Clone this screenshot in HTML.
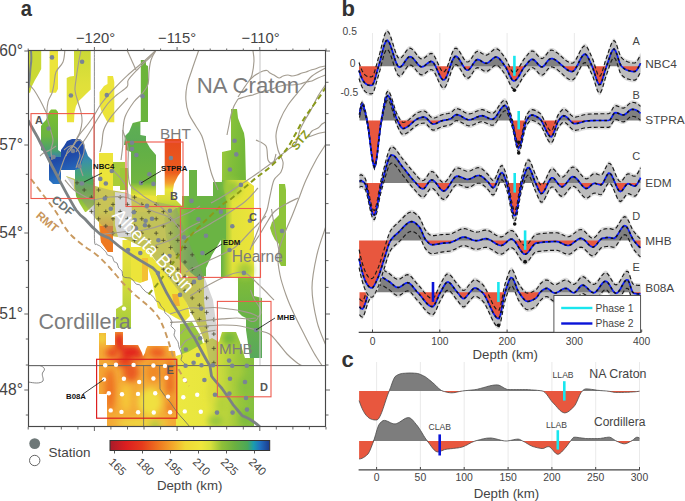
<!DOCTYPE html>
<html><head><meta charset="utf-8"><style>html,body{margin:0;padding:0;background:#fff;}svg{display:block;}text{font-family:"Liberation Sans",sans-serif;}</style></head>
<body><svg width="685" height="501" viewBox="0 0 685 501" font-family="Liberation Sans, sans-serif">
<defs>
<linearGradient id="g3" x1="0" y1="0" x2="0" y2="1"><stop offset="0" stop-color="#cbd936"/><stop offset="0.45" stop-color="#dfe03a"/><stop offset="1" stop-color="#ece43a"/></linearGradient>
<linearGradient id="gst" x1="0" y1="0" x2="0" y2="1"><stop offset="0" stop-color="#e64a1e"/><stop offset="0.5" stop-color="#ec5c1e"/><stop offset="0.66" stop-color="#f4a030"/><stop offset="0.75" stop-color="#ece43a"/><stop offset="0.9" stop-color="#d8dc3a"/><stop offset="1" stop-color="#b8d43a"/></linearGradient>
<linearGradient id="gcol" gradientUnits="userSpaceOnUse" x1="221" y1="0" x2="254" y2="0"><stop offset="0" stop-color="#62b044"/><stop offset="0.18" stop-color="#a4ca3a"/><stop offset="0.35" stop-color="#e2e23a"/><stop offset="1" stop-color="#ece43a"/></linearGradient>
<linearGradient id="gcolt" x1="0" y1="0" x2="1" y2="0.3"><stop offset="0" stop-color="#a4cc3a"/><stop offset="0.5" stop-color="#84c03a"/><stop offset="1" stop-color="#74b838"/></linearGradient>
<linearGradient id="gblue" x1="0" y1="0" x2="0.3" y2="1"><stop offset="0" stop-color="#1e46a4"/><stop offset="0.5" stop-color="#1f4aa8"/><stop offset="1" stop-color="#2a78c4"/></linearGradient>
<linearGradient id="gteal" x1="0" y1="0" x2="0" y2="1"><stop offset="0" stop-color="#2f70b8"/><stop offset="0.2" stop-color="#3a90a8"/><stop offset="0.42" stop-color="#46a47a"/><stop offset="0.65" stop-color="#62b040"/><stop offset="1" stop-color="#b0d03a"/></linearGradient>
<linearGradient id="ggl" x1="0" y1="0" x2="0" y2="1"><stop offset="0" stop-color="#7cc030"/><stop offset="0.55" stop-color="#6ab440"/><stop offset="0.85" stop-color="#48a070"/><stop offset="1" stop-color="#3a80b0"/></linearGradient>
<linearGradient id="gyo" x1="0" y1="0" x2="0" y2="1"><stop offset="0" stop-color="#ece43a"/><stop offset="0.6" stop-color="#ece43a"/><stop offset="0.8" stop-color="#f2a42c"/><stop offset="1" stop-color="#ee7020"/></linearGradient>
<linearGradient id="gbB" x1="0" y1="0" x2="0" y2="1"><stop offset="0" stop-color="#5eae48"/><stop offset="0.7" stop-color="#70b440"/><stop offset="0.85" stop-color="#c8d838"/><stop offset="1" stop-color="#ece43a"/></linearGradient>
<linearGradient id="gmhb" x1="0" y1="0" x2="0" y2="1"><stop offset="0" stop-color="#80bc38"/><stop offset="0.4" stop-color="#6cb444"/><stop offset="1" stop-color="#58a85c"/></linearGradient>
<linearGradient id="gbot" x1="0" y1="0" x2="0" y2="1"><stop offset="0" stop-color="#7cbc3c"/><stop offset="0.35" stop-color="#c4d43a"/><stop offset="1" stop-color="#e6e23c"/></linearGradient>
<radialGradient id="gred" cx="0.5" cy="0.5" r="0.5"><stop offset="0" stop-color="#e0281e"/><stop offset="0.6" stop-color="#e43a1e" stop-opacity="0.8"/><stop offset="1" stop-color="#ea5a20" stop-opacity="0"/></radialGradient>
<radialGradient id="gyel" cx="0.5" cy="0.5" r="0.5"><stop offset="0" stop-color="#f0e040"/><stop offset="0.6" stop-color="#f2d03a" stop-opacity="0.8"/><stop offset="1" stop-color="#f4b030" stop-opacity="0"/></radialGradient>
<linearGradient id="gbar" x1="0" y1="0" x2="1" y2="0">
<stop offset="0" stop-color="#a81c2a"/><stop offset="0.1" stop-color="#dc1e20"/><stop offset="0.2" stop-color="#e63a1c"/><stop offset="0.3" stop-color="#ee7420"/>
<stop offset="0.4" stop-color="#f4ac2c"/><stop offset="0.47" stop-color="#f0d836"/><stop offset="0.57" stop-color="#f0e63c"/><stop offset="0.63" stop-color="#d8e03c"/>
<stop offset="0.7" stop-color="#90c038"/><stop offset="0.78" stop-color="#6cb040"/><stop offset="0.86" stop-color="#4aa858"/><stop offset="0.9" stop-color="#1a9cb0"/>
<stop offset="0.94" stop-color="#2070c0"/><stop offset="1" stop-color="#1c3a8c"/></linearGradient>
<filter id="blur3" x="-50%" y="-50%" width="200%" height="200%"><feGaussianBlur stdDeviation="3"/></filter>
<linearGradient id="ggC" gradientUnits="userSpaceOnUse" x1="163" y1="0" x2="190" y2="0"><stop offset="0" stop-color="#d6dc3c"/><stop offset="0.5" stop-color="#9cc63e"/><stop offset="1" stop-color="#6ab444"/></linearGradient>
<linearGradient id="gstrip" gradientUnits="userSpaceOnUse" x1="0" y1="60" x2="0" y2="145"><stop offset="0" stop-color="#6cb438"/><stop offset="0.7" stop-color="#6ab43c"/><stop offset="0.8" stop-color="#5eae52"/><stop offset="1" stop-color="#5aaa56"/></linearGradient>
<linearGradient id="gbotx" gradientUnits="userSpaceOnUse" x1="176" y1="0" x2="254" y2="0"><stop offset="0" stop-color="#ece840"/><stop offset="0.38" stop-color="#e8e63e"/><stop offset="0.6" stop-color="#c4d83c"/><stop offset="0.82" stop-color="#98c63c"/><stop offset="1" stop-color="#84c040"/></linearGradient>
<linearGradient id="gylg" x1="0" y1="0" x2="0" y2="1"><stop offset="0" stop-color="#ece43a"/><stop offset="0.45" stop-color="#d8dc3a"/><stop offset="1" stop-color="#a4cc3c"/></linearGradient>
<clipPath id="mapclip"><rect x="28.5" y="50.5" width="297" height="376.5"/></clipPath>
</defs>
<rect width="685" height="501" fill="#fff"/>
<g clip-path="url(#mapclip)">
<polygon points="28.6,51 41.2,51 41.2,69 38,75 35,80 32,86 30,92.7 28.6,92.7" fill="#cad935"/>
<polygon points="49.6,51 58,51 58,89 56,92.7 49.6,92.7" fill="#ece43a"/>
<polygon points="74,51 90.7,51 90.7,89.5 86,94 82,98 78.7,101 76,106 74.5,112 74,122.3 67,122.3 66.7,110 66.7,78 70,76.5 74,76" fill="url(#g3)"/>
<polygon points="107.5,76 113,76 114.3,82 114.3,122.3 107.5,122.3 104,116 101,110 99.5,104 99.5,92 104,86 107.5,84" fill="#ece43a"/>
<polygon points="140.8,60 145.8,60 146,65 148,66 148,122 140.4,122 140.4,135 146,136 146,145 124,145 125,136 129,132 132.7,123 140.8,121" fill="url(#gstrip)"/>
<polygon points="66,176 95,186 110,190 125,192.5 140,198 157,202 176,206 184,230 192,250 204,276 213,300 217,330 217,366 210,366 206,345 200,330 192,314 186,302 178,290 164,272 148,250 124,238 112,236 95,218 78,195" fill="#e2e23e"/>
<polygon points="41,126 43,123 46,120 49,112 51,109.5 56,109.5 58,112 58,150 61,152 61,158 49,158 45,152 41,150" fill="url(#ggl)"/>
<polygon points="78,150 85,148 88,156 92,160 92,175 94,180 94,212 85,212 80,204 76,196 75,186 75,170 78,165" fill="url(#gteal)"/>
<polygon points="49,157 61,157 61,150 64,146 67,141 72,139 80,139 84,143 85,152 80,168 75,170 61,170 61,184 53,184 49,180" fill="url(#gblue)"/>
<polygon points="99,153 113,153 113,250 108,252 101,242 99,226" fill="url(#gyo)"/>
<polygon points="113,162 125,162 125,186 113,186" fill="#a8cc3a"/>
<polygon points="126,141 146,141 150,148 156,155 156,200 131,200 131,152 126,150" fill="url(#gbB)"/>
<polygon points="120,168 128,168 128,190 120,190" fill="#9cc83a"/>
<polygon points="128,194 157,196 157,206 182,206 182,212 128,212" fill="#ece43a"/>
<polygon points="164.7,139 181,139 181,172 178,176 176,180 174,184 173,190 173,196 176,200 180,204 182,206 157,206 157,195 164.7,195" fill="url(#gst)"/>
<polygon points="231,109 237,109 238,118 241,126 244,133 245,140 246,182 222,182 222,152 231,150" fill="url(#gcolt)"/>
<polygon points="222,180 246,180 254,186 254,277 221,277 221,200" fill="url(#gcol)"/>
<polygon points="279,184 285,184 286,190 286,266 281,266 279,262 279,244 275,240 272,234 270,228 272,222 276,218 279,215" fill="#8ec43a"/>
<polygon points="189,170 197,170 197,196 213,196 213,182 222,182 226,200 226,240 222,238 218,245 212,255 206,268 206,278 200,280 190,272 178,258 166,238 164,218 176,208 182,206 182,196 189,196" fill="url(#ggC)"/>
<polygon points="115,192 131,194 132,215 131,237 118,237 115,225" fill="#ffffff"/>
<polygon points="204,276 209,277 213,282 217,300 217,344 210,344 206,320 204,300" fill="#ffffff"/>
<polygon points="64,176 74,180 74,189 70,186" fill="#ffffff"/>
<polygon points="86,212 95,204 95,240 90,236" fill="#ffffff"/>
<polygon points="100,226 113,226 113,252 108,252 101,242" fill="#ee7a22"/>
<polygon points="122.5,240 131,240 131,308 131,328 116,328 116,309 122.5,305" fill="url(#gylg)"/>
<polygon points="131,247 148,247 148,280 140,283 131,280" fill="#ece43a"/>
<polygon points="142,258 148,258 148,280 142,282" fill="#f4c034"/>
<polygon points="148,252 160,266 172,280 182,292 188,306 190,316 184,322 176,318 166,312 158,308 155,295 152,280 148,268" fill="#ece43a"/>
<polygon points="172,294 178,294 180,306 174,306" fill="#f2b030"/>
<polygon points="180,324 192,322 200,335 206,352 206,366 184,366 180,345" fill="#9ac83e"/>
<polygon points="238,277 254,277 254,296 262,298 262,358 250,358 246,330 246,318 242,316 238,312" fill="url(#gmhb)"/>
<polygon points="176,356 188,352 200,345 212,338 219,342 222,332 236,332 240,342 245,358 254,358 254,427 176,427" fill="url(#gbotx)"/>
<polygon points="99,333 106,333 106,345 115,345 115,332 123,332 123,345 138,345 140,349 142,353 143,356.5 145,353 146,349 147.5,346 168.6,346 168.6,351 175,351 176,359 176,427 107,427 107,394 99,394" fill="#f4aa36"/>
<ellipse cx="245" cy="270" rx="8" ry="8" fill="#a8cc3a" filter="url(#blur3)"/>
<ellipse cx="232" cy="188" rx="8" ry="8" fill="#9cc83a" filter="url(#blur3)"/>
<clipPath id="b08c"><polygon points="99,333 106,333 106,345 115,345 115,332 123,332 123,345 138,345 140,349 142,353 143,356.5 145,353 146,349 147.5,346 168.6,346 168.6,351 175,351 176,359 176,427 107,427 107,394 99,394"/></clipPath>
<g clip-path="url(#b08c)"><g filter="url(#blur3)">
<ellipse cx="102" cy="338" rx="4" ry="6" fill="#f0e040"/>
<ellipse cx="119" cy="341" rx="5" ry="9" fill="#e0201c"/>
<ellipse cx="131" cy="352" rx="11" ry="7" fill="#e2281e"/>
<ellipse cx="124" cy="362" rx="8" ry="5" fill="#e43a1e"/>
<ellipse cx="112" cy="352" rx="5" ry="5" fill="#f29a30"/>
<ellipse cx="110" cy="390" rx="5" ry="22" fill="#ee7020"/>
<ellipse cx="131" cy="372" rx="8" ry="10" fill="#ea5a20"/>
<ellipse cx="126" cy="398" rx="5" ry="14" fill="#f6c838"/>
<ellipse cx="150" cy="402" rx="12" ry="14" fill="#f0e040"/>
<ellipse cx="154" cy="372" rx="8" ry="10" fill="#f08a28"/>
<ellipse cx="170" cy="385" rx="4" ry="30" fill="#ea6a22"/>
<ellipse cx="170" cy="398" rx="2" ry="6" fill="#f4b030"/>
<ellipse cx="155" cy="352" rx="8" ry="5" fill="#f07a24"/>
<ellipse cx="172" cy="354" rx="4" ry="4" fill="#f2b030"/>
<ellipse cx="112" cy="353" rx="6" ry="5" fill="#e8401e"/>
<ellipse cx="140" cy="357" rx="5" ry="3" fill="#e43a1e"/>
<ellipse cx="158" cy="353" rx="8" ry="5" fill="#ec5a20"/>
<ellipse cx="142" cy="423" rx="26" ry="5" fill="#f0d840"/>
<ellipse cx="155" cy="425" rx="6" ry="4" fill="#a8cc40"/>
<ellipse cx="103" cy="375" rx="3" ry="14" fill="#f4a030"/>
</g></g>
<clipPath id="botc"><polygon points="176,356 188,352 200,345 212,338 219,342 222,332 236,332 240,342 245,358 254,358 254,427 176,427"/></clipPath>
<g clip-path="url(#botc)"><g filter="url(#blur3)">
<ellipse cx="229" cy="338" rx="7" ry="7" fill="#74b83c"/>
<ellipse cx="236" cy="372" rx="6" ry="8" fill="#a8cc3a"/>
<ellipse cx="246" cy="385" rx="6" ry="10" fill="#88c03c"/>
<ellipse cx="222" cy="405" rx="6" ry="10" fill="#b4d23a"/>
<ellipse cx="246" cy="418" rx="6" ry="8" fill="#7cbc3c"/>
<ellipse cx="216" cy="421" rx="8" ry="6" fill="#98c63c"/>
<ellipse cx="212" cy="392" rx="4" ry="12" fill="#dcdc3c"/>
</g></g>
<polygon points="66,176 95,186 110,190 125,192.5 140,198 157,202 176,206 184,230 192,250 204,276 213,300 217,330 217,366 210,366 206,345 200,330 192,314 186,302 178,290 164,272 148,250 124,238 112,236 95,218 78,195" fill="#8a8a8a" fill-opacity="0.36"/>
<path d="M74.9,182.8h4.2M77.0,180.7v4.2M82.1,190.0h4.2M84.2,187.9v4.2M96.5,190.0h4.2M98.6,187.9v4.2M89.3,197.2h4.2M91.4,195.1v4.2M103.7,197.2h4.2M105.8,195.1v4.2M118.1,197.2h4.2M120.2,195.1v4.2M132.5,197.2h4.2M134.6,195.1v4.2M96.5,204.4h4.2M98.6,202.3v4.2M110.9,204.4h4.2M113.0,202.3v4.2M125.3,204.4h4.2M127.4,202.3v4.2M139.7,204.4h4.2M141.8,202.3v4.2M154.1,204.4h4.2M156.2,202.3v4.2M89.3,211.6h4.2M91.4,209.5v4.2M103.7,211.6h4.2M105.8,209.5v4.2M118.1,211.6h4.2M120.2,209.5v4.2M132.5,211.6h4.2M134.6,209.5v4.2M146.9,211.6h4.2M149.0,209.5v4.2M161.3,211.6h4.2M163.4,209.5v4.2M96.5,218.8h4.2M98.6,216.7v4.2M110.9,218.8h4.2M113.0,216.7v4.2M125.3,218.8h4.2M127.4,216.7v4.2M139.7,218.8h4.2M141.8,216.7v4.2M154.1,218.8h4.2M156.2,216.7v4.2M168.5,218.8h4.2M170.6,216.7v4.2M103.7,226.0h4.2M105.8,223.9v4.2M118.1,226.0h4.2M120.2,223.9v4.2M132.5,226.0h4.2M134.6,223.9v4.2M146.9,226.0h4.2M149.0,223.9v4.2M161.3,226.0h4.2M163.4,223.9v4.2M175.7,226.0h4.2M177.8,223.9v4.2M110.9,233.2h4.2M113.0,231.1v4.2M125.3,233.2h4.2M127.4,231.1v4.2M139.7,233.2h4.2M141.8,231.1v4.2M154.1,233.2h4.2M156.2,231.1v4.2M168.5,233.2h4.2M170.6,231.1v4.2M132.5,240.4h4.2M134.6,238.3v4.2M146.9,240.4h4.2M149.0,238.3v4.2M161.3,240.4h4.2M163.4,238.3v4.2M175.7,240.4h4.2M177.8,238.3v4.2M154.1,247.6h4.2M156.2,245.5v4.2M168.5,247.6h4.2M170.6,245.5v4.2M182.9,247.6h4.2M185.0,245.5v4.2M161.3,254.8h4.2M163.4,252.7v4.2M175.7,254.8h4.2M177.8,252.7v4.2M190.1,254.8h4.2M192.2,252.7v4.2M168.5,262.0h4.2M170.6,259.9v4.2M182.9,262.0h4.2M185.0,259.9v4.2M161.3,269.2h4.2M163.4,267.1v4.2M175.7,269.2h4.2M177.8,267.1v4.2M190.1,269.2h4.2M192.2,267.1v4.2M168.5,276.4h4.2M170.6,274.3v4.2M182.9,276.4h4.2M185.0,274.3v4.2M197.3,276.4h4.2M199.4,274.3v4.2M175.7,283.6h4.2M177.8,281.5v4.2M190.1,283.6h4.2M192.2,281.5v4.2M182.9,290.8h4.2M185.0,288.7v4.2M197.3,290.8h4.2M199.4,288.7v4.2M190.1,298.0h4.2M192.2,295.9v4.2M204.5,298.0h4.2M206.6,295.9v4.2M197.3,305.2h4.2M199.4,303.1v4.2M190.1,312.4h4.2M192.2,310.3v4.2M204.5,312.4h4.2M206.6,310.3v4.2M197.3,319.6h4.2M199.4,317.5v4.2M211.7,319.6h4.2M213.8,317.5v4.2M204.5,326.8h4.2M206.6,324.7v4.2M211.7,334.0h4.2M213.8,331.9v4.2M204.5,341.2h4.2M206.6,339.1v4.2M211.7,348.4h4.2M213.8,346.3v4.2M211.7,362.8h4.2M213.8,360.7v4.2" stroke="#46462a" stroke-width="0.85" fill="none" opacity="0.9"/>
<path d="M64.9,50.0 C64.6,52.0 64.5,58.3 63.0,62.0 C61.5,65.7 57.5,68.3 56.0,72.0 C54.5,75.7 54.7,80.5 54.0,84.0 C53.3,87.5 53.0,90.0 52.0,93.0 C51.0,96.0 48.8,98.2 48.0,102.0 C47.2,105.8 46.7,111.7 47.0,116.0 C47.3,120.3 49.0,124.0 50.0,128.0 C51.0,132.0 52.8,136.3 53.0,140.0 C53.2,143.7 51.2,146.7 51.0,150.0 C50.8,153.3 51.8,158.3 52.0,160.0" fill="none" stroke="#a39c90" stroke-width="1.15"/>
<path d="M28.5,84.0 C29.4,85.0 32.1,87.3 34.0,90.0 C35.9,92.7 38.2,96.7 40.0,100.0 C41.8,103.3 43.7,107.3 45.0,110.0 C46.3,112.7 47.5,115.0 48.0,116.0" fill="none" stroke="#a39c90" stroke-width="1.15"/>
<path d="M58.0,178.0 C58.7,175.8 60.7,168.8 62.0,165.0 C63.3,161.2 64.5,157.6 66.0,155.0 C67.5,152.4 69.3,151.8 71.0,149.6 C72.7,147.4 74.5,143.2 76.0,141.6 C77.5,140.0 78.7,139.4 80.0,140.0 C81.3,140.6 83.3,143.0 84.0,145.0 C84.7,147.0 84.3,149.8 84.0,152.0 C83.7,154.2 82.7,156.0 82.0,158.0 C81.3,160.0 80.2,162.0 80.0,164.0 C79.8,166.0 80.5,168.0 81.0,170.0 C81.5,172.0 82.7,175.0 83.0,176.0" fill="none" stroke="#a39c90" stroke-width="1.15"/>
<path d="M64.0,150.0 C65.0,149.3 68.0,146.3 70.0,146.0 C72.0,145.7 74.3,146.5 76.0,148.0 C77.7,149.5 79.7,152.7 80.0,155.0 C80.3,157.3 78.7,159.8 78.0,162.0 C77.3,164.2 76.3,167.0 76.0,168.0" fill="none" stroke="#a39c90" stroke-width="1.15"/>
<path d="M40.0,156.0 C40.7,155.4 42.3,153.7 44.0,152.7 C45.7,151.7 48.0,151.1 50.0,150.0 C52.0,148.9 55.0,146.7 56.0,146.0" fill="none" stroke="#a39c90" stroke-width="1.15"/>
<path d="M81.0,50.0 C80.5,52.7 78.8,61.0 78.0,66.0 C77.2,71.0 76.5,76.0 76.0,80.0 C75.5,84.0 74.7,86.3 75.0,90.0 C75.3,93.7 77.0,98.3 78.0,102.0 C79.0,105.7 80.3,108.7 81.0,112.0 C81.7,115.3 82.2,118.7 82.0,122.0 C81.8,125.3 80.8,129.3 80.0,132.0 C79.2,134.7 78.0,136.0 77.0,138.0 C76.0,140.0 75.5,142.0 74.0,144.0 C72.5,146.0 69.3,148.0 68.0,150.0 C66.7,152.0 66.3,155.0 66.0,156.0" fill="none" stroke="#a39c90" stroke-width="1.15"/>
<path d="M155.7,50.5 C153.5,52.5 147.3,58.3 142.6,62.5 C137.8,66.7 132.3,70.8 127.2,75.6 C122.1,80.3 116.3,86.3 111.9,91.0 C107.5,95.7 103.9,100.0 101.0,104.0 C98.1,108.0 96.6,111.7 94.4,115.0 C92.2,118.3 90.4,120.8 88.0,124.0 C85.6,127.2 82.3,130.7 80.0,134.0 C77.7,137.3 75.7,141.3 74.0,144.0 C72.3,146.7 70.7,149.0 70.0,150.0" fill="none" stroke="#a39c90" stroke-width="1.15"/>
<path d="M155.7,50.5 C155.3,51.0 156.4,50.7 153.5,53.8 C150.6,56.9 142.2,64.6 138.0,69.0 C133.8,73.4 130.1,77.1 128.3,80.0 C126.5,82.9 129.2,84.0 127.2,86.6 C125.2,89.1 119.6,92.4 116.3,95.3 C113.0,98.2 110.4,100.4 107.5,104.0 C104.6,107.6 101.3,113.0 98.8,117.0 C96.2,121.0 94.3,124.5 92.2,128.0 C90.1,131.5 88.0,135.0 86.0,138.0 C84.0,141.0 81.7,143.7 80.0,146.0 C78.3,148.3 76.7,151.0 76.0,152.0" fill="none" stroke="#a39c90" stroke-width="1.15"/>
<path d="M155.7,50.5 C154.9,52.1 152.1,56.5 151.0,60.0 C149.9,63.5 149.5,67.2 149.0,71.3 C148.5,75.4 149.1,80.8 148.0,84.4 C146.9,88.0 145.0,90.1 142.6,93.0 C140.2,95.9 136.7,98.0 133.8,102.0 C130.9,106.0 126.8,111.9 125.0,117.0 C123.2,122.1 123.2,127.9 122.8,132.6 C122.4,137.3 123.1,140.4 122.8,145.0 C122.5,149.6 121.3,157.5 121.0,160.0" fill="none" stroke="#a39c90" stroke-width="1.15"/>
<path d="M127.8,98.0 C125.1,101.0 115.8,110.6 111.8,115.9 C107.8,121.2 105.4,125.2 103.8,129.8 C102.2,134.5 102.5,140.1 101.9,143.8 C101.3,147.5 100.3,150.6 100.0,152.0" fill="none" stroke="#a39c90" stroke-width="1.15"/>
<path d="M127,50 L136,70" fill="none" stroke="#a39c90" stroke-width="1.15"/>
<path d="M198.8,50.0 C197.7,53.3 193.9,64.0 191.9,70.0 C189.9,76.0 187.9,81.0 186.9,86.0 C185.9,91.0 185.6,95.3 185.9,100.0 C186.2,104.7 187.2,109.7 188.9,114.0 C190.6,118.3 193.7,122.3 195.8,126.0 C198.0,129.7 200.1,132.0 201.8,136.0 C203.5,140.0 204.8,146.0 205.8,150.0 C206.8,154.0 207.0,155.8 208.0,160.0 C209.0,164.2 210.3,170.0 212.0,175.0 C213.7,180.0 217.0,187.5 218.0,190.0" fill="none" stroke="#a39c90" stroke-width="1.15"/>
<path d="M253.0,51.0 C253.2,52.7 254.2,57.0 254.0,61.0 C253.8,65.0 252.8,71.7 252.0,75.0 C251.2,78.3 249.5,80.0 249.0,81.0" fill="none" stroke="#a39c90" stroke-width="1.15"/>
<path d="M238.0,97.0 C239.0,95.5 242.2,90.7 244.0,88.0 C245.8,85.3 247.3,83.0 249.0,81.0 C250.7,79.0 252.3,77.3 254.0,76.0 C255.7,74.7 257.5,73.8 259.0,73.0 C260.5,72.2 261.7,71.4 263.0,71.0 C264.3,70.6 265.8,70.2 267.0,70.5 C268.2,70.8 268.8,72.2 270.0,73.0 C271.2,73.8 272.5,74.2 274.0,75.0 C275.5,75.8 277.5,77.8 279.0,78.0 C280.5,78.2 281.5,76.5 283.0,76.0 C284.5,75.5 286.5,75.0 288.0,75.0 C289.5,75.0 290.5,76.0 292.0,76.0 C293.5,76.0 295.3,75.5 297.0,75.0 C298.7,74.5 300.5,73.5 302.0,73.0 C303.5,72.5 304.5,72.5 306.0,72.0 C307.5,71.5 309.5,70.5 311.0,70.0 C312.5,69.5 313.5,69.5 315.0,69.0 C316.5,68.5 318.2,67.5 320.0,67.0 C321.8,66.5 324.6,66.2 325.5,66.0" fill="none" stroke="#a39c90" stroke-width="1.15"/>
<path d="M238.0,99.0 C239.7,98.5 245.5,96.7 248.0,96.0 C250.5,95.3 251.3,95.5 253.0,95.0 C254.7,94.5 256.2,93.5 258.0,93.0 C259.8,92.5 262.0,92.5 264.0,92.0 C266.0,91.5 267.8,90.8 270.0,90.0 C272.2,89.2 274.5,87.8 277.0,87.0 C279.5,86.2 282.5,85.3 285.0,85.0 C287.5,84.7 289.5,85.2 292.0,85.0 C294.5,84.8 297.7,84.5 300.0,84.0 C302.3,83.5 304.0,82.5 306.0,82.0 C308.0,81.5 310.0,81.7 312.0,81.0 C314.0,80.3 315.8,79.0 318.0,78.0 C320.2,77.0 324.2,75.5 325.5,75.0" fill="none" stroke="#a39c90" stroke-width="1.15"/>
<path d="M238.0,99.0 C237.3,100.2 235.2,103.3 234.0,106.0 C232.8,108.7 231.8,111.8 231.0,115.0 C230.2,118.2 229.7,121.7 229.0,125.0 C228.3,128.3 227.3,133.3 227.0,135.0" fill="none" stroke="#a39c90" stroke-width="1.15"/>
<path d="M325.5,68.0 C323.2,69.3 316.2,72.3 312.0,76.0 C307.8,79.7 304.0,85.2 300.0,90.0 C296.0,94.8 291.3,100.0 288.0,105.0 C284.7,110.0 282.0,115.0 280.0,120.0 C278.0,125.0 276.3,130.0 276.0,135.0 C275.7,140.0 276.8,145.5 278.0,150.0 C279.2,154.5 282.5,158.3 283.0,162.0 C283.5,165.7 282.5,169.0 281.0,172.0 C279.5,175.0 275.8,176.0 274.0,180.0 C272.2,184.0 271.2,191.0 270.0,196.0 C268.8,201.0 268.3,206.0 267.0,210.0 C265.7,214.0 263.5,216.7 262.0,220.0 C260.5,223.3 259.3,226.7 258.0,230.0 C256.7,233.3 255.3,236.7 254.0,240.0 C252.7,243.3 250.7,248.3 250.0,250.0" fill="none" stroke="#a39c90" stroke-width="1.15"/>
<path d="M256.0,140.0 C257.7,141.0 264.0,142.7 266.0,146.0 C268.0,149.3 266.8,157.2 268.0,160.0 C269.2,162.8 271.7,164.0 273.0,163.0 C274.3,162.0 275.5,155.5 276.0,154.0" fill="none" stroke="#a39c90" stroke-width="1.15"/>
<path d="M211.0,203.0 C212.5,202.2 217.3,199.5 220.0,198.0 C222.7,196.5 224.7,195.3 227.0,193.8 C229.3,192.3 231.7,190.6 234.0,189.0 C236.3,187.4 238.7,185.9 241.0,184.4 C243.3,182.9 245.7,181.4 248.0,179.8 C250.3,178.2 252.7,176.6 255.0,175.0 C257.3,173.4 259.7,171.7 262.0,170.0 C264.3,168.3 266.8,166.5 268.9,165.0 C271.0,163.5 272.9,162.4 274.5,161.0 C276.1,159.6 277.1,158.2 278.7,156.8 C280.3,155.4 282.3,154.0 284.2,152.6 C286.1,151.2 287.9,149.8 289.8,148.4 C291.7,147.0 294.1,145.8 295.4,144.2 C296.7,142.6 296.7,141.4 297.5,139.0 C298.3,136.6 298.8,133.2 300.0,130.0 C301.2,126.8 303.2,123.3 305.0,120.0 C306.8,116.7 308.8,114.0 311.0,110.0 C313.2,106.0 315.5,100.3 318.0,96.0 C320.5,91.7 324.7,86.0 326.0,84.0" fill="none" stroke="#a39c90" stroke-width="1.15"/>
<path d="M308.0,137.0 C308.7,136.0 310.3,132.5 312.0,131.0 C313.7,129.5 316.3,129.2 318.0,128.0 C319.7,126.8 320.8,125.0 322.0,124.0 C323.2,123.0 324.9,122.3 325.5,122.0" fill="none" stroke="#a39c90" stroke-width="1.15"/>
<path d="M308.0,137.0 C309.0,136.7 312.0,135.7 314.0,135.0 C316.0,134.3 318.1,133.5 320.0,133.0 C321.9,132.5 324.6,132.2 325.5,132.0" fill="none" stroke="#a39c90" stroke-width="1.15"/>
<path d="M326.0,144.0 C324.3,146.7 319.3,154.0 316.0,160.0 C312.7,166.0 308.8,173.7 306.0,180.0 C303.2,186.3 301.3,192.0 299.0,198.0 C296.7,204.0 294.5,209.8 292.0,216.0 C289.5,222.2 286.3,228.5 284.0,235.0 C281.7,241.5 278.7,248.3 278.0,255.0 C277.3,261.7 278.7,268.3 280.0,275.0 C281.3,281.7 283.7,288.5 286.0,295.0 C288.3,301.5 290.8,307.2 294.0,314.0 C297.2,320.8 301.7,329.5 305.0,336.0 C308.3,342.5 311.2,348.1 314.0,353.0 C316.8,357.9 320.7,363.5 322.0,365.6" fill="none" stroke="#a39c90" stroke-width="1.15"/>
<path d="M298.0,198.0 C296.0,199.0 290.0,201.7 286.0,204.0 C282.0,206.3 277.3,208.7 274.0,212.0 C270.7,215.3 268.3,220.3 266.0,224.0 C263.7,227.7 262.3,230.3 260.0,234.0 C257.7,237.7 253.3,244.0 252.0,246.0" fill="none" stroke="#a39c90" stroke-width="1.15"/>
<path d="M271.5,209.0 C272.2,213.4 274.6,227.9 276.0,235.6 C277.4,243.3 279.0,250.6 280.0,255.0 C281.0,259.4 281.7,260.8 282.0,262.0" fill="none" stroke="#a39c90" stroke-width="1.15"/>
<path d="M326.0,226.0 C324.5,230.8 319.3,244.2 317.0,254.5 C314.7,264.8 312.0,276.8 312.0,288.0 C312.0,299.2 314.7,312.0 317.0,321.6 C319.3,331.2 324.5,341.6 326.0,345.6" fill="none" stroke="#a39c90" stroke-width="1.15"/>
<path d="M170.0,314.0 C173.3,313.0 184.8,308.9 190.0,308.0 C195.2,307.1 197.5,308.5 201.5,308.4 C205.5,308.3 208.8,307.4 213.8,307.5 C218.8,307.6 226.1,308.6 231.3,309.3 C236.6,310.0 241.5,311.0 245.3,311.9 C249.1,312.8 251.9,313.6 254.0,314.5 C256.1,315.4 257.8,315.9 258.0,317.0 C258.2,318.1 256.3,320.3 255.0,321.0 C253.7,321.7 251.3,321.4 250.0,321.0 C248.7,320.6 247.5,319.2 247.0,318.9" fill="none" stroke="#a39c90" stroke-width="1.15"/>
<path d="M250.5,290.0 C251.1,291.5 252.5,296.0 254.0,298.8 C255.5,301.6 258.1,304.6 259.3,307.0 C260.5,309.4 261.2,311.3 261.0,313.0 C260.8,314.7 258.5,316.3 258.0,317.0" fill="none" stroke="#a39c90" stroke-width="1.15"/>
<path d="M170.0,322.4 C172.9,322.2 181.7,321.8 187.5,321.5 C193.3,321.2 199.2,321.0 205.0,320.6 C210.8,320.2 217.2,319.3 222.5,318.9 C227.8,318.5 232.4,318.0 236.5,318.0 C240.6,318.0 243.8,318.9 247.0,318.9 C250.2,318.9 254.3,318.1 255.8,318.0" fill="none" stroke="#a39c90" stroke-width="1.15"/>
<path d="M180.5,333.8 C181.7,332.8 183.4,329.0 187.5,327.7 C191.6,326.4 199.2,326.4 205.0,326.0 C210.8,325.6 216.7,325.0 222.5,325.0 C228.3,325.0 234.2,325.1 240.0,326.0 C245.8,326.9 252.7,329.0 257.6,330.3 C262.5,331.6 266.1,331.9 269.5,334.0 C272.9,336.1 275.1,339.7 278.0,343.0 C280.9,346.3 284.0,350.8 287.0,354.0 C290.0,357.2 293.6,360.1 296.0,362.0 C298.4,363.9 300.5,365.0 301.4,365.6" fill="none" stroke="#a39c90" stroke-width="1.15"/>
<path d="M180.5,347.8 C181.4,346.6 183.8,342.6 185.8,340.8 C187.9,339.1 189.6,338.8 192.8,337.3 C196.0,335.8 201.2,333.2 205.0,332.0 C208.8,330.8 213.8,330.6 215.5,330.3" fill="none" stroke="#a39c90" stroke-width="1.15"/>
<path d="M65.0,180.0 C66.5,181.7 70.2,187.0 74.0,190.0 C77.8,193.0 84.7,196.3 88.0,198.0 C91.3,199.7 93.0,199.7 94.0,200.0" fill="none" stroke="#a39c90" stroke-width="1.15"/>
<path d="M94.0,200.0 C96.7,199.5 104.3,197.3 110.0,197.0 C115.7,196.7 121.3,195.8 128.0,198.0 C134.7,200.2 143.0,206.7 150.0,210.0 C157.0,213.3 164.7,214.3 170.0,218.0 C175.3,221.7 180.0,229.7 182.0,232.0" fill="none" stroke="#a39c90" stroke-width="1.15"/>
<path d="M113.0,170.0 C114.5,171.7 119.7,177.0 122.0,180.0 C124.3,183.0 126.0,185.0 127.0,188.0 C128.0,191.0 127.8,196.3 128.0,198.0" fill="none" stroke="#a39c90" stroke-width="1.15"/>
<path d="M182.0,240.0 C186.7,237.3 200.0,230.0 210.0,224.0 C220.0,218.0 234.0,210.0 242.0,204.0 C250.0,198.0 255.3,190.7 258.0,188.0" fill="none" stroke="#a39c90" stroke-width="1.15"/>
<path d="M186.0,272.0 C190.0,270.0 202.0,264.0 210.0,260.0 C218.0,256.0 227.3,252.7 234.0,248.0 C240.7,243.3 244.7,237.3 250.0,232.0 C255.3,226.7 263.3,218.7 266.0,216.0" fill="none" stroke="#a39c90" stroke-width="1.15"/>
<path d="M190.0,296.0 C194.7,293.3 209.3,284.0 218.0,280.0 C226.7,276.0 235.3,271.3 242.0,272.0 C248.7,272.7 252.7,279.3 258.0,284.0 C263.3,288.7 271.3,297.3 274.0,300.0" fill="none" stroke="#a39c90" stroke-width="1.15"/>
<path d="M122.6,130.0 C123.5,133.0 127.1,142.0 128.0,148.0 C128.9,154.0 127.7,160.0 128.0,166.0 C128.3,172.0 128.2,179.8 129.7,184.0 C131.2,188.2 134.3,188.7 137.0,191.0 C139.7,193.3 142.5,195.7 146.0,198.0 C149.5,200.3 154.5,202.6 158.0,205.0 C161.5,207.4 164.2,209.8 167.0,212.6 C169.8,215.4 173.7,220.4 175.0,222.0" fill="none" stroke="#a39c90" stroke-width="1.15"/>
<path d="M100.0,234.6 C103.7,234.2 114.7,232.8 122.0,232.0 C129.3,231.2 136.7,231.4 144.0,230.0 C151.3,228.6 160.2,225.8 166.0,223.6 C171.8,221.4 175.0,218.9 179.0,217.0 C183.0,215.1 186.5,213.8 190.0,212.0 C193.5,210.2 198.3,207.0 200.0,206.0" fill="none" stroke="#a39c90" stroke-width="1.15"/>
<path d="M155.0,245.5 C157.9,244.4 167.0,241.9 172.5,239.0 C178.0,236.1 183.4,230.8 188.0,228.0 C192.6,225.2 198.0,223.0 200.0,222.0" fill="none" stroke="#a39c90" stroke-width="1.15"/>
<line x1="260" y1="51" x2="260" y2="365.6" stroke="#c8c8c8" stroke-width="1.1"/>
<path d="M94.4,50.5 C94.4,62.9 94.3,223.1 94.4,236.0 C94.5,248.9 95.9,243.3 96.3,244.0 C96.7,244.7 99.6,245.7 100.0,246.0 C100.4,246.3 102.3,248.4 102.7,248.8 C103.1,249.2 105.7,251.6 106.0,252.0 C106.3,252.4 107.1,254.7 107.5,255.0 C107.9,255.3 111.9,256.3 112.3,256.7 C112.7,257.1 113.7,261.1 114.0,261.5 C114.3,261.9 116.7,262.6 117.0,263.0 C117.3,263.4 118.4,267.5 118.7,268.0 C119.0,268.5 121.7,270.5 122.0,271.0 C122.3,271.5 122.5,275.6 122.7,276.0 C122.9,276.4 124.5,277.4 125.0,277.5 C125.5,277.6 129.5,277.8 130.0,278.0 C130.5,278.2 132.6,279.6 133.0,280.0 C133.4,280.4 135.5,283.7 136.0,284.0 C136.5,284.3 139.6,284.7 140.0,285.0 C140.4,285.3 141.6,287.5 142.0,288.0 C142.4,288.5 145.5,291.6 146.0,292.0 C146.5,292.4 149.5,293.6 150.0,294.0 C150.5,294.4 153.6,297.0 154.0,297.5 C154.4,298.0 155.7,300.7 156.0,301.0 C156.3,301.3 158.7,301.7 159.0,302.0 C159.3,302.3 160.7,305.5 161.0,306.0 C161.3,306.5 163.7,308.5 164.0,309.0 C164.3,309.5 164.8,312.6 165.0,313.0 C165.2,313.4 167.2,314.7 167.5,315.0 C167.8,315.3 169.7,317.5 170.0,318.0 C170.3,318.5 171.9,321.5 172.0,322.0 C172.1,322.5 170.8,325.5 171.0,326.0 C171.2,326.5 174.8,329.4 175.0,330.0 C175.2,330.6 173.9,334.4 174.0,335.0 C174.1,335.6 175.7,338.5 176.0,339.0 C176.3,339.5 177.8,341.5 178.0,342.0 C178.2,342.5 178.8,346.3 179.0,347.0 C179.2,347.7 180.8,351.4 181.0,352.0 C181.2,352.6 182.0,355.5 182.0,356.0 C182.0,356.5 180.9,359.5 181.0,360.0 C181.1,360.5 183.7,362.6 184.0,363.0 C184.3,363.4 185.9,365.4 186.0,365.6" fill="none" stroke="#707070" stroke-width="0.8"/>
<line x1="28.3" y1="365.6" x2="326" y2="365.6" stroke="#666" stroke-width="1"/>
<path d="M28.3,365.6 L40,365.6 C44,367 46,369 43,372 C41,375 44,378 43,381 C40,384 34,383 28.3,382" fill="none" stroke="#666" stroke-width="0.8"/>
<line x1="143.6" y1="365.6" x2="143.6" y2="427" stroke="#666" stroke-width="0.8"/>
<path d="M159.6,365.6 L160,389 C163,393 166,398 170,402 C174,408 178,414 184,420 L190,427" fill="none" stroke="#666" stroke-width="0.8"/>
<path d="M326.0,87.0 C324.7,89.0 320.7,95.2 318.0,99.0 C315.3,102.8 312.7,106.2 310.0,110.0 C307.3,113.8 304.4,118.0 302.0,122.0 C299.6,126.0 297.7,130.1 295.5,134.0 C293.3,137.9 291.3,142.0 289.0,145.6 C286.7,149.2 284.2,152.3 281.5,155.4 C278.8,158.5 275.8,161.7 273.0,164.4 C270.2,167.1 267.5,169.2 264.7,171.4 C261.9,173.6 259.1,175.5 256.3,177.7 C253.5,179.9 250.8,182.4 248.0,184.7 C245.2,187.0 242.4,189.4 239.6,191.7 C236.8,194.0 234.0,196.6 231.2,198.7 C228.4,200.8 225.2,202.4 222.8,204.2 C220.4,206.0 220.1,206.5 217.0,209.5 C213.9,212.5 208.2,217.9 204.0,222.0 C199.8,226.1 195.3,230.3 192.0,234.0 C188.7,237.7 186.3,240.3 184.0,244.0 C181.7,247.7 180.3,252.2 178.0,256.0 C175.7,259.8 173.2,262.7 170.0,267.0 C166.8,271.3 162.7,277.3 159.0,282.0 C155.3,286.7 149.8,292.8 148.0,295.0" fill="none" stroke="#8a9a1a" stroke-width="2" stroke-dasharray="5.5,3.5"/>
<path d="M31.0,179.0 C33.2,181.8 39.8,190.5 44.0,196.0 C48.2,201.5 52.7,207.0 56.0,212.0 C59.3,217.0 61.3,222.0 64.0,226.0 C66.7,230.0 68.7,232.7 72.0,236.0 C75.3,239.3 79.7,242.7 84.0,246.0 C88.3,249.3 93.7,252.3 98.0,256.0 C102.3,259.7 106.0,263.7 110.0,268.0 C114.0,272.3 118.0,277.7 122.0,282.0 C126.0,286.3 130.0,290.3 134.0,294.0 C138.0,297.7 142.3,300.7 146.0,304.0 C149.7,307.3 153.3,310.7 156.0,314.0 C158.7,317.3 160.0,319.7 162.0,324.0 C164.0,328.3 166.2,334.7 168.0,340.0 C169.8,345.3 171.3,351.3 173.0,356.0 C174.7,360.7 176.3,364.5 178.0,368.0 C179.7,371.5 181.2,374.0 183.0,377.0 C184.8,380.0 188.0,384.5 189.0,386.0" fill="none" stroke="#c99a60" stroke-width="1.9" stroke-dasharray="6,3.8"/>
<path d="M31,51 C31.5,56 31.6,60 30.8,65 C30.2,70 30,75 29.6,79 C29.2,82 28.8,85 28.5,88" fill="none" stroke="#7a8488" stroke-width="2"/>
<path d="M28.5,121 C32,128 36,134 39,140 C44,150 48,158 52,166 C60,181 68,197 76,210 C79,214 82,217 85,219 C90,225 95,230 100,234 C104,236 106,237 109,238 C113,241 116,244 120,247 C135,258 148,265 153,268 L157,272 C162,285 170,300 180,315 C188,328 192,335 194,337 C200,348 205,358 210,366 L211.5,376 C215,381 219,385 222,388.5 C226,394 230,400 233,404.6 C236,408 239,412 242,415.4 C245,417 248,418 251,420 C254,422 257,424 260,427" fill="none" stroke="#7c8284" stroke-width="2.8" stroke-linecap="round"/>
</g>
<rect x="31" y="113.6" width="63" height="84.9" fill="none" stroke="#ee5a4e" stroke-width="1.1"/>
<rect x="126" y="142" width="57" height="64.5" fill="none" stroke="#ee5a4e" stroke-width="1.1"/>
<rect x="180.4" y="208.5" width="80.1" height="68.89999999999998" fill="none" stroke="#ee5a4e" stroke-width="1.1"/>
<rect x="217.4" y="301.4" width="53.599999999999994" height="95.40000000000003" fill="none" stroke="#ee5a4e" stroke-width="1.1"/>
<rect x="96.6" y="359.3" width="80.2" height="58.9" fill="none" stroke="#dd2020" stroke-width="1.2"/>
<circle cx="52" cy="57.4" r="2.3" fill="#7a8494"/>
<circle cx="82.1" cy="61.7" r="2.3" fill="#7a8494"/>
<circle cx="70.9" cy="95.5" r="2.3" fill="#7a8494"/>
<circle cx="106.8" cy="95.1" r="2.3" fill="#7a8494"/>
<circle cx="48.6" cy="128.5" r="2.3" fill="#7a8494"/>
<circle cx="142.6" cy="96.3" r="2.3" fill="#7a8494"/>
<circle cx="132" cy="142.8" r="2.3" fill="#7a8494"/>
<circle cx="234.6" cy="140.8" r="2.3" fill="#7a8494"/>
<circle cx="53.5" cy="157" r="2.3" fill="#7a8494"/>
<circle cx="72.9" cy="151" r="2.3" fill="#7a8494"/>
<circle cx="79.5" cy="166.3" r="2.3" fill="#7a8494"/>
<circle cx="81.9" cy="183.5" r="2.3" fill="#7a8494"/>
<circle cx="111.8" cy="171" r="2.3" fill="#7a8494"/>
<circle cx="100.3" cy="178.9" r="2.3" fill="#7a8494"/>
<circle cx="105.8" cy="183.5" r="2.3" fill="#7a8494"/>
<circle cx="104.8" cy="198.5" r="2.3" fill="#7a8494"/>
<circle cx="110.8" cy="208.8" r="2.3" fill="#7a8494"/>
<circle cx="132" cy="149" r="2.3" fill="#7a8494"/>
<circle cx="136.4" cy="155" r="2.3" fill="#7a8494"/>
<circle cx="170.9" cy="158" r="2.3" fill="#7a8494"/>
<circle cx="149.4" cy="174.3" r="2.3" fill="#7a8494"/>
<circle cx="141" cy="182.9" r="2.3" fill="#7a8494"/>
<circle cx="153.5" cy="183.9" r="2.3" fill="#7a8494"/>
<circle cx="147" cy="205.8" r="2.3" fill="#7a8494"/>
<circle cx="169.9" cy="210.8" r="2.3" fill="#7a8494"/>
<circle cx="191.5" cy="200.9" r="2.3" fill="#7a8494"/>
<circle cx="133.8" cy="212.2" r="2.3" fill="#7a8494"/>
<circle cx="134.8" cy="220" r="2.3" fill="#7a8494"/>
<circle cx="145.6" cy="220.8" r="2.3" fill="#7a8494"/>
<circle cx="152" cy="218.8" r="2.3" fill="#7a8494"/>
<circle cx="145" cy="225.2" r="2.3" fill="#7a8494"/>
<circle cx="136" cy="228.4" r="2.3" fill="#7a8494"/>
<circle cx="158.4" cy="240.3" r="2.3" fill="#7a8494"/>
<circle cx="236.3" cy="154.4" r="2.3" fill="#7a8494"/>
<circle cx="229.9" cy="169.5" r="2.3" fill="#7a8494"/>
<circle cx="240.9" cy="184.9" r="2.3" fill="#7a8494"/>
<circle cx="220.9" cy="211.9" r="2.3" fill="#7a8494"/>
<circle cx="198.4" cy="219.2" r="2.3" fill="#7a8494"/>
<circle cx="232.3" cy="226.2" r="2.3" fill="#7a8494"/>
<circle cx="249.9" cy="220.8" r="2.3" fill="#7a8494"/>
<circle cx="206" cy="235.8" r="2.3" fill="#7a8494"/>
<circle cx="184" cy="237.4" r="2.3" fill="#7a8494"/>
<circle cx="202.4" cy="253" r="2.3" fill="#7a8494"/>
<circle cx="229.5" cy="250" r="2.3" fill="#7a8494"/>
<circle cx="243.9" cy="272.9" r="2.3" fill="#7a8494"/>
<circle cx="199.6" cy="277.9" r="2.3" fill="#7a8494"/>
<circle cx="194" cy="281.9" r="2.3" fill="#7a8494"/>
<circle cx="180" cy="294.9" r="2.3" fill="#7a8494"/>
<circle cx="201.2" cy="308.6" r="2.3" fill="#7a8494"/>
<circle cx="128" cy="250" r="2.3" fill="#7a8494"/>
<circle cx="140.3" cy="253" r="2.3" fill="#7a8494"/>
<circle cx="169.5" cy="256" r="2.3" fill="#7a8494"/>
<circle cx="157.9" cy="273" r="2.3" fill="#7a8494"/>
<circle cx="282" cy="231" r="2.3" fill="#7a8494"/>
<circle cx="256" cy="330" r="2.3" fill="#7a8494"/>
<circle cx="200.1" cy="338.2" r="2.3" fill="#7a8494"/>
<circle cx="185.8" cy="349.5" r="2.3" fill="#7a8494"/>
<circle cx="198" cy="355" r="2.3" fill="#7a8494"/>
<circle cx="193.6" cy="362.7" r="2.3" fill="#7a8494"/>
<circle cx="185.6" cy="365.7" r="2.3" fill="#7a8494"/>
<circle cx="201.5" cy="365.3" r="2.3" fill="#7a8494"/>
<circle cx="213" cy="365.3" r="2.3" fill="#7a8494"/>
<circle cx="229.1" cy="360.6" r="2.3" fill="#7a8494"/>
<circle cx="232.2" cy="365.7" r="2.3" fill="#7a8494"/>
<circle cx="246.8" cy="365.7" r="2.3" fill="#7a8494"/>
<circle cx="204.4" cy="380" r="2.3" fill="#7a8494"/>
<circle cx="230" cy="378.8" r="2.3" fill="#7a8494"/>
<circle cx="245" cy="382" r="2.3" fill="#7a8494"/>
<circle cx="215" cy="394.7" r="2.3" fill="#7a8494"/>
<circle cx="229.4" cy="393.6" r="2.3" fill="#7a8494"/>
<circle cx="246" cy="398" r="2.3" fill="#7a8494"/>
<circle cx="217" cy="412.6" r="2.3" fill="#7a8494"/>
<circle cx="232.6" cy="412.6" r="2.3" fill="#7a8494"/>
<circle cx="247" cy="409.6" r="2.3" fill="#7a8494"/>
<circle cx="105.2" cy="365.2" r="2.2" fill="#fff"/>
<circle cx="116" cy="364.7" r="2.2" fill="#fff"/>
<circle cx="133.6" cy="364.9" r="2.2" fill="#fff"/>
<circle cx="153.4" cy="365.5" r="2.2" fill="#fff"/>
<circle cx="165" cy="365.9" r="2.2" fill="#fff"/>
<circle cx="104" cy="379.4" r="2.2" fill="#fff"/>
<circle cx="123.9" cy="378.7" r="2.2" fill="#fff"/>
<circle cx="139.2" cy="382" r="2.2" fill="#fff"/>
<circle cx="153.4" cy="378.5" r="2.2" fill="#fff"/>
<circle cx="166.4" cy="377.8" r="2.2" fill="#fff"/>
<circle cx="108.8" cy="393.2" r="2.2" fill="#fff"/>
<circle cx="122" cy="394.2" r="2.2" fill="#fff"/>
<circle cx="138" cy="393.9" r="2.2" fill="#fff"/>
<circle cx="155.2" cy="393.2" r="2.2" fill="#fff"/>
<circle cx="168" cy="396.6" r="2.2" fill="#fff"/>
<circle cx="110.7" cy="410.4" r="2.2" fill="#fff"/>
<circle cx="121.5" cy="411.9" r="2.2" fill="#fff"/>
<circle cx="138.1" cy="412.2" r="2.2" fill="#fff"/>
<circle cx="153.8" cy="412.5" r="2.2" fill="#fff"/>
<circle cx="170.1" cy="412.2" r="2.2" fill="#fff"/>
<circle cx="184.8" cy="380.1" r="2.2" fill="#fff"/>
<circle cx="183.3" cy="397.2" r="2.2" fill="#fff"/>
<circle cx="184.8" cy="411.4" r="2.2" fill="#fff"/>
<circle cx="197.2" cy="394.8" r="2.2" fill="#fff"/>
<circle cx="200.8" cy="411.8" r="2.2" fill="#fff"/>
<circle cx="124" cy="308.6" r="2.2" fill="#fff"/>
<rect x="28.5" y="50.5" width="297" height="376" fill="none" stroke="#484848" stroke-width="1.15"/>
<line x1="28.2" y1="51" x2="28.2" y2="48.5" stroke="#555" stroke-width="0.9"/>
<line x1="28.2" y1="427" x2="28.2" y2="429.5" stroke="#555" stroke-width="0.9"/>
<line x1="44.8" y1="51" x2="44.8" y2="48.5" stroke="#555" stroke-width="0.9"/>
<line x1="44.8" y1="427" x2="44.8" y2="429.5" stroke="#555" stroke-width="0.9"/>
<line x1="61.3" y1="51" x2="61.3" y2="48.5" stroke="#555" stroke-width="0.9"/>
<line x1="61.3" y1="427" x2="61.3" y2="429.5" stroke="#555" stroke-width="0.9"/>
<line x1="77.9" y1="51" x2="77.9" y2="48.5" stroke="#555" stroke-width="0.9"/>
<line x1="77.9" y1="427" x2="77.9" y2="429.5" stroke="#555" stroke-width="0.9"/>
<line x1="94.4" y1="51" x2="94.4" y2="47" stroke="#555" stroke-width="0.9"/>
<line x1="94.4" y1="427" x2="94.4" y2="431" stroke="#555" stroke-width="0.9"/>
<line x1="110.9" y1="51" x2="110.9" y2="48.5" stroke="#555" stroke-width="0.9"/>
<line x1="110.9" y1="427" x2="110.9" y2="429.5" stroke="#555" stroke-width="0.9"/>
<line x1="127.5" y1="51" x2="127.5" y2="48.5" stroke="#555" stroke-width="0.9"/>
<line x1="127.5" y1="427" x2="127.5" y2="429.5" stroke="#555" stroke-width="0.9"/>
<line x1="144.0" y1="51" x2="144.0" y2="48.5" stroke="#555" stroke-width="0.9"/>
<line x1="144.0" y1="427" x2="144.0" y2="429.5" stroke="#555" stroke-width="0.9"/>
<line x1="160.6" y1="51" x2="160.6" y2="48.5" stroke="#555" stroke-width="0.9"/>
<line x1="160.6" y1="427" x2="160.6" y2="429.5" stroke="#555" stroke-width="0.9"/>
<line x1="177.1" y1="51" x2="177.1" y2="47" stroke="#555" stroke-width="0.9"/>
<line x1="177.1" y1="427" x2="177.1" y2="431" stroke="#555" stroke-width="0.9"/>
<line x1="193.6" y1="51" x2="193.6" y2="48.5" stroke="#555" stroke-width="0.9"/>
<line x1="193.6" y1="427" x2="193.6" y2="429.5" stroke="#555" stroke-width="0.9"/>
<line x1="210.2" y1="51" x2="210.2" y2="48.5" stroke="#555" stroke-width="0.9"/>
<line x1="210.2" y1="427" x2="210.2" y2="429.5" stroke="#555" stroke-width="0.9"/>
<line x1="226.7" y1="51" x2="226.7" y2="48.5" stroke="#555" stroke-width="0.9"/>
<line x1="226.7" y1="427" x2="226.7" y2="429.5" stroke="#555" stroke-width="0.9"/>
<line x1="243.3" y1="51" x2="243.3" y2="48.5" stroke="#555" stroke-width="0.9"/>
<line x1="243.3" y1="427" x2="243.3" y2="429.5" stroke="#555" stroke-width="0.9"/>
<line x1="259.8" y1="51" x2="259.8" y2="47" stroke="#555" stroke-width="0.9"/>
<line x1="259.8" y1="427" x2="259.8" y2="431" stroke="#555" stroke-width="0.9"/>
<line x1="276.3" y1="51" x2="276.3" y2="48.5" stroke="#555" stroke-width="0.9"/>
<line x1="276.3" y1="427" x2="276.3" y2="429.5" stroke="#555" stroke-width="0.9"/>
<line x1="292.9" y1="51" x2="292.9" y2="48.5" stroke="#555" stroke-width="0.9"/>
<line x1="292.9" y1="427" x2="292.9" y2="429.5" stroke="#555" stroke-width="0.9"/>
<line x1="309.4" y1="51" x2="309.4" y2="48.5" stroke="#555" stroke-width="0.9"/>
<line x1="309.4" y1="427" x2="309.4" y2="429.5" stroke="#555" stroke-width="0.9"/>
<line x1="326.0" y1="51" x2="326.0" y2="48.5" stroke="#555" stroke-width="0.9"/>
<line x1="326.0" y1="427" x2="326.0" y2="429.5" stroke="#555" stroke-width="0.9"/>
<line x1="28.3" y1="51" x2="24.3" y2="51" stroke="#555" stroke-width="0.9"/>
<line x1="326" y1="51" x2="330" y2="51" stroke="#555" stroke-width="0.9"/>
<line x1="28.3" y1="82.3" x2="25.8" y2="82.3" stroke="#555" stroke-width="0.9"/>
<line x1="326" y1="82.3" x2="328.5" y2="82.3" stroke="#555" stroke-width="0.9"/>
<line x1="28.3" y1="113.6" x2="25.8" y2="113.6" stroke="#555" stroke-width="0.9"/>
<line x1="326" y1="113.6" x2="328.5" y2="113.6" stroke="#555" stroke-width="0.9"/>
<line x1="28.3" y1="145" x2="24.3" y2="145" stroke="#555" stroke-width="0.9"/>
<line x1="326" y1="145" x2="330" y2="145" stroke="#555" stroke-width="0.9"/>
<line x1="28.3" y1="174.3" x2="25.8" y2="174.3" stroke="#555" stroke-width="0.9"/>
<line x1="326" y1="174.3" x2="328.5" y2="174.3" stroke="#555" stroke-width="0.9"/>
<line x1="28.3" y1="203.6" x2="25.8" y2="203.6" stroke="#555" stroke-width="0.9"/>
<line x1="326" y1="203.6" x2="328.5" y2="203.6" stroke="#555" stroke-width="0.9"/>
<line x1="28.3" y1="233" x2="24.3" y2="233" stroke="#555" stroke-width="0.9"/>
<line x1="326" y1="233" x2="330" y2="233" stroke="#555" stroke-width="0.9"/>
<line x1="28.3" y1="260.6" x2="25.8" y2="260.6" stroke="#555" stroke-width="0.9"/>
<line x1="326" y1="260.6" x2="328.5" y2="260.6" stroke="#555" stroke-width="0.9"/>
<line x1="28.3" y1="287.4" x2="25.8" y2="287.4" stroke="#555" stroke-width="0.9"/>
<line x1="326" y1="287.4" x2="328.5" y2="287.4" stroke="#555" stroke-width="0.9"/>
<line x1="28.3" y1="314" x2="24.3" y2="314" stroke="#555" stroke-width="0.9"/>
<line x1="326" y1="314" x2="330" y2="314" stroke="#555" stroke-width="0.9"/>
<line x1="28.3" y1="339" x2="25.8" y2="339" stroke="#555" stroke-width="0.9"/>
<line x1="326" y1="339" x2="328.5" y2="339" stroke="#555" stroke-width="0.9"/>
<line x1="28.3" y1="365" x2="25.8" y2="365" stroke="#555" stroke-width="0.9"/>
<line x1="326" y1="365" x2="328.5" y2="365" stroke="#555" stroke-width="0.9"/>
<line x1="28.3" y1="390" x2="24.3" y2="390" stroke="#555" stroke-width="0.9"/>
<line x1="326" y1="390" x2="330" y2="390" stroke="#555" stroke-width="0.9"/>
<line x1="28.3" y1="415" x2="25.8" y2="415" stroke="#555" stroke-width="0.9"/>
<line x1="326" y1="415" x2="328.5" y2="415" stroke="#555" stroke-width="0.9"/>
<text x="95.6" y="42.8" font-size="14.8" text-anchor="middle" fill="#444">−120°</text>
<text x="177.1" y="42.8" font-size="14.8" text-anchor="middle" fill="#444">−115°</text>
<text x="260.6" y="42.8" font-size="14.8" text-anchor="middle" fill="#444">−110°</text>
<text x="22.9" y="56.4" font-size="15.6" text-anchor="end" fill="#444">60°</text>
<text x="22.9" y="150.4" font-size="15.6" text-anchor="end" fill="#444">57°</text>
<text x="22.9" y="238.4" font-size="15.6" text-anchor="end" fill="#444">54°</text>
<text x="22.9" y="319.4" font-size="15.6" text-anchor="end" fill="#444">51°</text>
<text x="22.9" y="395.4" font-size="15.6" text-anchor="end" fill="#444">48°</text>
<text x="196.8" y="93.4" font-size="22.2" fill="#7c7c7c">NA Craton</text>
<text x="160" y="139.2" font-size="15.4" fill="#7c7c7c">BHT</text>
<text x="38.6" y="329" font-size="21.5" fill="#7c7c7c">Cordillera</text>
<text x="231.8" y="262" font-size="15.6" fill="#7c7c7c">Hearne</text>
<text x="219" y="353.7" font-size="15.2" fill="#7c7c7c">MHB</text>
<text x="0" y="0" font-size="18.2" fill="#fff" transform="translate(111.5,216) rotate(46)">Alberta Basin</text>
<text x="0" y="0" font-size="12" font-weight="bold" fill="#6a7474" transform="translate(50.8,201) rotate(40)">CDF</text>
<text x="0" y="0" font-size="11.6" font-weight="bold" fill="#c8955a" transform="translate(35.2,216.8) rotate(40)">RMT</text>
<text x="0" y="0" font-size="11.5" font-weight="bold" fill="#8a9a1a" transform="translate(296.4,151) rotate(-50)">STZ</text>
<text x="35" y="123.6" font-size="11" font-weight="bold" fill="#555">A</text>
<text x="170" y="200" font-size="11" font-weight="bold" fill="#555">B</text>
<text x="249" y="221" font-size="11" font-weight="bold" fill="#555">C</text>
<text x="260" y="391" font-size="11" font-weight="bold" fill="#555">D</text>
<text x="166.6" y="374" font-size="11" font-weight="bold" fill="#555">E</text>
<line x1="84" y1="182" x2="102" y2="173" stroke="#111" stroke-width="0.8"/>
<text x="93" y="169" font-size="7.8" font-weight="bold" fill="#111">NBC4</text>
<line x1="141" y1="183" x2="161" y2="171" stroke="#111" stroke-width="0.8"/>
<text x="161" y="171" font-size="7.8" font-weight="bold" fill="#111">STPRA</text>
<line x1="205" y1="255" x2="222" y2="244" stroke="#111" stroke-width="0.8"/>
<text x="223" y="244.6" font-size="7.8" font-weight="bold" fill="#111">EDM</text>
<line x1="256" y1="330" x2="275" y2="318" stroke="#111" stroke-width="0.8"/>
<text x="277" y="320" font-size="7.8" font-weight="bold" fill="#111">MHB</text>
<line x1="104" y1="379.4" x2="83" y2="394" stroke="#111" stroke-width="0.8"/>
<text x="66" y="399" font-size="7.8" font-weight="bold" fill="#111">B08A</text>
<circle cx="34.7" cy="443.6" r="5.4" fill="#6e7878"/>
<circle cx="34.7" cy="460.5" r="5.2" fill="#fff" stroke="#555" stroke-width="0.9"/>
<text x="48.6" y="456.6" font-size="13.5" fill="#444">Station</text>
<rect x="110" y="440.5" width="159.7" height="10" fill="url(#gbar)" stroke="#333" stroke-width="1"/>
<line x1="114.5" y1="450.5" x2="114.5" y2="453.5" stroke="#444" stroke-width="0.9"/>
<text x="0" y="0" font-size="11.5" fill="#444" transform="translate(107.9,462.8) rotate(45)">165</text>
<line x1="142.5" y1="450.5" x2="142.5" y2="453.5" stroke="#444" stroke-width="0.9"/>
<text x="0" y="0" font-size="11.5" fill="#444" transform="translate(135.9,462.8) rotate(45)">180</text>
<line x1="170.5" y1="450.5" x2="170.5" y2="453.5" stroke="#444" stroke-width="0.9"/>
<text x="0" y="0" font-size="11.5" fill="#444" transform="translate(163.9,462.8) rotate(45)">195</text>
<line x1="198.5" y1="450.5" x2="198.5" y2="453.5" stroke="#444" stroke-width="0.9"/>
<text x="0" y="0" font-size="11.5" fill="#444" transform="translate(191.9,462.8) rotate(45)">210</text>
<line x1="226.5" y1="450.5" x2="226.5" y2="453.5" stroke="#444" stroke-width="0.9"/>
<text x="0" y="0" font-size="11.5" fill="#444" transform="translate(219.9,462.8) rotate(45)">225</text>
<line x1="254.5" y1="450.5" x2="254.5" y2="453.5" stroke="#444" stroke-width="0.9"/>
<text x="0" y="0" font-size="11.5" fill="#444" transform="translate(247.9,462.8) rotate(45)">240</text>
<text x="156.9" y="490.4" font-size="12.6" textLength="65.5" lengthAdjust="spacingAndGlyphs" fill="#444">Depth (km)</text>
<line x1="372.5" y1="33" x2="372.5" y2="332" stroke="#e4e4e4" stroke-width="0.8"/>
<line x1="439.8" y1="33" x2="439.8" y2="332" stroke="#e4e4e4" stroke-width="0.8"/>
<line x1="507.1" y1="33" x2="507.1" y2="332" stroke="#e4e4e4" stroke-width="0.8"/>
<line x1="574.4" y1="33" x2="574.4" y2="332" stroke="#e4e4e4" stroke-width="0.8"/>
<path d="M359.5,296.5 L361,298.4 L362.5,298.8 L364,296.7 L365.5,292.4 L367,287.5 L368.5,283.2 L370,280.2 L371.5,277.4 L373,274.5 L374.5,271.9 L376,269.7 L377.5,268 L379,267 L380.5,266.8 L382,267.1 L383.5,267.8 L385,268.7 L386.5,269.7 L388,270.7 L389.5,271.6 L391,272.8 L392.5,274.1 L394,275.3 L395.5,276.4 L397,277.1 L398.5,277.2 L400,276.7 L401.5,275.8 L403,274.7 L404.5,273.7 L406,272.8 L407.5,272.4 L409,272.7 L410.5,273.8 L412,275.3 L413.5,277.2 L415,279.1 L416.5,281 L418,282.5 L419.5,284.2 L421,286 L422.5,287.9 L424,289.8 L425.5,291.6 L427,293.3 L428.5,294.6 L430,295.7 L431.5,296.2 L433,296.3 L434.5,294.7 L436,291.8 L437.5,288.2 L439,284.7 L440.5,281.8 L442,279.1 L443.5,276.3 L445,273.8 L446.5,272.1 L448,271.7 L449.5,272.3 L451,273.7 L452.5,275.5 L454,277.6 L455.5,279.7 L457,281.5 L458.5,283.3 L460,285.3 L461.5,287.1 L463,288.2 L464.5,288.1 L466,286.7 L467.5,284.8 L469,282.8 L470.5,281.2 L472,279.5 L473.5,278.1 L475,277.6 L476.5,277.9 L478,278.7 L479.5,279.7 L481,280.9 L482.5,282.1 L484,284 L485.5,286.4 L487,289.3 L488.5,292.5 L490,295.8 L491.5,299.1 L493,302.1 L494.5,304.7 L496,306.7 L497.5,307.9 L499,308.1 L500.5,304.2 L502,296.8 L503.5,288.5 L505,281.9 L506.5,277.3 L508,272.8 L509.5,269.2 L511,267.2 L512.5,267.6 L514,270.3 L515.5,274.1 L517,278.2 L518.5,281.3 L520,283.5 L521.5,285.7 L523,287.7 L524.5,289.3 L526,290.5 L527.5,290.9 L529,290.8 L530.5,290.4 L532,289.8 L533.5,289.1 L535,288.2 L536.5,287.2 L538,285.1 L539.5,282.5 L541,281 L542.5,279.7 L544,278.6 L545.5,277.9 L547,277.8 L548.5,278.4 L550,279.6 L551.5,281 L553,282.1 L554.5,282.5 L556,282.3 L557.5,281.7 L559,280.9 L560.5,279.9 L562,279 L563.5,278.3 L565,277.8 L566.5,277.8 L568,278.6 L569.5,279.7 L571,281 L572.5,281.9 L574,282.2 L575.5,281.4 L577,279.9 L578.5,277.9 L580,276 L581.5,274.8 L583,274.5 L584.5,275.1 L586,276.3 L587.5,277.7 L589,279.3 L590.5,280.7 L592,281.7 L593.5,282.2 L595,281.8 L596.5,280.6 L598,278.8 L599.5,276.7 L601,274.5 L602.5,272.6 L604,271.2 L605.5,270.6 L607,271.1 L608.5,272.7 L610,275.1 L611.5,277.7 L613,280.1 L614.5,282 L616,282.7 L617.5,282.1 L619,280.4 L620.5,278 L622,275.3 L623.5,272.6 L625,270.4 L626.5,269.1 L628,269.4 L629.5,272.6 L631,277.3 L632.5,281.3 L634,282.8 L635.5,282.9 L637,283.1 L638.5,283.2 L640,283.2 L640.5,283.2 L640.5,304.6 L640,304.6 L638.5,304.6 L637,304.5 L635.5,304.3 L634,304.1 L632.5,302.7 L631,298.7 L629.5,294 L628,290.7 L626.5,290.5 L625,291.8 L623.5,294 L622,296.6 L620.5,299.3 L619,301.8 L617.5,303.5 L616,304.1 L614.5,303.3 L613,301.4 L611.5,299 L610,296.4 L608.5,294 L607,292.4 L605.5,291.8 L604,292.5 L602.5,293.9 L601,295.8 L599.5,297.9 L598,300 L596.5,301.8 L595,303 L593.5,303.4 L592,302.9 L590.5,301.9 L589,300.5 L587.5,298.9 L586,297.5 L584.5,296.4 L583,295.7 L581.5,296 L580,297.2 L578.5,299.1 L577,301 L575.5,302.6 L574,303.4 L572.5,303.1 L571,302.1 L569.5,300.9 L568,299.7 L566.5,299 L565,298.9 L563.5,299.4 L562,300.1 L560.5,301.1 L559,302 L557.5,302.9 L556,303.4 L554.5,303.6 L553,303.1 L551.5,302 L550,300.7 L548.5,299.5 L547,298.9 L545.5,299 L544,299.7 L542.5,300.7 L541,302 L539.5,303.6 L538,306.2 L536.5,308.3 L535,309.3 L533.5,310.1 L532,310.9 L530.5,311.4 L529,311.8 L527.5,311.9 L526,311.5 L524.5,310.3 L523,308.7 L521.5,306.6 L520,304.5 L518.5,302.3 L517,299.1 L515.5,295.1 L514,291.2 L512.5,288.6 L511,288.1 L509.5,290.1 L508,293.7 L506.5,298.3 L505,302.9 L503.5,309.4 L502,317.7 L500.5,325.1 L499,329 L497.5,328.8 L496,327.6 L494.5,325.6 L493,323 L491.5,320 L490,316.7 L488.5,313.4 L487,310.2 L485.5,307.3 L484,304.8 L482.5,303 L481,301.7 L479.5,300.5 L478,299.5 L476.5,298.7 L475,298.4 L473.5,298.9 L472,300.3 L470.5,302 L469,303.6 L467.5,305.6 L466,307.5 L464.5,308.8 L463,309 L461.5,307.9 L460,306.1 L458.5,304 L457,302.3 L455.5,300.4 L454,298.3 L452.5,296.2 L451,294.4 L449.5,293 L448,292.4 L446.5,292.8 L445,294.5 L443.5,297 L442,299.8 L440.5,302.4 L439,305.4 L437.5,308.9 L436,312.5 L434.5,315.3 L433,316.9 L431.5,316.9 L430,316.3 L428.5,315.3 L427,313.9 L425.5,312.3 L424,310.5 L422.5,308.6 L421,306.6 L419.5,304.8 L418,303.1 L416.5,301.6 L415,299.7 L413.5,297.8 L412,295.9 L410.5,294.4 L409,293.3 L407.5,293 L406,293.4 L404.5,294.2 L403,295.3 L401.5,296.4 L400,297.3 L398.5,297.7 L397,297.6 L395.5,296.9 L394,295.9 L392.5,294.6 L391,293.3 L389.5,292.1 L388,291.2 L386.5,290.2 L385,289.2 L383.5,288.3 L382,287.6 L380.5,287.3 L379,287.4 L377.5,288.5 L376,290.2 L374.5,292.4 L373,295 L371.5,297.8 L370,300.7 L368.5,303.6 L367,307.9 L365.5,312.9 L364,317.1 L362.5,319.2 L361,318.8 L359.5,316.9 Z" fill="#dcdcdc"/>
<path d="M359.5,298.7 L361,300.6 L362.5,301 L364,298.9 L365.5,294.6 L367,289.7 L368.5,285.4 L370,282.4 L371.5,279.6 L373,276.7 L374.5,274.1 L376,271.9 L377.5,270.2 L379,269.2 L380.5,269 L382,269.3 L383.5,270 L385,270.9 L386.5,271.9 L388,272.9 L389.5,273.8 L391,275 L392.5,276.3 L394,277.5 L395.5,278.6 L397,279.3 L398.5,279.4 L400,278.9 L401.5,278 L403,276.9 L404.5,275.9 L406,275 L407.5,274.6 L409,274.9 L410.5,276 L412,277.5 L413.5,279.4 L415,281.3 L416.5,283.2 L418,284.7 L419.5,286.4 L421,288.2 L422.5,290.1 L424,292 L425.5,293.8 L427,295.5 L428.5,296.8 L430,297.9 L431.5,298.4 L433,298.5 L434.5,296.9 L436,294 L437.5,290.4 L439,286.9 L440.5,284 L442,281.3 L443.5,278.5 L445,276 L446.5,274.3 L448,273.9 L449.5,274.5 L451,275.9 L452.5,277.7 L454,279.8 L455.5,281.9 L457,283.7 L458.5,285.5 L460,287.5 L461.5,289.3 L463,290.4 L464.5,290.3 L466,288.9 L467.5,287 L469,285 L470.5,283.4 L472,281.7 L473.5,280.3 L475,279.8 L476.5,280.1 L478,280.9 L479.5,281.9 L481,283.1 L482.5,284.3 L484,286.2 L485.5,288.6 L487,291.5 L488.5,294.7 L490,298 L491.5,301.3 L493,304.3 L494.5,306.9 L496,308.9 L497.5,310.1 L499,310.3 L500.5,306.4 L502,299 L503.5,290.7 L505,284.1 L506.5,279.5 L508,275 L509.5,271.4 L511,269.4 L512.5,269.8 L514,272.5 L515.5,276.3 L517,280.4 L518.5,283.5 L520,285.7 L521.5,287.9 L523,289.9 L524.5,291.5 L526,292.7 L527.5,293.1 L529,293 L530.5,292.6 L532,292 L533.5,291.3 L535,290.4 L536.5,289.4 L538,287.3 L539.5,284.7 L541,283.2 L542.5,281.9 L544,280.8 L545.5,280.1 L547,280 L548.5,280.6 L550,281.8 L551.5,283.2 L553,284.3 L554.5,284.7 L556,284.5 L557.5,283.9 L559,283.1 L560.5,282.1 L562,281.2 L563.5,280.5 L565,280 L566.5,280 L568,280.8 L569.5,281.9 L571,283.2 L572.5,284.1 L574,284.4 L575.5,283.6 L577,282.1 L578.5,280.1 L580,278.2 L581.5,277 L583,276.7 L584.5,277.3 L586,278.5 L587.5,279.9 L589,281.5 L590.5,282.9 L592,283.9 L593.5,284.4 L595,284 L596.5,282.8 L598,281 L599.5,278.9 L601,276.7 L602.5,274.8 L604,273.4 L605.5,272.8 L607,273.3 L608.5,274.9 L610,277.3 L611.5,279.9 L613,282.3 L614.5,284.2 L616,284.9 L617.5,284.3 L619,282.6 L620.5,280.2 L622,277.5 L623.5,274.8 L625,272.6 L626.5,271.3 L628,271.6 L629.5,274.8 L631,279.5 L632.5,283.5 L634,285 L635.5,285.1 L637,285.3 L638.5,285.4 L640,285.4 L640.5,285.4 L640.5,302.4 L640,302.4 L638.5,302.4 L637,302.3 L635.5,302.1 L634,301.9 L632.5,300.5 L631,296.5 L629.5,291.8 L628,288.5 L626.5,288.3 L625,289.6 L623.5,291.8 L622,294.4 L620.5,297.1 L619,299.6 L617.5,301.3 L616,301.9 L614.5,301.1 L613,299.2 L611.5,296.8 L610,294.2 L608.5,291.8 L607,290.2 L605.5,289.6 L604,290.3 L602.5,291.7 L601,293.6 L599.5,295.7 L598,297.8 L596.5,299.6 L595,300.8 L593.5,301.2 L592,300.7 L590.5,299.7 L589,298.3 L587.5,296.7 L586,295.3 L584.5,294.2 L583,293.5 L581.5,293.8 L580,295 L578.5,296.9 L577,298.8 L575.5,300.4 L574,301.2 L572.5,300.9 L571,299.9 L569.5,298.7 L568,297.5 L566.5,296.8 L565,296.7 L563.5,297.2 L562,297.9 L560.5,298.9 L559,299.8 L557.5,300.7 L556,301.2 L554.5,301.4 L553,300.9 L551.5,299.8 L550,298.5 L548.5,297.3 L547,296.7 L545.5,296.8 L544,297.5 L542.5,298.5 L541,299.8 L539.5,301.4 L538,304 L536.5,306.1 L535,307.1 L533.5,307.9 L532,308.7 L530.5,309.2 L529,309.6 L527.5,309.7 L526,309.3 L524.5,308.1 L523,306.5 L521.5,304.4 L520,302.3 L518.5,300.1 L517,296.9 L515.5,292.9 L514,289 L512.5,286.4 L511,285.9 L509.5,287.9 L508,291.5 L506.5,296.1 L505,300.7 L503.5,307.2 L502,315.5 L500.5,322.9 L499,326.8 L497.5,326.6 L496,325.4 L494.5,323.4 L493,320.8 L491.5,317.8 L490,314.5 L488.5,311.2 L487,308 L485.5,305.1 L484,302.6 L482.5,300.8 L481,299.5 L479.5,298.3 L478,297.3 L476.5,296.5 L475,296.2 L473.5,296.7 L472,298.1 L470.5,299.8 L469,301.4 L467.5,303.4 L466,305.3 L464.5,306.6 L463,306.8 L461.5,305.7 L460,303.9 L458.5,301.8 L457,300.1 L455.5,298.2 L454,296.1 L452.5,294 L451,292.2 L449.5,290.8 L448,290.2 L446.5,290.6 L445,292.3 L443.5,294.8 L442,297.6 L440.5,300.2 L439,303.2 L437.5,306.7 L436,310.3 L434.5,313.1 L433,314.7 L431.5,314.7 L430,314.1 L428.5,313.1 L427,311.7 L425.5,310.1 L424,308.3 L422.5,306.4 L421,304.4 L419.5,302.6 L418,300.9 L416.5,299.4 L415,297.5 L413.5,295.6 L412,293.7 L410.5,292.2 L409,291.1 L407.5,290.8 L406,291.2 L404.5,292 L403,293.1 L401.5,294.2 L400,295.1 L398.5,295.5 L397,295.4 L395.5,294.7 L394,293.7 L392.5,292.4 L391,291.1 L389.5,289.9 L388,289 L386.5,288 L385,287 L383.5,286.1 L382,285.4 L380.5,285.1 L379,285.2 L377.5,286.3 L376,288 L374.5,290.2 L373,292.8 L371.5,295.6 L370,298.5 L368.5,301.4 L367,305.7 L365.5,310.7 L364,314.9 L362.5,317 L361,316.6 L359.5,314.7 Z" fill="#bcbcbc"/>
<path d="M359.5,292.2 L361,292.2 L362.5,292.2 L364,292.2 L365.5,292.2 L367,292.2 L368.5,292.2 L370,290.4 L371.5,287.6 L373,284.8 L374.5,282.2 L376,279.9 L377.5,278.2 L379,277.2 L380.5,277 L382,277.4 L383.5,278.1 L385,279 L386.5,280 L388,280.9 L389.5,281.8 L391,283 L392.5,284.3 L394,285.6 L395.5,286.7 L397,287.3 L398.5,287.5 L400,287 L401.5,286.1 L403,285 L404.5,283.9 L406,283.1 L407.5,282.7 L409,283 L410.5,284.1 L412,285.6 L413.5,287.5 L415,289.4 L416.5,291.3 L418,292.2 L419.5,292.2 L421,292.2 L422.5,292.2 L424,292.2 L425.5,292.2 L427,292.2 L428.5,292.2 L430,292.2 L431.5,292.2 L433,292.2 L434.5,292.2 L436,292.2 L437.5,292.2 L439,292.2 L440.5,292.1 L442,289.5 L443.5,286.7 L445,284.2 L446.5,282.5 L448,282 L449.5,282.7 L451,284 L452.5,285.9 L454,288 L455.5,290 L457,291.9 L458.5,292.2 L460,292.2 L461.5,292.2 L463,292.2 L464.5,292.2 L466,292.2 L467.5,292.2 L469,292.2 L470.5,291.6 L472,289.9 L473.5,288.5 L475,288 L476.5,288.3 L478,289.1 L479.5,290.1 L481,291.3 L482.5,292.2 L484,292.2 L485.5,292.2 L487,292.2 L488.5,292.2 L490,292.2 L491.5,292.2 L493,292.2 L494.5,292.2 L496,292.2 L497.5,292.2 L499,292.2 L500.5,292.2 L502,292.2 L503.5,292.2 L505,292.2 L506.5,287.8 L508,283.3 L509.5,279.6 L511,277.6 L512.5,278.1 L514,280.8 L515.5,284.6 L517,288.6 L518.5,291.8 L520,292.2 L521.5,292.2 L523,292.2 L524.5,292.2 L526,292.2 L527.5,292.2 L529,292.2 L530.5,292.2 L532,292.2 L533.5,292.2 L535,292.2 L536.5,292.2 L538,292.2 L539.5,292.2 L541,291.5 L542.5,290.2 L544,289.2 L545.5,288.5 L547,288.3 L548.5,289 L550,290.2 L551.5,291.5 L553,292.2 L554.5,292.2 L556,292.2 L557.5,292.2 L559,291.5 L560.5,290.5 L562,289.6 L563.5,288.8 L565,288.4 L566.5,288.4 L568,289.1 L569.5,290.3 L571,291.5 L572.5,292.2 L574,292.2 L575.5,292 L577,290.4 L578.5,288.5 L580,286.6 L581.5,285.4 L583,285.1 L584.5,285.7 L586,286.9 L587.5,288.3 L589,289.9 L590.5,291.3 L592,292.2 L593.5,292.2 L595,292.2 L596.5,291.2 L598,289.4 L599.5,287.3 L601,285.1 L602.5,283.2 L604,281.8 L605.5,281.2 L607,281.7 L608.5,283.4 L610,285.7 L611.5,288.4 L613,290.8 L614.5,292.2 L616,292.2 L617.5,292.2 L619,291.1 L620.5,288.7 L622,285.9 L623.5,283.3 L625,281.1 L626.5,279.8 L628,280 L629.5,283.3 L631,288 L632.5,292 L634,292.2 L635.5,292.2 L637,292.2 L638.5,292.2 L640,292.2 L640.5,292.2 L640.5,292.2 L359.5,292.2 Z" fill="#808080"/>
<path d="M359.5,306.7 L361,308.6 L362.5,309 L364,306.9 L365.5,302.6 L367,297.7 L368.5,293.4 L370,292.2 L371.5,292.2 L373,292.2 L374.5,292.2 L376,292.2 L377.5,292.2 L379,292.2 L380.5,292.2 L382,292.2 L383.5,292.2 L385,292.2 L386.5,292.2 L388,292.2 L389.5,292.2 L391,292.2 L392.5,292.2 L394,292.2 L395.5,292.2 L397,292.2 L398.5,292.2 L400,292.2 L401.5,292.2 L403,292.2 L404.5,292.2 L406,292.2 L407.5,292.2 L409,292.2 L410.5,292.2 L412,292.2 L413.5,292.2 L415,292.2 L416.5,292.2 L418,292.8 L419.5,294.5 L421,296.3 L422.5,298.2 L424,300.1 L425.5,302 L427,303.6 L428.5,305 L430,306 L431.5,306.6 L433,306.6 L434.5,305 L436,302.1 L437.5,298.6 L439,295 L440.5,292.2 L442,292.2 L443.5,292.2 L445,292.2 L446.5,292.2 L448,292.2 L449.5,292.2 L451,292.2 L452.5,292.2 L454,292.2 L455.5,292.2 L457,292.2 L458.5,293.7 L460,295.7 L461.5,297.5 L463,298.6 L464.5,298.4 L466,297.1 L467.5,295.2 L469,293.2 L470.5,292.2 L472,292.2 L473.5,292.2 L475,292.2 L476.5,292.2 L478,292.2 L479.5,292.2 L481,292.2 L482.5,292.5 L484,294.4 L485.5,296.8 L487,299.8 L488.5,303 L490,306.3 L491.5,309.5 L493,312.5 L494.5,315.1 L496,317.1 L497.5,318.4 L499,318.6 L500.5,314.6 L502,307.2 L503.5,298.9 L505,292.4 L506.5,292.2 L508,292.2 L509.5,292.2 L511,292.2 L512.5,292.2 L514,292.2 L515.5,292.2 L517,292.2 L518.5,292.2 L520,294 L521.5,296.2 L523,298.2 L524.5,299.8 L526,301 L527.5,301.4 L529,301.3 L530.5,300.9 L532,300.3 L533.5,299.6 L535,298.7 L536.5,297.7 L538,295.6 L539.5,293.1 L541,292.2 L542.5,292.2 L544,292.2 L545.5,292.2 L547,292.2 L548.5,292.2 L550,292.2 L551.5,292.2 L553,292.6 L554.5,293.1 L556,292.9 L557.5,292.3 L559,292.2 L560.5,292.2 L562,292.2 L563.5,292.2 L565,292.2 L566.5,292.2 L568,292.2 L569.5,292.2 L571,292.2 L572.5,292.5 L574,292.8 L575.5,292.2 L577,292.2 L578.5,292.2 L580,292.2 L581.5,292.2 L583,292.2 L584.5,292.2 L586,292.2 L587.5,292.2 L589,292.2 L590.5,292.2 L592,292.3 L593.5,292.8 L595,292.4 L596.5,292.2 L598,292.2 L599.5,292.2 L601,292.2 L602.5,292.2 L604,292.2 L605.5,292.2 L607,292.2 L608.5,292.2 L610,292.2 L611.5,292.2 L613,292.2 L614.5,292.6 L616,293.4 L617.5,292.8 L619,292.2 L620.5,292.2 L622,292.2 L623.5,292.2 L625,292.2 L626.5,292.2 L628,292.2 L629.5,292.2 L631,292.2 L632.5,292.2 L634,293.4 L635.5,293.6 L637,293.8 L638.5,293.9 L640,293.9 L640.5,293.9 L640.5,292.2 L359.5,292.2 Z" fill="#e8573e"/>
<path d="M359.5,298.7 L361,300.6 L362.5,301 L364,298.9 L365.5,294.6 L367,289.7 L368.5,285.4 L370,282.4 L371.5,279.6 L373,276.7 L374.5,274.1 L376,271.9 L377.5,270.2 L379,269.2 L380.5,269 L382,269.3 L383.5,270 L385,270.9 L386.5,271.9 L388,272.9 L389.5,273.8 L391,275 L392.5,276.3 L394,277.5 L395.5,278.6 L397,279.3 L398.5,279.4 L400,278.9 L401.5,278 L403,276.9 L404.5,275.9 L406,275 L407.5,274.6 L409,274.9 L410.5,276 L412,277.5 L413.5,279.4 L415,281.3 L416.5,283.2 L418,284.7 L419.5,286.4 L421,288.2 L422.5,290.1 L424,292 L425.5,293.8 L427,295.5 L428.5,296.8 L430,297.9 L431.5,298.4 L433,298.5 L434.5,296.9 L436,294 L437.5,290.4 L439,286.9 L440.5,284 L442,281.3 L443.5,278.5 L445,276 L446.5,274.3 L448,273.9 L449.5,274.5 L451,275.9 L452.5,277.7 L454,279.8 L455.5,281.9 L457,283.7 L458.5,285.5 L460,287.5 L461.5,289.3 L463,290.4 L464.5,290.3 L466,288.9 L467.5,287 L469,285 L470.5,283.4 L472,281.7 L473.5,280.3 L475,279.8 L476.5,280.1 L478,280.9 L479.5,281.9 L481,283.1 L482.5,284.3 L484,286.2 L485.5,288.6 L487,291.5 L488.5,294.7 L490,298 L491.5,301.3 L493,304.3 L494.5,306.9 L496,308.9 L497.5,310.1 L499,310.3 L500.5,306.4 L502,299 L503.5,290.7 L505,284.1 L506.5,279.5 L508,275 L509.5,271.4 L511,269.4 L512.5,269.8 L514,272.5 L515.5,276.3 L517,280.4 L518.5,283.5 L520,285.7 L521.5,287.9 L523,289.9 L524.5,291.5 L526,292.7 L527.5,293.1 L529,293 L530.5,292.6 L532,292 L533.5,291.3 L535,290.4 L536.5,289.4 L538,287.3 L539.5,284.7 L541,283.2 L542.5,281.9 L544,280.8 L545.5,280.1 L547,280 L548.5,280.6 L550,281.8 L551.5,283.2 L553,284.3 L554.5,284.7 L556,284.5 L557.5,283.9 L559,283.1 L560.5,282.1 L562,281.2 L563.5,280.5 L565,280 L566.5,280 L568,280.8 L569.5,281.9 L571,283.2 L572.5,284.1 L574,284.4 L575.5,283.6 L577,282.1 L578.5,280.1 L580,278.2 L581.5,277 L583,276.7 L584.5,277.3 L586,278.5 L587.5,279.9 L589,281.5 L590.5,282.9 L592,283.9 L593.5,284.4 L595,284 L596.5,282.8 L598,281 L599.5,278.9 L601,276.7 L602.5,274.8 L604,273.4 L605.5,272.8 L607,273.3 L608.5,274.9 L610,277.3 L611.5,279.9 L613,282.3 L614.5,284.2 L616,284.9 L617.5,284.3 L619,282.6 L620.5,280.2 L622,277.5 L623.5,274.8 L625,272.6 L626.5,271.3 L628,271.6 L629.5,274.8 L631,279.5 L632.5,283.5 L634,285 L635.5,285.1 L637,285.3 L638.5,285.4 L640,285.4 L640.5,285.4" fill="none" stroke="#1a1a1a" stroke-width="1.15" stroke-dasharray="4,2.4"/>
<path d="M359.5,314.7 L361,316.6 L362.5,317 L364,314.9 L365.5,310.7 L367,305.7 L368.5,301.4 L370,298.5 L371.5,295.6 L373,292.8 L374.5,290.2 L376,288 L377.5,286.3 L379,285.2 L380.5,285.1 L382,285.4 L383.5,286.1 L385,287 L386.5,288 L388,289 L389.5,289.9 L391,291.1 L392.5,292.4 L394,293.7 L395.5,294.7 L397,295.4 L398.5,295.5 L400,295.1 L401.5,294.2 L403,293.1 L404.5,292 L406,291.2 L407.5,290.8 L409,291.1 L410.5,292.2 L412,293.7 L413.5,295.6 L415,297.5 L416.5,299.4 L418,300.9 L419.5,302.6 L421,304.4 L422.5,306.4 L424,308.3 L425.5,310.1 L427,311.7 L428.5,313.1 L430,314.1 L431.5,314.7 L433,314.7 L434.5,313.1 L436,310.3 L437.5,306.7 L439,303.2 L440.5,300.2 L442,297.6 L443.5,294.8 L445,292.3 L446.5,290.6 L448,290.2 L449.5,290.8 L451,292.2 L452.5,294 L454,296.1 L455.5,298.2 L457,300.1 L458.5,301.8 L460,303.9 L461.5,305.7 L463,306.8 L464.5,306.6 L466,305.3 L467.5,303.4 L469,301.4 L470.5,299.8 L472,298.1 L473.5,296.7 L475,296.2 L476.5,296.5 L478,297.3 L479.5,298.3 L481,299.5 L482.5,300.8 L484,302.6 L485.5,305.1 L487,308 L488.5,311.2 L490,314.5 L491.5,317.8 L493,320.8 L494.5,323.4 L496,325.4 L497.5,326.6 L499,326.8 L500.5,322.9 L502,315.5 L503.5,307.2 L505,300.7 L506.5,296.1 L508,291.5 L509.5,287.9 L511,285.9 L512.5,286.4 L514,289 L515.5,292.9 L517,296.9 L518.5,300.1 L520,302.3 L521.5,304.4 L523,306.5 L524.5,308.1 L526,309.3 L527.5,309.7 L529,309.6 L530.5,309.2 L532,308.7 L533.5,307.9 L535,307.1 L536.5,306.1 L538,304 L539.5,301.4 L541,299.8 L542.5,298.5 L544,297.5 L545.5,296.8 L547,296.7 L548.5,297.3 L550,298.5 L551.5,299.8 L553,300.9 L554.5,301.4 L556,301.2 L557.5,300.7 L559,299.8 L560.5,298.9 L562,297.9 L563.5,297.2 L565,296.7 L566.5,296.8 L568,297.5 L569.5,298.7 L571,299.9 L572.5,300.9 L574,301.2 L575.5,300.4 L577,298.8 L578.5,296.9 L580,295 L581.5,293.8 L583,293.5 L584.5,294.2 L586,295.3 L587.5,296.7 L589,298.3 L590.5,299.7 L592,300.7 L593.5,301.2 L595,300.8 L596.5,299.6 L598,297.8 L599.5,295.7 L601,293.6 L602.5,291.7 L604,290.3 L605.5,289.6 L607,290.2 L608.5,291.8 L610,294.2 L611.5,296.8 L613,299.2 L614.5,301.1 L616,301.9 L617.5,301.3 L619,299.6 L620.5,297.1 L622,294.4 L623.5,291.8 L625,289.6 L626.5,288.3 L628,288.5 L629.5,291.8 L631,296.5 L632.5,300.5 L634,301.9 L635.5,302.1 L637,302.3 L638.5,302.4 L640,302.4 L640.5,302.4" fill="none" stroke="#1a1a1a" stroke-width="1.15" stroke-dasharray="4,2.4"/>
<path d="M359.5,306.7 L361,308.6 L362.5,309 L364,306.9 L365.5,302.6 L367,297.7 L368.5,293.4 L370,290.4 L371.5,287.6 L373,284.8 L374.5,282.2 L376,279.9 L377.5,278.2 L379,277.2 L380.5,277 L382,277.4 L383.5,278.1 L385,279 L386.5,280 L388,280.9 L389.5,281.8 L391,283 L392.5,284.3 L394,285.6 L395.5,286.7 L397,287.3 L398.5,287.5 L400,287 L401.5,286.1 L403,285 L404.5,283.9 L406,283.1 L407.5,282.7 L409,283 L410.5,284.1 L412,285.6 L413.5,287.5 L415,289.4 L416.5,291.3 L418,292.8 L419.5,294.5 L421,296.3 L422.5,298.2 L424,300.1 L425.5,302 L427,303.6 L428.5,305 L430,306 L431.5,306.6 L433,306.6 L434.5,305 L436,302.1 L437.5,298.6 L439,295 L440.5,292.1 L442,289.5 L443.5,286.7 L445,284.2 L446.5,282.5 L448,282 L449.5,282.7 L451,284 L452.5,285.9 L454,288 L455.5,290 L457,291.9 L458.5,293.7 L460,295.7 L461.5,297.5 L463,298.6 L464.5,298.4 L466,297.1 L467.5,295.2 L469,293.2 L470.5,291.6 L472,289.9 L473.5,288.5 L475,288 L476.5,288.3 L478,289.1 L479.5,290.1 L481,291.3 L482.5,292.5 L484,294.4 L485.5,296.8 L487,299.8 L488.5,303 L490,306.3 L491.5,309.5 L493,312.5 L494.5,315.1 L496,317.1 L497.5,318.4 L499,318.6 L500.5,314.6 L502,307.2 L503.5,298.9 L505,292.4 L506.5,287.8 L508,283.3 L509.5,279.6 L511,277.6 L512.5,278.1 L514,280.8 L515.5,284.6 L517,288.6 L518.5,291.8 L520,294 L521.5,296.2 L523,298.2 L524.5,299.8 L526,301 L527.5,301.4 L529,301.3 L530.5,300.9 L532,300.3 L533.5,299.6 L535,298.7 L536.5,297.7 L538,295.6 L539.5,293.1 L541,291.5 L542.5,290.2 L544,289.2 L545.5,288.5 L547,288.3 L548.5,289 L550,290.2 L551.5,291.5 L553,292.6 L554.5,293.1 L556,292.9 L557.5,292.3 L559,291.5 L560.5,290.5 L562,289.6 L563.5,288.8 L565,288.4 L566.5,288.4 L568,289.1 L569.5,290.3 L571,291.5 L572.5,292.5 L574,292.8 L575.5,292 L577,290.4 L578.5,288.5 L580,286.6 L581.5,285.4 L583,285.1 L584.5,285.7 L586,286.9 L587.5,288.3 L589,289.9 L590.5,291.3 L592,292.3 L593.5,292.8 L595,292.4 L596.5,291.2 L598,289.4 L599.5,287.3 L601,285.1 L602.5,283.2 L604,281.8 L605.5,281.2 L607,281.7 L608.5,283.4 L610,285.7 L611.5,288.4 L613,290.8 L614.5,292.6 L616,293.4 L617.5,292.8 L619,291.1 L620.5,288.7 L622,285.9 L623.5,283.3 L625,281.1 L626.5,279.8 L628,280 L629.5,283.3 L631,288 L632.5,292 L634,293.4 L635.5,293.6 L637,293.8 L638.5,293.9 L640,293.9 L640.5,293.9" fill="none" stroke="#0a1cff" stroke-width="1.7"/>
<path d="M359.5,306.7 L361,308.6 L362.5,309 L364,306.9 L365.5,302.6 L367,297.7 L368.5,293.4 L370,290.4 L371.5,287.6 L373,284.8 L374.5,282.2 L376,279.9 L377.5,278.2 L379,277.2 L380.5,277 L382,277.4 L383.5,278.1 L385,279 L386.5,280 L388,280.9 L389.5,281.8 L391,283 L392.5,284.3 L394,285.6 L395.5,286.7 L397,287.3 L398.5,287.5 L400,287 L401.5,286.1 L403,285 L404.5,283.9 L406,283.1 L407.5,282.7 L409,283 L410.5,284.1 L412,285.6 L413.5,287.5 L415,289.4 L416.5,291.3 L418,292.8 L419.5,294.5 L421,296.3 L422.5,298.2 L424,300.1 L425.5,302 L427,303.6 L428.5,305 L430,306 L431.5,306.6 L433,306.6 L434.5,305 L436,302.1 L437.5,298.6 L439,295 L440.5,292.1 L442,289.5 L443.5,286.7 L445,284.2 L446.5,282.5 L448,282 L449.5,282.7 L451,284 L452.5,285.9 L454,288 L455.5,290 L457,291.9 L458.5,293.7 L460,295.7 L461.5,297.5 L463,298.6 L464.5,298.4 L466,297.1 L467.5,295.2 L469,293.2 L470.5,291.6 L472,289.9 L473.5,288.5 L475,288 L476.5,288.3 L478,289.1 L479.5,290.1 L481,291.3 L482.5,292.5 L484,294.4 L485.5,296.8 L487,299.8 L488.5,303 L490,306.3 L491.5,309.5 L493,312.5 L494.5,315.1 L496,317.1 L497.5,318.4 L499,318.6 L500.5,314.6 L502,307.2 L503.5,298.9 L505,292.4 L506.5,287.8 L508,283.3 L509.5,279.6 L511,277.6 L512.5,278.1 L514,280.8 L515.5,284.6 L517,288.6 L518.5,291.8 L520,294 L521.5,296.2 L523,298.2 L524.5,299.8 L526,301 L527.5,301.4 L529,301.3 L530.5,300.9 L532,300.3 L533.5,299.6 L535,298.7 L536.5,297.7 L538,295.6 L539.5,293.1 L541,291.5 L542.5,290.2 L544,289.2 L545.5,288.5 L547,288.3 L548.5,289 L550,290.2 L551.5,291.5 L553,292.6 L554.5,293.1 L556,292.9 L557.5,292.3 L559,291.5 L560.5,290.5 L562,289.6 L563.5,288.8 L565,288.4 L566.5,288.4 L568,289.1 L569.5,290.3 L571,291.5 L572.5,292.5 L574,292.8 L575.5,292 L577,290.4 L578.5,288.5 L580,286.6 L581.5,285.4 L583,285.1 L584.5,285.7 L586,286.9 L587.5,288.3 L589,289.9 L590.5,291.3 L592,292.3 L593.5,292.8 L595,292.4 L596.5,291.2 L598,289.4 L599.5,287.3 L601,285.1 L602.5,283.2 L604,281.8 L605.5,281.2 L607,281.7 L608.5,283.4 L610,285.7 L611.5,288.4 L613,290.8 L614.5,292.6 L616,293.4 L617.5,292.8 L619,291.1 L620.5,288.7 L622,285.9 L623.5,283.3 L625,281.1 L626.5,279.8 L628,280 L629.5,283.3 L631,288 L632.5,292 L634,293.4 L635.5,293.6 L637,293.8 L638.5,293.9 L640,293.9 L640.5,293.9" fill="none" stroke="#111" stroke-width="1.5" stroke-dasharray="2.6,3"/>
<path d="M359.1,247.5 L360.6,254.4 L362.1,260.3 L363.6,265.2 L365.1,269.1 L366.6,272.2 L368.1,274.4 L369.6,275.8 L371.1,276.4 L372.6,276.1 L374.1,274.3 L375.6,271.3 L377.1,268 L378.6,264.5 L380.1,260.3 L381.6,255.4 L383.1,250.5 L384.6,245.9 L386.1,240.8 L387.6,235.9 L389.1,231.5 L390.6,228.4 L392.1,226.3 L393.6,224.7 L395.1,223.2 L396.6,221.9 L398.1,220.5 L399.6,219 L401.1,217.5 L402.6,215.9 L404.1,214.3 L405.6,212.9 L407.1,211.6 L408.6,210.6 L410.1,210 L411.6,209.7 L413.1,210 L414.6,210.9 L416.1,212 L417.6,213.4 L419.1,215 L420.6,217.4 L422.1,220.8 L423.6,224.4 L425.1,227.5 L426.6,229.5 L428.1,231.2 L429.6,232.6 L431.1,233.4 L432.6,233.5 L434.1,233.4 L435.6,233.2 L437.1,233 L438.6,232.8 L440.1,232.6 L441.6,232.4 L443.1,232.3 L444.6,232.2 L446.1,232.1 L447.6,232.1 L449.1,232 L450.6,231.8 L452.1,231.2 L453.6,230.5 L455.1,229.8 L456.6,229.1 L458.1,228.3 L459.6,227.5 L461.1,226.9 L462.6,226.5 L464.1,226.4 L465.6,226.6 L467.1,227 L468.6,227.6 L470.1,228.2 L471.6,228.8 L473.1,229.3 L474.6,229.7 L476.1,229.9 L477.6,229.8 L479.1,229.5 L480.6,229.1 L482.1,228.6 L483.6,228.2 L485.1,227.9 L486.6,227.9 L488.1,228.3 L489.6,228.9 L491.1,229.7 L492.6,230.7 L494.1,231.7 L495.6,232.7 L497.1,233.5 L498.6,234.2 L500.1,234.6 L501.6,234.6 L503.1,234 L504.6,233 L506.1,231.6 L507.6,230.3 L509.1,229.1 L510.6,228.4 L512.1,228.3 L513.6,229.2 L515.1,230.9 L516.6,233 L518.1,235.5 L519.6,238 L521.1,240.2 L522.6,242.1 L524.1,243.2 L525.6,243.3 L527.1,242.5 L528.6,240.9 L530.1,238.9 L531.6,236.7 L533.1,234.7 L534.6,233.1 L536.1,232.2 L537.6,232 L539.1,231.7 L540.6,231.5 L542.1,231.4 L543.6,231.2 L545.1,231 L546.6,230.9 L548.1,230.8 L549.6,230.7 L551.1,230.6 L552.6,230.6 L554.1,230.5 L555.6,230.5 L557.1,230.6 L558.6,230.9 L560.1,231.5 L561.6,232.2 L563.1,232.9 L564.6,233.6 L566.1,234.2 L567.6,234.5 L569.1,234.4 L570.6,233.8 L572.1,232.9 L573.6,231.7 L575.1,230.4 L576.6,229.2 L578.1,228.2 L579.6,227.5 L581.1,227.3 L582.6,227.7 L584.1,228.7 L585.6,230.2 L587.1,231.8 L588.6,233.4 L590.1,234.8 L591.6,235.7 L593.1,236 L594.6,235.3 L596.1,233.9 L597.6,232 L599.1,230 L600.6,228.4 L602.1,227.3 L603.6,227 L605.1,226.7 L606.6,226.5 L608.1,226.4 L609.6,226.4 L611.1,226.7 L612.6,227.1 L614.1,227.1 L615.6,226.2 L617.1,224.4 L618.6,222 L620.1,219.5 L621.6,217.1 L623.1,215.3 L624.6,214.5 L626.1,215 L627.6,217 L629.1,219.9 L630.6,223.3 L632.1,226.5 L633.6,229.1 L635.1,231 L636.6,232.8 L638.1,234.4 L639.6,235.9 L640.5,236.7 L640.5,259.1 L639.6,258.3 L638.1,256.8 L636.6,255.2 L635.1,253.4 L633.6,251.4 L632.1,248.9 L630.6,245.6 L629.1,242.3 L627.6,239.3 L626.1,237.3 L624.6,236.8 L623.1,237.6 L621.6,239.4 L620.1,241.7 L618.6,244.3 L617.1,246.6 L615.6,248.5 L614.1,249.4 L612.6,249.3 L611.1,249 L609.6,248.7 L608.1,248.6 L606.6,248.7 L605.1,248.9 L603.6,249.2 L602.1,249.5 L600.6,250.5 L599.1,252.2 L597.6,254.2 L596.1,256.1 L594.6,257.5 L593.1,258.2 L591.6,257.9 L590.1,256.9 L588.6,255.5 L587.1,253.9 L585.6,252.3 L584.1,250.8 L582.6,249.8 L581.1,249.3 L579.6,249.6 L578.1,250.3 L576.6,251.3 L575.1,252.5 L573.6,253.8 L572.1,254.9 L570.6,255.9 L569.1,256.4 L567.6,256.5 L566.1,256.2 L564.6,255.6 L563.1,254.9 L561.6,254.2 L560.1,253.5 L558.6,252.9 L557.1,252.5 L555.6,252.5 L554.1,252.5 L552.6,252.5 L551.1,252.6 L549.6,252.6 L548.1,252.7 L546.6,252.8 L545.1,252.9 L543.6,253.1 L542.1,253.2 L540.6,253.4 L539.1,253.6 L537.6,253.8 L536.1,254.1 L534.6,254.9 L533.1,256.5 L531.6,258.5 L530.1,260.7 L528.6,262.7 L527.1,264.3 L525.6,265.1 L524.1,265 L522.6,263.8 L521.1,262 L519.6,259.7 L518.1,257.2 L516.6,254.8 L515.1,252.6 L513.6,250.9 L512.1,250 L510.6,250.1 L509.1,250.8 L507.6,252 L506.1,253.3 L504.6,254.7 L503.1,255.7 L501.6,256.3 L500.1,256.2 L498.6,255.8 L497.1,255.2 L495.6,254.3 L494.1,253.3 L492.6,252.3 L491.1,251.4 L489.6,250.5 L488.1,249.9 L486.6,249.5 L485.1,249.5 L483.6,249.8 L482.1,250.2 L480.6,250.7 L479.1,251.1 L477.6,251.4 L476.1,251.5 L474.6,251.3 L473.1,250.9 L471.6,250.3 L470.1,249.7 L468.6,249.1 L467.1,248.5 L465.6,248.1 L464.1,247.9 L462.6,247.9 L461.1,248.3 L459.6,249 L458.1,249.8 L456.6,250.6 L455.1,251.3 L453.6,251.9 L452.1,252.6 L450.6,253.2 L449.1,253.4 L447.6,253.6 L446.1,253.8 L444.6,253.9 L443.1,254.1 L441.6,254.3 L440.1,254.6 L438.6,254.9 L437.1,255.2 L435.6,255.5 L434.1,255.7 L432.6,255.9 L431.1,255.9 L429.6,255.2 L428.1,253.9 L426.6,252.3 L425.1,250.4 L423.6,247.4 L422.1,243.9 L420.6,240.6 L419.1,238.2 L417.6,236.8 L416.1,235.5 L414.6,234.4 L413.1,233.7 L411.6,233.5 L410.1,233.8 L408.6,234.5 L407.1,235.6 L405.6,236.9 L404.1,238.5 L402.6,240.1 L401.1,241.8 L399.6,243.4 L398.1,244.9 L396.6,246.1 L395.1,247.4 L393.6,248.7 L392.1,250.4 L390.6,252.4 L389.1,255.4 L387.6,259.6 L386.1,264.5 L384.6,269.5 L383.1,274.1 L381.6,278.9 L380.1,283.7 L378.6,287.9 L377.1,291.2 L375.6,294.6 L374.1,297.4 L372.6,299.2 L371.1,299.4 L369.6,298.7 L368.1,297.3 L366.6,295 L365.1,291.8 L363.6,287.8 L362.1,282.8 L360.6,276.9 L359.1,269.9 Z" fill="#dcdcdc"/>
<path d="M359.1,249.7 L360.6,256.6 L362.1,262.5 L363.6,267.4 L365.1,271.3 L366.6,274.4 L368.1,276.6 L369.6,278 L371.1,278.6 L372.6,278.3 L374.1,276.5 L375.6,273.5 L377.1,270.2 L378.6,266.7 L380.1,262.5 L381.6,257.6 L383.1,252.7 L384.6,248.1 L386.1,243 L387.6,238.1 L389.1,233.7 L390.6,230.6 L392.1,228.5 L393.6,226.9 L395.1,225.4 L396.6,224.1 L398.1,222.7 L399.6,221.2 L401.1,219.7 L402.6,218.1 L404.1,216.5 L405.6,215.1 L407.1,213.8 L408.6,212.8 L410.1,212.2 L411.6,211.9 L413.1,212.2 L414.6,213.1 L416.1,214.2 L417.6,215.6 L419.1,217.2 L420.6,219.6 L422.1,223 L423.6,226.6 L425.1,229.7 L426.6,231.7 L428.1,233.4 L429.6,234.8 L431.1,235.6 L432.6,235.7 L434.1,235.6 L435.6,235.4 L437.1,235.2 L438.6,235 L440.1,234.8 L441.6,234.6 L443.1,234.5 L444.6,234.4 L446.1,234.3 L447.6,234.3 L449.1,234.2 L450.6,234 L452.1,233.4 L453.6,232.7 L455.1,232 L456.6,231.3 L458.1,230.5 L459.6,229.7 L461.1,229.1 L462.6,228.7 L464.1,228.6 L465.6,228.8 L467.1,229.2 L468.6,229.8 L470.1,230.4 L471.6,231 L473.1,231.5 L474.6,231.9 L476.1,232.1 L477.6,232 L479.1,231.7 L480.6,231.3 L482.1,230.8 L483.6,230.4 L485.1,230.1 L486.6,230.1 L488.1,230.5 L489.6,231.1 L491.1,231.9 L492.6,232.9 L494.1,233.9 L495.6,234.9 L497.1,235.7 L498.6,236.4 L500.1,236.8 L501.6,236.8 L503.1,236.2 L504.6,235.2 L506.1,233.8 L507.6,232.5 L509.1,231.3 L510.6,230.6 L512.1,230.5 L513.6,231.4 L515.1,233.1 L516.6,235.2 L518.1,237.7 L519.6,240.2 L521.1,242.4 L522.6,244.3 L524.1,245.4 L525.6,245.5 L527.1,244.7 L528.6,243.1 L530.1,241.1 L531.6,238.9 L533.1,236.9 L534.6,235.3 L536.1,234.4 L537.6,234.2 L539.1,233.9 L540.6,233.7 L542.1,233.6 L543.6,233.4 L545.1,233.2 L546.6,233.1 L548.1,233 L549.6,232.9 L551.1,232.8 L552.6,232.8 L554.1,232.7 L555.6,232.7 L557.1,232.8 L558.6,233.1 L560.1,233.7 L561.6,234.4 L563.1,235.1 L564.6,235.8 L566.1,236.4 L567.6,236.7 L569.1,236.6 L570.6,236 L572.1,235.1 L573.6,233.9 L575.1,232.6 L576.6,231.4 L578.1,230.4 L579.6,229.7 L581.1,229.5 L582.6,229.9 L584.1,230.9 L585.6,232.4 L587.1,234 L588.6,235.6 L590.1,237 L591.6,237.9 L593.1,238.2 L594.6,237.5 L596.1,236.1 L597.6,234.2 L599.1,232.2 L600.6,230.6 L602.1,229.5 L603.6,229.2 L605.1,228.9 L606.6,228.7 L608.1,228.6 L609.6,228.6 L611.1,228.9 L612.6,229.3 L614.1,229.3 L615.6,228.4 L617.1,226.6 L618.6,224.2 L620.1,221.7 L621.6,219.3 L623.1,217.5 L624.6,216.7 L626.1,217.2 L627.6,219.2 L629.1,222.1 L630.6,225.5 L632.1,228.7 L633.6,231.3 L635.1,233.2 L636.6,235 L638.1,236.6 L639.6,238.1 L640.5,238.9 L640.5,256.9 L639.6,256.1 L638.1,254.6 L636.6,253 L635.1,251.2 L633.6,249.2 L632.1,246.7 L630.6,243.4 L629.1,240.1 L627.6,237.1 L626.1,235.1 L624.6,234.6 L623.1,235.4 L621.6,237.2 L620.1,239.5 L618.6,242.1 L617.1,244.4 L615.6,246.3 L614.1,247.2 L612.6,247.1 L611.1,246.8 L609.6,246.5 L608.1,246.4 L606.6,246.5 L605.1,246.7 L603.6,247 L602.1,247.3 L600.6,248.3 L599.1,250 L597.6,252 L596.1,253.9 L594.6,255.3 L593.1,256 L591.6,255.7 L590.1,254.7 L588.6,253.3 L587.1,251.7 L585.6,250.1 L584.1,248.6 L582.6,247.6 L581.1,247.1 L579.6,247.4 L578.1,248.1 L576.6,249.1 L575.1,250.3 L573.6,251.6 L572.1,252.7 L570.6,253.7 L569.1,254.2 L567.6,254.3 L566.1,254 L564.6,253.4 L563.1,252.7 L561.6,252 L560.1,251.3 L558.6,250.7 L557.1,250.3 L555.6,250.3 L554.1,250.3 L552.6,250.3 L551.1,250.4 L549.6,250.4 L548.1,250.5 L546.6,250.6 L545.1,250.7 L543.6,250.9 L542.1,251 L540.6,251.2 L539.1,251.4 L537.6,251.6 L536.1,251.9 L534.6,252.7 L533.1,254.3 L531.6,256.3 L530.1,258.5 L528.6,260.5 L527.1,262.1 L525.6,262.9 L524.1,262.8 L522.6,261.6 L521.1,259.8 L519.6,257.5 L518.1,255 L516.6,252.6 L515.1,250.4 L513.6,248.7 L512.1,247.8 L510.6,247.9 L509.1,248.6 L507.6,249.8 L506.1,251.1 L504.6,252.5 L503.1,253.5 L501.6,254.1 L500.1,254 L498.6,253.6 L497.1,253 L495.6,252.1 L494.1,251.1 L492.6,250.1 L491.1,249.2 L489.6,248.3 L488.1,247.7 L486.6,247.3 L485.1,247.3 L483.6,247.6 L482.1,248 L480.6,248.5 L479.1,248.9 L477.6,249.2 L476.1,249.3 L474.6,249.1 L473.1,248.7 L471.6,248.1 L470.1,247.5 L468.6,246.9 L467.1,246.3 L465.6,245.9 L464.1,245.7 L462.6,245.7 L461.1,246.1 L459.6,246.8 L458.1,247.6 L456.6,248.4 L455.1,249.1 L453.6,249.7 L452.1,250.4 L450.6,251 L449.1,251.2 L447.6,251.4 L446.1,251.6 L444.6,251.7 L443.1,251.9 L441.6,252.1 L440.1,252.4 L438.6,252.7 L437.1,253 L435.6,253.3 L434.1,253.5 L432.6,253.7 L431.1,253.7 L429.6,253 L428.1,251.7 L426.6,250.1 L425.1,248.2 L423.6,245.2 L422.1,241.7 L420.6,238.4 L419.1,236 L417.6,234.6 L416.1,233.3 L414.6,232.2 L413.1,231.5 L411.6,231.3 L410.1,231.6 L408.6,232.3 L407.1,233.4 L405.6,234.7 L404.1,236.3 L402.6,237.9 L401.1,239.6 L399.6,241.2 L398.1,242.7 L396.6,243.9 L395.1,245.2 L393.6,246.5 L392.1,248.2 L390.6,250.2 L389.1,253.2 L387.6,257.4 L386.1,262.3 L384.6,267.3 L383.1,271.9 L381.6,276.7 L380.1,281.5 L378.6,285.7 L377.1,289 L375.6,292.4 L374.1,295.2 L372.6,297 L371.1,297.2 L369.6,296.5 L368.1,295.1 L366.6,292.8 L365.1,289.6 L363.6,285.6 L362.1,280.6 L360.6,274.7 L359.1,267.7 Z" fill="#bcbcbc"/>
<path d="M359.1,240.4 L360.6,240.4 L362.1,240.4 L363.6,240.4 L365.1,240.4 L366.6,240.4 L368.1,240.4 L369.6,240.4 L371.1,240.4 L372.6,240.4 L374.1,240.4 L375.6,240.4 L377.1,240.4 L378.6,240.4 L380.1,240.4 L381.6,240.4 L383.1,240.4 L384.6,240.4 L386.1,240.4 L387.6,240.4 L389.1,240.4 L390.6,240.4 L392.1,238.4 L393.6,236.7 L395.1,235.3 L396.6,234 L398.1,232.7 L399.6,231.2 L401.1,229.6 L402.6,228 L404.1,226.4 L405.6,224.9 L407.1,223.6 L408.6,222.6 L410.1,221.9 L411.6,221.6 L413.1,221.9 L414.6,222.6 L416.1,223.7 L417.6,225.1 L419.1,226.6 L420.6,229 L422.1,232.4 L423.6,235.9 L425.1,239 L426.6,240.4 L428.1,240.4 L429.6,240.4 L431.1,240.4 L432.6,240.4 L434.1,240.4 L435.6,240.4 L437.1,240.4 L438.6,240.4 L440.1,240.4 L441.6,240.4 L443.1,240.4 L444.6,240.4 L446.1,240.4 L447.6,240.4 L449.1,240.4 L450.6,240.4 L452.1,240.4 L453.6,240.4 L455.1,240.4 L456.6,239.9 L458.1,239.1 L459.6,238.3 L461.1,237.6 L462.6,237.2 L464.1,237.1 L465.6,237.3 L467.1,237.8 L468.6,238.3 L470.1,238.9 L471.6,239.6 L473.1,240.1 L474.6,240.4 L476.1,240.4 L477.6,240.4 L479.1,240.3 L480.6,239.9 L482.1,239.4 L483.6,239 L485.1,238.7 L486.6,238.7 L488.1,239.1 L489.6,239.7 L491.1,240.4 L492.6,240.4 L494.1,240.4 L495.6,240.4 L497.1,240.4 L498.6,240.4 L500.1,240.4 L501.6,240.4 L503.1,240.4 L504.6,240.4 L506.1,240.4 L507.6,240.4 L509.1,240 L510.6,239.2 L512.1,239.2 L513.6,240.1 L515.1,240.4 L516.6,240.4 L518.1,240.4 L519.6,240.4 L521.1,240.4 L522.6,240.4 L524.1,240.4 L525.6,240.4 L527.1,240.4 L528.6,240.4 L530.1,240.4 L531.6,240.4 L533.1,240.4 L534.6,240.4 L536.1,240.4 L537.6,240.4 L539.1,240.4 L540.6,240.4 L542.1,240.4 L543.6,240.4 L545.1,240.4 L546.6,240.4 L548.1,240.4 L549.6,240.4 L551.1,240.4 L552.6,240.4 L554.1,240.4 L555.6,240.4 L557.1,240.4 L558.6,240.4 L560.1,240.4 L561.6,240.4 L563.1,240.4 L564.6,240.4 L566.1,240.4 L567.6,240.4 L569.1,240.4 L570.6,240.4 L572.1,240.4 L573.6,240.4 L575.1,240.4 L576.6,240.3 L578.1,239.2 L579.6,238.5 L581.1,238.3 L582.6,238.7 L584.1,239.8 L585.6,240.4 L587.1,240.4 L588.6,240.4 L590.1,240.4 L591.6,240.4 L593.1,240.4 L594.6,240.4 L596.1,240.4 L597.6,240.4 L599.1,240.4 L600.6,239.5 L602.1,238.4 L603.6,238.1 L605.1,237.8 L606.6,237.6 L608.1,237.5 L609.6,237.5 L611.1,237.9 L612.6,238.2 L614.1,238.3 L615.6,237.3 L617.1,235.5 L618.6,233.1 L620.1,230.6 L621.6,228.3 L623.1,226.5 L624.6,225.6 L626.1,226.2 L627.6,228.2 L629.1,231.1 L630.6,234.5 L632.1,237.7 L633.6,240.3 L635.1,240.4 L636.6,240.4 L638.1,240.4 L639.6,240.4 L640.5,240.4 L640.5,240.4 L359.1,240.4 Z" fill="#808080"/>
<path d="M359.1,258.7 L360.6,265.6 L362.1,271.6 L363.6,276.5 L365.1,280.5 L366.6,283.6 L368.1,285.8 L369.6,287.3 L371.1,287.9 L372.6,287.7 L374.1,285.8 L375.6,282.9 L377.1,279.6 L378.6,276.2 L380.1,272 L381.6,267.2 L383.1,262.3 L384.6,257.7 L386.1,252.7 L387.6,247.8 L389.1,243.5 L390.6,240.4 L392.1,240.4 L393.6,240.4 L395.1,240.4 L396.6,240.4 L398.1,240.4 L399.6,240.4 L401.1,240.4 L402.6,240.4 L404.1,240.4 L405.6,240.4 L407.1,240.4 L408.6,240.4 L410.1,240.4 L411.6,240.4 L413.1,240.4 L414.6,240.4 L416.1,240.4 L417.6,240.4 L419.1,240.4 L420.6,240.4 L422.1,240.4 L423.6,240.4 L425.1,240.4 L426.6,240.9 L428.1,242.5 L429.6,243.9 L431.1,244.6 L432.6,244.7 L434.1,244.6 L435.6,244.4 L437.1,244.1 L438.6,243.9 L440.1,243.6 L441.6,243.4 L443.1,243.2 L444.6,243.1 L446.1,243 L447.6,242.9 L449.1,242.7 L450.6,242.5 L452.1,241.9 L453.6,241.2 L455.1,240.6 L456.6,240.4 L458.1,240.4 L459.6,240.4 L461.1,240.4 L462.6,240.4 L464.1,240.4 L465.6,240.4 L467.1,240.4 L468.6,240.4 L470.1,240.4 L471.6,240.4 L473.1,240.4 L474.6,240.5 L476.1,240.7 L477.6,240.6 L479.1,240.4 L480.6,240.4 L482.1,240.4 L483.6,240.4 L485.1,240.4 L486.6,240.4 L488.1,240.4 L489.6,240.4 L491.1,240.5 L492.6,241.5 L494.1,242.5 L495.6,243.5 L497.1,244.3 L498.6,245 L500.1,245.4 L501.6,245.5 L503.1,244.9 L504.6,243.8 L506.1,242.5 L507.6,241.1 L509.1,240.4 L510.6,240.4 L512.1,240.4 L513.6,240.4 L515.1,241.7 L516.6,243.9 L518.1,246.4 L519.6,248.9 L521.1,251.1 L522.6,252.9 L524.1,254.1 L525.6,254.2 L527.1,253.4 L528.6,251.8 L530.1,249.8 L531.6,247.6 L533.1,245.6 L534.6,244 L536.1,243.1 L537.6,242.9 L539.1,242.7 L540.6,242.5 L542.1,242.3 L543.6,242.1 L545.1,242 L546.6,241.9 L548.1,241.8 L549.6,241.7 L551.1,241.6 L552.6,241.6 L554.1,241.5 L555.6,241.5 L557.1,241.6 L558.6,241.9 L560.1,242.5 L561.6,243.2 L563.1,243.9 L564.6,244.6 L566.1,245.2 L567.6,245.5 L569.1,245.4 L570.6,244.8 L572.1,243.9 L573.6,242.7 L575.1,241.5 L576.6,240.4 L578.1,240.4 L579.6,240.4 L581.1,240.4 L582.6,240.4 L584.1,240.4 L585.6,241.2 L587.1,242.9 L588.6,244.5 L590.1,245.9 L591.6,246.8 L593.1,247.1 L594.6,246.4 L596.1,245 L597.6,243.1 L599.1,241.1 L600.6,240.4 L602.1,240.4 L603.6,240.4 L605.1,240.4 L606.6,240.4 L608.1,240.4 L609.6,240.4 L611.1,240.4 L612.6,240.4 L614.1,240.4 L615.6,240.4 L617.1,240.4 L618.6,240.4 L620.1,240.4 L621.6,240.4 L623.1,240.4 L624.6,240.4 L626.1,240.4 L627.6,240.4 L629.1,240.4 L630.6,240.4 L632.1,240.4 L633.6,240.4 L635.1,242.2 L636.6,244 L638.1,245.6 L639.6,247.1 L640.5,247.9 L640.5,240.4 L359.1,240.4 Z" fill="#e8573e"/>
<path d="M359.1,249.7 L360.6,256.6 L362.1,262.5 L363.6,267.4 L365.1,271.3 L366.6,274.4 L368.1,276.6 L369.6,278 L371.1,278.6 L372.6,278.3 L374.1,276.5 L375.6,273.5 L377.1,270.2 L378.6,266.7 L380.1,262.5 L381.6,257.6 L383.1,252.7 L384.6,248.1 L386.1,243 L387.6,238.1 L389.1,233.7 L390.6,230.6 L392.1,228.5 L393.6,226.9 L395.1,225.4 L396.6,224.1 L398.1,222.7 L399.6,221.2 L401.1,219.7 L402.6,218.1 L404.1,216.5 L405.6,215.1 L407.1,213.8 L408.6,212.8 L410.1,212.2 L411.6,211.9 L413.1,212.2 L414.6,213.1 L416.1,214.2 L417.6,215.6 L419.1,217.2 L420.6,219.6 L422.1,223 L423.6,226.6 L425.1,229.7 L426.6,231.7 L428.1,233.4 L429.6,234.8 L431.1,235.6 L432.6,235.7 L434.1,235.6 L435.6,235.4 L437.1,235.2 L438.6,235 L440.1,234.8 L441.6,234.6 L443.1,234.5 L444.6,234.4 L446.1,234.3 L447.6,234.3 L449.1,234.2 L450.6,234 L452.1,233.4 L453.6,232.7 L455.1,232 L456.6,231.3 L458.1,230.5 L459.6,229.7 L461.1,229.1 L462.6,228.7 L464.1,228.6 L465.6,228.8 L467.1,229.2 L468.6,229.8 L470.1,230.4 L471.6,231 L473.1,231.5 L474.6,231.9 L476.1,232.1 L477.6,232 L479.1,231.7 L480.6,231.3 L482.1,230.8 L483.6,230.4 L485.1,230.1 L486.6,230.1 L488.1,230.5 L489.6,231.1 L491.1,231.9 L492.6,232.9 L494.1,233.9 L495.6,234.9 L497.1,235.7 L498.6,236.4 L500.1,236.8 L501.6,236.8 L503.1,236.2 L504.6,235.2 L506.1,233.8 L507.6,232.5 L509.1,231.3 L510.6,230.6 L512.1,230.5 L513.6,231.4 L515.1,233.1 L516.6,235.2 L518.1,237.7 L519.6,240.2 L521.1,242.4 L522.6,244.3 L524.1,245.4 L525.6,245.5 L527.1,244.7 L528.6,243.1 L530.1,241.1 L531.6,238.9 L533.1,236.9 L534.6,235.3 L536.1,234.4 L537.6,234.2 L539.1,233.9 L540.6,233.7 L542.1,233.6 L543.6,233.4 L545.1,233.2 L546.6,233.1 L548.1,233 L549.6,232.9 L551.1,232.8 L552.6,232.8 L554.1,232.7 L555.6,232.7 L557.1,232.8 L558.6,233.1 L560.1,233.7 L561.6,234.4 L563.1,235.1 L564.6,235.8 L566.1,236.4 L567.6,236.7 L569.1,236.6 L570.6,236 L572.1,235.1 L573.6,233.9 L575.1,232.6 L576.6,231.4 L578.1,230.4 L579.6,229.7 L581.1,229.5 L582.6,229.9 L584.1,230.9 L585.6,232.4 L587.1,234 L588.6,235.6 L590.1,237 L591.6,237.9 L593.1,238.2 L594.6,237.5 L596.1,236.1 L597.6,234.2 L599.1,232.2 L600.6,230.6 L602.1,229.5 L603.6,229.2 L605.1,228.9 L606.6,228.7 L608.1,228.6 L609.6,228.6 L611.1,228.9 L612.6,229.3 L614.1,229.3 L615.6,228.4 L617.1,226.6 L618.6,224.2 L620.1,221.7 L621.6,219.3 L623.1,217.5 L624.6,216.7 L626.1,217.2 L627.6,219.2 L629.1,222.1 L630.6,225.5 L632.1,228.7 L633.6,231.3 L635.1,233.2 L636.6,235 L638.1,236.6 L639.6,238.1 L640.5,238.9" fill="none" stroke="#1a1a1a" stroke-width="1.15" stroke-dasharray="4,2.4"/>
<path d="M359.1,267.7 L360.6,274.7 L362.1,280.6 L363.6,285.6 L365.1,289.6 L366.6,292.8 L368.1,295.1 L369.6,296.5 L371.1,297.2 L372.6,297 L374.1,295.2 L375.6,292.4 L377.1,289 L378.6,285.7 L380.1,281.5 L381.6,276.7 L383.1,271.9 L384.6,267.3 L386.1,262.3 L387.6,257.4 L389.1,253.2 L390.6,250.2 L392.1,248.2 L393.6,246.5 L395.1,245.2 L396.6,243.9 L398.1,242.7 L399.6,241.2 L401.1,239.6 L402.6,237.9 L404.1,236.3 L405.6,234.7 L407.1,233.4 L408.6,232.3 L410.1,231.6 L411.6,231.3 L413.1,231.5 L414.6,232.2 L416.1,233.3 L417.6,234.6 L419.1,236 L420.6,238.4 L422.1,241.7 L423.6,245.2 L425.1,248.2 L426.6,250.1 L428.1,251.7 L429.6,253 L431.1,253.7 L432.6,253.7 L434.1,253.5 L435.6,253.3 L437.1,253 L438.6,252.7 L440.1,252.4 L441.6,252.1 L443.1,251.9 L444.6,251.7 L446.1,251.6 L447.6,251.4 L449.1,251.2 L450.6,251 L452.1,250.4 L453.6,249.7 L455.1,249.1 L456.6,248.4 L458.1,247.6 L459.6,246.8 L461.1,246.1 L462.6,245.7 L464.1,245.7 L465.6,245.9 L467.1,246.3 L468.6,246.9 L470.1,247.5 L471.6,248.1 L473.1,248.7 L474.6,249.1 L476.1,249.3 L477.6,249.2 L479.1,248.9 L480.6,248.5 L482.1,248 L483.6,247.6 L485.1,247.3 L486.6,247.3 L488.1,247.7 L489.6,248.3 L491.1,249.2 L492.6,250.1 L494.1,251.1 L495.6,252.1 L497.1,253 L498.6,253.6 L500.1,254 L501.6,254.1 L503.1,253.5 L504.6,252.5 L506.1,251.1 L507.6,249.8 L509.1,248.6 L510.6,247.9 L512.1,247.8 L513.6,248.7 L515.1,250.4 L516.6,252.6 L518.1,255 L519.6,257.5 L521.1,259.8 L522.6,261.6 L524.1,262.8 L525.6,262.9 L527.1,262.1 L528.6,260.5 L530.1,258.5 L531.6,256.3 L533.1,254.3 L534.6,252.7 L536.1,251.9 L537.6,251.6 L539.1,251.4 L540.6,251.2 L542.1,251 L543.6,250.9 L545.1,250.7 L546.6,250.6 L548.1,250.5 L549.6,250.4 L551.1,250.4 L552.6,250.3 L554.1,250.3 L555.6,250.3 L557.1,250.3 L558.6,250.7 L560.1,251.3 L561.6,252 L563.1,252.7 L564.6,253.4 L566.1,254 L567.6,254.3 L569.1,254.2 L570.6,253.7 L572.1,252.7 L573.6,251.6 L575.1,250.3 L576.6,249.1 L578.1,248.1 L579.6,247.4 L581.1,247.1 L582.6,247.6 L584.1,248.6 L585.6,250.1 L587.1,251.7 L588.6,253.3 L590.1,254.7 L591.6,255.7 L593.1,256 L594.6,255.3 L596.1,253.9 L597.6,252 L599.1,250 L600.6,248.3 L602.1,247.3 L603.6,247 L605.1,246.7 L606.6,246.5 L608.1,246.4 L609.6,246.5 L611.1,246.8 L612.6,247.1 L614.1,247.2 L615.6,246.3 L617.1,244.4 L618.6,242.1 L620.1,239.5 L621.6,237.2 L623.1,235.4 L624.6,234.6 L626.1,235.1 L627.6,237.1 L629.1,240.1 L630.6,243.4 L632.1,246.7 L633.6,249.2 L635.1,251.2 L636.6,253 L638.1,254.6 L639.6,256.1 L640.5,256.9" fill="none" stroke="#1a1a1a" stroke-width="1.15" stroke-dasharray="4,2.4"/>
<path d="M359.1,258.7 L360.6,265.6 L362.1,271.6 L363.6,276.5 L365.1,280.5 L366.6,283.6 L368.1,285.8 L369.6,287.3 L371.1,287.9 L372.6,287.7 L374.1,285.8 L375.6,282.9 L377.1,279.6 L378.6,276.2 L380.1,272 L381.6,267.2 L383.1,262.3 L384.6,257.7 L386.1,252.7 L387.6,247.8 L389.1,243.5 L390.6,240.4 L392.1,238.4 L393.6,236.7 L395.1,235.3 L396.6,234 L398.1,232.7 L399.6,231.2 L401.1,229.6 L402.6,228 L404.1,226.4 L405.6,224.9 L407.1,223.6 L408.6,222.6 L410.1,221.9 L411.6,221.6 L413.1,221.9 L414.6,222.6 L416.1,223.7 L417.6,225.1 L419.1,226.6 L420.6,229 L422.1,232.4 L423.6,235.9 L425.1,239 L426.6,240.9 L428.1,242.5 L429.6,243.9 L431.1,244.6 L432.6,244.7 L434.1,244.6 L435.6,244.4 L437.1,244.1 L438.6,243.9 L440.1,243.6 L441.6,243.4 L443.1,243.2 L444.6,243.1 L446.1,243 L447.6,242.9 L449.1,242.7 L450.6,242.5 L452.1,241.9 L453.6,241.2 L455.1,240.6 L456.6,239.9 L458.1,239.1 L459.6,238.3 L461.1,237.6 L462.6,237.2 L464.1,237.1 L465.6,237.3 L467.1,237.8 L468.6,238.3 L470.1,238.9 L471.6,239.6 L473.1,240.1 L474.6,240.5 L476.1,240.7 L477.6,240.6 L479.1,240.3 L480.6,239.9 L482.1,239.4 L483.6,239 L485.1,238.7 L486.6,238.7 L488.1,239.1 L489.6,239.7 L491.1,240.5 L492.6,241.5 L494.1,242.5 L495.6,243.5 L497.1,244.3 L498.6,245 L500.1,245.4 L501.6,245.5 L503.1,244.9 L504.6,243.8 L506.1,242.5 L507.6,241.1 L509.1,240 L510.6,239.2 L512.1,239.2 L513.6,240.1 L515.1,241.7 L516.6,243.9 L518.1,246.4 L519.6,248.9 L521.1,251.1 L522.6,252.9 L524.1,254.1 L525.6,254.2 L527.1,253.4 L528.6,251.8 L530.1,249.8 L531.6,247.6 L533.1,245.6 L534.6,244 L536.1,243.1 L537.6,242.9 L539.1,242.7 L540.6,242.5 L542.1,242.3 L543.6,242.1 L545.1,242 L546.6,241.9 L548.1,241.8 L549.6,241.7 L551.1,241.6 L552.6,241.6 L554.1,241.5 L555.6,241.5 L557.1,241.6 L558.6,241.9 L560.1,242.5 L561.6,243.2 L563.1,243.9 L564.6,244.6 L566.1,245.2 L567.6,245.5 L569.1,245.4 L570.6,244.8 L572.1,243.9 L573.6,242.7 L575.1,241.5 L576.6,240.3 L578.1,239.2 L579.6,238.5 L581.1,238.3 L582.6,238.7 L584.1,239.8 L585.6,241.2 L587.1,242.9 L588.6,244.5 L590.1,245.9 L591.6,246.8 L593.1,247.1 L594.6,246.4 L596.1,245 L597.6,243.1 L599.1,241.1 L600.6,239.5 L602.1,238.4 L603.6,238.1 L605.1,237.8 L606.6,237.6 L608.1,237.5 L609.6,237.5 L611.1,237.9 L612.6,238.2 L614.1,238.3 L615.6,237.3 L617.1,235.5 L618.6,233.1 L620.1,230.6 L621.6,228.3 L623.1,226.5 L624.6,225.6 L626.1,226.2 L627.6,228.2 L629.1,231.1 L630.6,234.5 L632.1,237.7 L633.6,240.3 L635.1,242.2 L636.6,244 L638.1,245.6 L639.6,247.1 L640.5,247.9" fill="none" stroke="#0a1cff" stroke-width="1.7"/>
<path d="M359.1,258.7 L360.6,265.6 L362.1,271.6 L363.6,276.5 L365.1,280.5 L366.6,283.6 L368.1,285.8 L369.6,287.3 L371.1,287.9 L372.6,287.7 L374.1,285.8 L375.6,282.9 L377.1,279.6 L378.6,276.2 L380.1,272 L381.6,267.2 L383.1,262.3 L384.6,257.7 L386.1,252.7 L387.6,247.8 L389.1,243.5 L390.6,240.4 L392.1,238.4 L393.6,236.7 L395.1,235.3 L396.6,234 L398.1,232.7 L399.6,231.2 L401.1,229.6 L402.6,228 L404.1,226.4 L405.6,224.9 L407.1,223.6 L408.6,222.6 L410.1,221.9 L411.6,221.6 L413.1,221.9 L414.6,222.6 L416.1,223.7 L417.6,225.1 L419.1,226.6 L420.6,229 L422.1,232.4 L423.6,235.9 L425.1,239 L426.6,240.9 L428.1,242.5 L429.6,243.9 L431.1,244.6 L432.6,244.7 L434.1,244.6 L435.6,244.4 L437.1,244.1 L438.6,243.9 L440.1,243.6 L441.6,243.4 L443.1,243.2 L444.6,243.1 L446.1,243 L447.6,242.9 L449.1,242.7 L450.6,242.5 L452.1,241.9 L453.6,241.2 L455.1,240.6 L456.6,239.9 L458.1,239.1 L459.6,238.3 L461.1,237.6 L462.6,237.2 L464.1,237.1 L465.6,237.3 L467.1,237.8 L468.6,238.3 L470.1,238.9 L471.6,239.6 L473.1,240.1 L474.6,240.5 L476.1,240.7 L477.6,240.6 L479.1,240.3 L480.6,239.9 L482.1,239.4 L483.6,239 L485.1,238.7 L486.6,238.7 L488.1,239.1 L489.6,239.7 L491.1,240.5 L492.6,241.5 L494.1,242.5 L495.6,243.5 L497.1,244.3 L498.6,245 L500.1,245.4 L501.6,245.5 L503.1,244.9 L504.6,243.8 L506.1,242.5 L507.6,241.1 L509.1,240 L510.6,239.2 L512.1,239.2 L513.6,240.1 L515.1,241.7 L516.6,243.9 L518.1,246.4 L519.6,248.9 L521.1,251.1 L522.6,252.9 L524.1,254.1 L525.6,254.2 L527.1,253.4 L528.6,251.8 L530.1,249.8 L531.6,247.6 L533.1,245.6 L534.6,244 L536.1,243.1 L537.6,242.9 L539.1,242.7 L540.6,242.5 L542.1,242.3 L543.6,242.1 L545.1,242 L546.6,241.9 L548.1,241.8 L549.6,241.7 L551.1,241.6 L552.6,241.6 L554.1,241.5 L555.6,241.5 L557.1,241.6 L558.6,241.9 L560.1,242.5 L561.6,243.2 L563.1,243.9 L564.6,244.6 L566.1,245.2 L567.6,245.5 L569.1,245.4 L570.6,244.8 L572.1,243.9 L573.6,242.7 L575.1,241.5 L576.6,240.3 L578.1,239.2 L579.6,238.5 L581.1,238.3 L582.6,238.7 L584.1,239.8 L585.6,241.2 L587.1,242.9 L588.6,244.5 L590.1,245.9 L591.6,246.8 L593.1,247.1 L594.6,246.4 L596.1,245 L597.6,243.1 L599.1,241.1 L600.6,239.5 L602.1,238.4 L603.6,238.1 L605.1,237.8 L606.6,237.6 L608.1,237.5 L609.6,237.5 L611.1,237.9 L612.6,238.2 L614.1,238.3 L615.6,237.3 L617.1,235.5 L618.6,233.1 L620.1,230.6 L621.6,228.3 L623.1,226.5 L624.6,225.6 L626.1,226.2 L627.6,228.2 L629.1,231.1 L630.6,234.5 L632.1,237.7 L633.6,240.3 L635.1,242.2 L636.6,244 L638.1,245.6 L639.6,247.1 L640.5,247.9" fill="none" stroke="#111" stroke-width="1.5" stroke-dasharray="2.6,3"/>
<path d="M359.5,173.2 L361,172.5 L362.5,173.3 L364,174.6 L365.5,176.8 L367,182 L368.5,189.1 L370,196.7 L371.5,203.3 L373,207.6 L374.5,208.2 L376,204.1 L377.5,197 L379,188.5 L380.5,180.3 L382,173.9 L383.5,168.1 L385,162 L386.5,156.2 L388,151.1 L389.5,147.1 L391,144.9 L392.5,144.8 L394,145.6 L395.5,147 L397,148.9 L398.5,151 L400,153.2 L401.5,155.3 L403,157.2 L404.5,159 L406,160.9 L407.5,162.8 L409,164.7 L410.5,166.5 L412,168.3 L413.5,170 L415,171.6 L416.5,173.3 L418,175.1 L419.5,176.7 L421,177.8 L422.5,178.4 L424,178 L425.5,176.5 L427,174.3 L428.5,172 L430,170.2 L431.5,169.3 L433,169.6 L434.5,170.8 L436,172.5 L437.5,174.5 L439,176.6 L440.5,178.4 L442,179.8 L443.5,180.3 L445,180 L446.5,178.7 L448,176.8 L449.5,174.5 L451,172 L452.5,169.7 L454,167.7 L455.5,166.3 L457,165.7 L458.5,165.9 L460,166.3 L461.5,167 L463,167.7 L464.5,168.3 L466,168.8 L467.5,169.1 L469,169 L470.5,168.5 L472,167.9 L473.5,167.1 L475,166.4 L476.5,165.8 L478,165.5 L479.5,165.6 L481,166.1 L482.5,167.1 L484,168.4 L485.5,169.8 L487,171.3 L488.5,172.9 L490,175.1 L491.5,177.2 L493,178.3 L494.5,177.3 L496,174.5 L497.5,170.7 L499,167 L500.5,164.2 L502,163.2 L503.5,165 L505,168.7 L506.5,173.4 L508,179.2 L509.5,187.2 L511,195.9 L512.5,203.5 L514,208.1 L515.5,207.9 L517,202.1 L518.5,193.2 L520,183.7 L521.5,175.8 L523,170.5 L524.5,165.3 L526,160.9 L527.5,158.1 L529,157.7 L530.5,159.7 L532,163.3 L533.5,167.5 L535,171.4 L536.5,174.6 L538,178.1 L539.5,181.2 L541,182.9 L542.5,182.4 L544,180.5 L545.5,177.6 L547,174.2 L548.5,170.9 L550,168.2 L551.5,166.6 L553,166.5 L554.5,167.6 L556,169.4 L557.5,171.4 L559,173.4 L560.5,174.7 L562,175.2 L563.5,174.5 L565,173.1 L566.5,171.2 L568,169.2 L569.5,167.2 L571,165.7 L572.5,164.9 L574,165 L575.5,165.9 L577,167.3 L578.5,169.1 L580,171.1 L581.5,173 L583,174.7 L584.5,175.9 L586,176.6 L587.5,176.4 L589,175.4 L590.5,174 L592,172.6 L593.5,171.6 L595,171.4 L596.5,171.7 L598,172.3 L599.5,172.8 L601,172.9 L602.5,171.8 L604,169.2 L605.5,166 L607,163.1 L608.5,161.2 L610,161.3 L611.5,163 L613,165.9 L614.5,169.5 L616,173.2 L617.5,176.4 L619,178.7 L620.5,179.5 L622,178.6 L623.5,176.7 L625,174.4 L626.5,172.5 L628,171.6 L629.5,171.9 L631,172.6 L632.5,173.5 L634,174 L635.5,173.7 L637,172.2 L638.5,169.7 L640,166.6 L640.5,165.5 L640.5,189.9 L640,191 L638.5,194.1 L637,196.6 L635.5,198.1 L634,198.3 L632.5,197.8 L631,196.9 L629.5,196.1 L628,195.8 L626.5,196.7 L625,198.6 L623.5,200.9 L622,202.8 L620.5,203.7 L619,202.9 L617.5,200.6 L616,197.3 L614.5,193.6 L613,190 L611.5,187.1 L610,185.3 L608.5,185.2 L607,187.1 L605.5,190 L604,193.1 L602.5,195.7 L601,196.9 L599.5,196.7 L598,196.1 L596.5,195.6 L595,195.2 L593.5,195.4 L592,196.4 L590.5,197.8 L589,199.2 L587.5,200.1 L586,200.3 L584.5,199.6 L583,198.4 L581.5,196.6 L580,194.7 L578.5,192.7 L577,190.9 L575.5,189.5 L574,188.6 L572.5,188.4 L571,189.2 L569.5,190.7 L568,192.7 L566.5,194.7 L565,196.6 L563.5,198 L562,198.6 L560.5,198.1 L559,196.7 L557.5,194.6 L556,192.4 L554.5,190.5 L553,189.2 L551.5,189.2 L550,190.6 L548.5,193.2 L547,196.3 L545.5,199.5 L544,202.3 L542.5,204.1 L541,204.4 L539.5,202.6 L538,199.3 L536.5,195.6 L535,192.3 L533.5,188.3 L532,183.9 L530.5,180.2 L529,177.7 L527.5,177.5 L526,179.7 L524.5,183.5 L523,188.1 L521.5,192.8 L520,200.1 L518.5,209 L517,217.3 L515.5,222.5 L514,222.9 L512.5,218.9 L511,211.9 L509.5,203.8 L508,196.4 L506.5,191.2 L505,187.1 L503.5,183.5 L502,181.8 L500.5,182.9 L499,185.8 L497.5,189.6 L496,193.4 L494.5,196.2 L493,197.3 L491.5,196.4 L490,194.4 L488.5,192.2 L487,190.6 L485.5,189.3 L484,187.9 L482.5,186.8 L481,185.8 L479.5,185.4 L478,185.4 L476.5,185.8 L475,186.5 L473.5,187.3 L472,188.1 L470.5,188.8 L469,189.3 L467.5,189.5 L466,189.4 L464.5,188.9 L463,188.4 L461.5,187.7 L460,187.2 L458.5,186.8 L457,186.7 L455.5,187.4 L454,188.9 L452.5,191 L451,193.4 L449.5,195.8 L448,198.1 L446.5,200 L445,201.3 L443.5,201.6 L442,201 L440.5,199.7 L439,197.8 L437.5,195.7 L436,193.7 L434.5,191.9 L433,190.7 L431.5,190.4 L430,191.2 L428.5,193.1 L427,195.3 L425.5,197.5 L424,199 L422.5,199.3 L421,198.7 L419.5,197.5 L418,196 L416.5,194.2 L415,192.4 L413.5,190.8 L412,189.1 L410.5,187.3 L409,185.4 L407.5,183.5 L406,181.5 L404.5,179.6 L403,177.8 L401.5,175.9 L400,173.8 L398.5,171.5 L397,169.4 L395.5,167.5 L394,166.1 L392.5,165.2 L391,165.4 L389.5,167.2 L388,170.5 L386.5,175 L385,180.1 L383.5,185.5 L382,190.6 L380.5,196.3 L379,203.8 L377.5,211.5 L376,218 L374.5,221.7 L373,221.4 L371.5,217.4 L370,211 L368.5,203.8 L367,196.9 L365.5,192 L364,190.1 L362.5,189 L361,188.5 L359.5,189.6 Z" fill="#dcdcdc"/>
<path d="M359.5,175.4 L361,174.7 L362.5,175.5 L364,176.8 L365.5,179 L367,184.2 L368.5,191.3 L370,198.9 L371.5,205.5 L373,209.8 L374.5,210.4 L376,206.3 L377.5,199.2 L379,190.7 L380.5,182.5 L382,176.1 L383.5,170.3 L385,164.2 L386.5,158.4 L388,153.3 L389.5,149.3 L391,147.1 L392.5,147 L394,147.8 L395.5,149.2 L397,151.1 L398.5,153.2 L400,155.4 L401.5,157.5 L403,159.4 L404.5,161.2 L406,163.1 L407.5,165 L409,166.9 L410.5,168.7 L412,170.5 L413.5,172.2 L415,173.8 L416.5,175.5 L418,177.3 L419.5,178.9 L421,180 L422.5,180.6 L424,180.2 L425.5,178.7 L427,176.5 L428.5,174.2 L430,172.4 L431.5,171.5 L433,171.8 L434.5,173 L436,174.7 L437.5,176.7 L439,178.8 L440.5,180.6 L442,182 L443.5,182.5 L445,182.2 L446.5,180.9 L448,179 L449.5,176.7 L451,174.2 L452.5,171.9 L454,169.9 L455.5,168.5 L457,167.9 L458.5,168.1 L460,168.5 L461.5,169.2 L463,169.9 L464.5,170.5 L466,171 L467.5,171.3 L469,171.2 L470.5,170.7 L472,170.1 L473.5,169.3 L475,168.6 L476.5,168 L478,167.7 L479.5,167.8 L481,168.3 L482.5,169.3 L484,170.6 L485.5,172 L487,173.5 L488.5,175.1 L490,177.3 L491.5,179.4 L493,180.5 L494.5,179.5 L496,176.7 L497.5,172.9 L499,169.2 L500.5,166.4 L502,165.4 L503.5,167.2 L505,170.9 L506.5,175.6 L508,181.4 L509.5,189.4 L511,198.1 L512.5,205.7 L514,210.3 L515.5,210.1 L517,204.3 L518.5,195.4 L520,185.9 L521.5,178 L523,172.7 L524.5,167.5 L526,163.1 L527.5,160.3 L529,159.9 L530.5,161.9 L532,165.5 L533.5,169.7 L535,173.6 L536.5,176.8 L538,180.3 L539.5,183.4 L541,185.1 L542.5,184.6 L544,182.7 L545.5,179.8 L547,176.4 L548.5,173.1 L550,170.4 L551.5,168.8 L553,168.7 L554.5,169.8 L556,171.6 L557.5,173.6 L559,175.6 L560.5,176.9 L562,177.4 L563.5,176.7 L565,175.3 L566.5,173.4 L568,171.4 L569.5,169.4 L571,167.9 L572.5,167.1 L574,167.2 L575.5,168.1 L577,169.5 L578.5,171.3 L580,173.3 L581.5,175.2 L583,176.9 L584.5,178.1 L586,178.8 L587.5,178.6 L589,177.6 L590.5,176.2 L592,174.8 L593.5,173.8 L595,173.6 L596.5,173.9 L598,174.5 L599.5,175 L601,175.1 L602.5,174 L604,171.4 L605.5,168.2 L607,165.3 L608.5,163.4 L610,163.5 L611.5,165.2 L613,168.1 L614.5,171.7 L616,175.4 L617.5,178.6 L619,180.9 L620.5,181.7 L622,180.8 L623.5,178.9 L625,176.6 L626.5,174.7 L628,173.8 L629.5,174.1 L631,174.8 L632.5,175.7 L634,176.2 L635.5,175.9 L637,174.4 L638.5,171.9 L640,168.8 L640.5,167.7 L640.5,187.7 L640,188.8 L638.5,191.9 L637,194.4 L635.5,195.9 L634,196.1 L632.5,195.6 L631,194.7 L629.5,193.9 L628,193.6 L626.5,194.5 L625,196.4 L623.5,198.7 L622,200.6 L620.5,201.5 L619,200.7 L617.5,198.4 L616,195.1 L614.5,191.4 L613,187.8 L611.5,184.9 L610,183.1 L608.5,183 L607,184.9 L605.5,187.8 L604,190.9 L602.5,193.5 L601,194.7 L599.5,194.5 L598,193.9 L596.5,193.4 L595,193 L593.5,193.2 L592,194.2 L590.5,195.6 L589,197 L587.5,197.9 L586,198.1 L584.5,197.4 L583,196.2 L581.5,194.4 L580,192.5 L578.5,190.5 L577,188.7 L575.5,187.3 L574,186.4 L572.5,186.2 L571,187 L569.5,188.5 L568,190.5 L566.5,192.5 L565,194.4 L563.5,195.8 L562,196.4 L560.5,195.9 L559,194.5 L557.5,192.4 L556,190.2 L554.5,188.3 L553,187 L551.5,187 L550,188.4 L548.5,191 L547,194.1 L545.5,197.3 L544,200.1 L542.5,201.9 L541,202.2 L539.5,200.4 L538,197.1 L536.5,193.4 L535,190.1 L533.5,186.1 L532,181.7 L530.5,178 L529,175.5 L527.5,175.3 L526,177.5 L524.5,181.3 L523,185.9 L521.5,190.6 L520,197.9 L518.5,206.8 L517,215.1 L515.5,220.3 L514,220.7 L512.5,216.7 L511,209.7 L509.5,201.6 L508,194.2 L506.5,189 L505,184.9 L503.5,181.3 L502,179.6 L500.5,180.7 L499,183.6 L497.5,187.4 L496,191.2 L494.5,194 L493,195.1 L491.5,194.2 L490,192.2 L488.5,190 L487,188.4 L485.5,187.1 L484,185.7 L482.5,184.6 L481,183.6 L479.5,183.2 L478,183.2 L476.5,183.6 L475,184.3 L473.5,185.1 L472,185.9 L470.5,186.6 L469,187.1 L467.5,187.3 L466,187.2 L464.5,186.7 L463,186.2 L461.5,185.5 L460,185 L458.5,184.6 L457,184.5 L455.5,185.2 L454,186.7 L452.5,188.8 L451,191.2 L449.5,193.6 L448,195.9 L446.5,197.8 L445,199.1 L443.5,199.4 L442,198.8 L440.5,197.5 L439,195.6 L437.5,193.5 L436,191.5 L434.5,189.7 L433,188.5 L431.5,188.2 L430,189 L428.5,190.9 L427,193.1 L425.5,195.3 L424,196.8 L422.5,197.1 L421,196.5 L419.5,195.3 L418,193.8 L416.5,192 L415,190.2 L413.5,188.6 L412,186.9 L410.5,185.1 L409,183.2 L407.5,181.3 L406,179.3 L404.5,177.4 L403,175.6 L401.5,173.7 L400,171.6 L398.5,169.3 L397,167.2 L395.5,165.3 L394,163.9 L392.5,163 L391,163.2 L389.5,165 L388,168.3 L386.5,172.8 L385,177.9 L383.5,183.3 L382,188.4 L380.5,194.1 L379,201.6 L377.5,209.3 L376,215.8 L374.5,219.5 L373,219.2 L371.5,215.2 L370,208.8 L368.5,201.6 L367,194.7 L365.5,189.8 L364,187.9 L362.5,186.8 L361,186.3 L359.5,187.4 Z" fill="#bcbcbc"/>
<path d="M359.5,181.4 L361,180.5 L362.5,181.2 L364,182.3 L365.5,182.9 L367,182.9 L368.5,182.9 L370,182.9 L371.5,182.9 L373,182.9 L374.5,182.9 L376,182.9 L377.5,182.9 L379,182.9 L380.5,182.9 L382,182.2 L383.5,176.8 L385,171.1 L386.5,165.6 L388,160.8 L389.5,157.2 L391,155.1 L392.5,155 L394,155.8 L395.5,157.2 L397,159.1 L398.5,161.2 L400,163.5 L401.5,165.6 L403,167.5 L404.5,169.3 L406,171.2 L407.5,173.1 L409,175 L410.5,176.9 L412,178.7 L413.5,180.4 L415,182 L416.5,182.9 L418,182.9 L419.5,182.9 L421,182.9 L422.5,182.9 L424,182.9 L425.5,182.9 L427,182.9 L428.5,182.5 L430,180.7 L431.5,179.8 L433,180.2 L434.5,181.3 L436,182.9 L437.5,182.9 L439,182.9 L440.5,182.9 L442,182.9 L443.5,182.9 L445,182.9 L446.5,182.9 L448,182.9 L449.5,182.9 L451,182.7 L452.5,180.3 L454,178.3 L455.5,176.8 L457,176.2 L458.5,176.3 L460,176.8 L461.5,177.4 L463,178 L464.5,178.6 L466,179.1 L467.5,179.3 L469,179.1 L470.5,178.7 L472,178 L473.5,177.2 L475,176.4 L476.5,175.8 L478,175.5 L479.5,175.5 L481,176 L482.5,176.9 L484,178.2 L485.5,179.6 L487,181 L488.5,182.5 L490,182.9 L491.5,182.9 L493,182.9 L494.5,182.9 L496,182.9 L497.5,180.1 L499,176.4 L500.5,173.5 L502,172.5 L503.5,174.2 L505,177.9 L506.5,182.3 L508,182.9 L509.5,182.9 L511,182.9 L512.5,182.9 L514,182.9 L515.5,182.9 L517,182.9 L518.5,182.9 L520,182.9 L521.5,182.9 L523,179.3 L524.5,174.4 L526,170.3 L527.5,167.8 L529,167.7 L530.5,169.9 L532,173.6 L533.5,177.9 L535,181.8 L536.5,182.9 L538,182.9 L539.5,182.9 L541,182.9 L542.5,182.9 L544,182.9 L545.5,182.9 L547,182.9 L548.5,182 L550,179.4 L551.5,177.9 L553,177.9 L554.5,179 L556,180.9 L557.5,182.9 L559,182.9 L560.5,182.9 L562,182.9 L563.5,182.9 L565,182.9 L566.5,182.9 L568,180.9 L569.5,179 L571,177.5 L572.5,176.7 L574,176.8 L575.5,177.7 L577,179.1 L578.5,180.9 L580,182.9 L581.5,182.9 L583,182.9 L584.5,182.9 L586,182.9 L587.5,182.9 L589,182.9 L590.5,182.9 L592,182.9 L593.5,182.9 L595,182.9 L596.5,182.9 L598,182.9 L599.5,182.9 L601,182.9 L602.5,182.9 L604,181.2 L605.5,178 L607,175.1 L608.5,173.2 L610,173.3 L611.5,175 L613,178 L614.5,181.6 L616,182.9 L617.5,182.9 L619,182.9 L620.5,182.9 L622,182.9 L623.5,182.9 L625,182.9 L626.5,182.9 L628,182.9 L629.5,182.9 L631,182.9 L632.5,182.9 L634,182.9 L635.5,182.9 L637,182.9 L638.5,181.9 L640,178.8 L640.5,177.7 L640.5,182.9 L359.5,182.9 Z" fill="#808080"/>
<path d="M359.5,182.9 L361,182.9 L362.5,182.9 L364,182.9 L365.5,184.4 L367,189.5 L368.5,196.4 L370,203.9 L371.5,210.4 L373,214.5 L374.5,214.9 L376,211 L377.5,204.3 L379,196.2 L380.5,188.3 L382,182.9 L383.5,182.9 L385,182.9 L386.5,182.9 L388,182.9 L389.5,182.9 L391,182.9 L392.5,182.9 L394,182.9 L395.5,182.9 L397,182.9 L398.5,182.9 L400,182.9 L401.5,182.9 L403,182.9 L404.5,182.9 L406,182.9 L407.5,182.9 L409,182.9 L410.5,182.9 L412,182.9 L413.5,182.9 L415,182.9 L416.5,183.7 L418,185.5 L419.5,187.1 L421,188.3 L422.5,188.9 L424,188.5 L425.5,187 L427,184.8 L428.5,182.9 L430,182.9 L431.5,182.9 L433,182.9 L434.5,182.9 L436,183.1 L437.5,185.1 L439,187.2 L440.5,189 L442,190.4 L443.5,191 L445,190.6 L446.5,189.4 L448,187.5 L449.5,185.2 L451,182.9 L452.5,182.9 L454,182.9 L455.5,182.9 L457,182.9 L458.5,182.9 L460,182.9 L461.5,182.9 L463,182.9 L464.5,182.9 L466,182.9 L467.5,182.9 L469,182.9 L470.5,182.9 L472,182.9 L473.5,182.9 L475,182.9 L476.5,182.9 L478,182.9 L479.5,182.9 L481,182.9 L482.5,182.9 L484,182.9 L485.5,182.9 L487,182.9 L488.5,182.9 L490,184.8 L491.5,186.8 L493,187.8 L494.5,186.8 L496,183.9 L497.5,182.9 L499,182.9 L500.5,182.9 L502,182.9 L503.5,182.9 L505,182.9 L506.5,182.9 L508,187.8 L509.5,195.5 L511,203.9 L512.5,211.2 L514,215.5 L515.5,215.2 L517,209.7 L518.5,201.1 L520,191.9 L521.5,184.3 L523,182.9 L524.5,182.9 L526,182.9 L527.5,182.9 L529,182.9 L530.5,182.9 L532,182.9 L533.5,182.9 L535,182.9 L536.5,185.1 L538,188.7 L539.5,191.9 L541,193.6 L542.5,193.2 L544,191.4 L545.5,188.5 L547,185.3 L548.5,182.9 L550,182.9 L551.5,182.9 L553,182.9 L554.5,182.9 L556,182.9 L557.5,183 L559,185 L560.5,186.4 L562,186.9 L563.5,186.3 L565,184.9 L566.5,183 L568,182.9 L569.5,182.9 L571,182.9 L572.5,182.9 L574,182.9 L575.5,182.9 L577,182.9 L578.5,182.9 L580,182.9 L581.5,184.8 L583,186.5 L584.5,187.8 L586,188.5 L587.5,188.3 L589,187.3 L590.5,185.9 L592,184.5 L593.5,183.5 L595,183.3 L596.5,183.7 L598,184.2 L599.5,184.7 L601,184.9 L602.5,183.7 L604,182.9 L605.5,182.9 L607,182.9 L608.5,182.9 L610,182.9 L611.5,182.9 L613,182.9 L614.5,182.9 L616,185.2 L617.5,188.5 L619,190.8 L620.5,191.6 L622,190.7 L623.5,188.8 L625,186.5 L626.5,184.6 L628,183.7 L629.5,184 L631,184.8 L632.5,185.6 L634,186.2 L635.5,185.9 L637,184.4 L638.5,182.9 L640,182.9 L640.5,182.9 L640.5,182.9 L359.5,182.9 Z" fill="#e8573e"/>
<path d="M359.5,175.4 L361,174.7 L362.5,175.5 L364,176.8 L365.5,179 L367,184.2 L368.5,191.3 L370,198.9 L371.5,205.5 L373,209.8 L374.5,210.4 L376,206.3 L377.5,199.2 L379,190.7 L380.5,182.5 L382,176.1 L383.5,170.3 L385,164.2 L386.5,158.4 L388,153.3 L389.5,149.3 L391,147.1 L392.5,147 L394,147.8 L395.5,149.2 L397,151.1 L398.5,153.2 L400,155.4 L401.5,157.5 L403,159.4 L404.5,161.2 L406,163.1 L407.5,165 L409,166.9 L410.5,168.7 L412,170.5 L413.5,172.2 L415,173.8 L416.5,175.5 L418,177.3 L419.5,178.9 L421,180 L422.5,180.6 L424,180.2 L425.5,178.7 L427,176.5 L428.5,174.2 L430,172.4 L431.5,171.5 L433,171.8 L434.5,173 L436,174.7 L437.5,176.7 L439,178.8 L440.5,180.6 L442,182 L443.5,182.5 L445,182.2 L446.5,180.9 L448,179 L449.5,176.7 L451,174.2 L452.5,171.9 L454,169.9 L455.5,168.5 L457,167.9 L458.5,168.1 L460,168.5 L461.5,169.2 L463,169.9 L464.5,170.5 L466,171 L467.5,171.3 L469,171.2 L470.5,170.7 L472,170.1 L473.5,169.3 L475,168.6 L476.5,168 L478,167.7 L479.5,167.8 L481,168.3 L482.5,169.3 L484,170.6 L485.5,172 L487,173.5 L488.5,175.1 L490,177.3 L491.5,179.4 L493,180.5 L494.5,179.5 L496,176.7 L497.5,172.9 L499,169.2 L500.5,166.4 L502,165.4 L503.5,167.2 L505,170.9 L506.5,175.6 L508,181.4 L509.5,189.4 L511,198.1 L512.5,205.7 L514,210.3 L515.5,210.1 L517,204.3 L518.5,195.4 L520,185.9 L521.5,178 L523,172.7 L524.5,167.5 L526,163.1 L527.5,160.3 L529,159.9 L530.5,161.9 L532,165.5 L533.5,169.7 L535,173.6 L536.5,176.8 L538,180.3 L539.5,183.4 L541,185.1 L542.5,184.6 L544,182.7 L545.5,179.8 L547,176.4 L548.5,173.1 L550,170.4 L551.5,168.8 L553,168.7 L554.5,169.8 L556,171.6 L557.5,173.6 L559,175.6 L560.5,176.9 L562,177.4 L563.5,176.7 L565,175.3 L566.5,173.4 L568,171.4 L569.5,169.4 L571,167.9 L572.5,167.1 L574,167.2 L575.5,168.1 L577,169.5 L578.5,171.3 L580,173.3 L581.5,175.2 L583,176.9 L584.5,178.1 L586,178.8 L587.5,178.6 L589,177.6 L590.5,176.2 L592,174.8 L593.5,173.8 L595,173.6 L596.5,173.9 L598,174.5 L599.5,175 L601,175.1 L602.5,174 L604,171.4 L605.5,168.2 L607,165.3 L608.5,163.4 L610,163.5 L611.5,165.2 L613,168.1 L614.5,171.7 L616,175.4 L617.5,178.6 L619,180.9 L620.5,181.7 L622,180.8 L623.5,178.9 L625,176.6 L626.5,174.7 L628,173.8 L629.5,174.1 L631,174.8 L632.5,175.7 L634,176.2 L635.5,175.9 L637,174.4 L638.5,171.9 L640,168.8 L640.5,167.7" fill="none" stroke="#1a1a1a" stroke-width="1.15" stroke-dasharray="4,2.4"/>
<path d="M359.5,187.4 L361,186.3 L362.5,186.8 L364,187.9 L365.5,189.8 L367,194.7 L368.5,201.6 L370,208.8 L371.5,215.2 L373,219.2 L374.5,219.5 L376,215.8 L377.5,209.3 L379,201.6 L380.5,194.1 L382,188.4 L383.5,183.3 L385,177.9 L386.5,172.8 L388,168.3 L389.5,165 L391,163.2 L392.5,163 L394,163.9 L395.5,165.3 L397,167.2 L398.5,169.3 L400,171.6 L401.5,173.7 L403,175.6 L404.5,177.4 L406,179.3 L407.5,181.3 L409,183.2 L410.5,185.1 L412,186.9 L413.5,188.6 L415,190.2 L416.5,192 L418,193.8 L419.5,195.3 L421,196.5 L422.5,197.1 L424,196.8 L425.5,195.3 L427,193.1 L428.5,190.9 L430,189 L431.5,188.2 L433,188.5 L434.5,189.7 L436,191.5 L437.5,193.5 L439,195.6 L440.5,197.5 L442,198.8 L443.5,199.4 L445,199.1 L446.5,197.8 L448,195.9 L449.5,193.6 L451,191.2 L452.5,188.8 L454,186.7 L455.5,185.2 L457,184.5 L458.5,184.6 L460,185 L461.5,185.5 L463,186.2 L464.5,186.7 L466,187.2 L467.5,187.3 L469,187.1 L470.5,186.6 L472,185.9 L473.5,185.1 L475,184.3 L476.5,183.6 L478,183.2 L479.5,183.2 L481,183.6 L482.5,184.6 L484,185.7 L485.5,187.1 L487,188.4 L488.5,190 L490,192.2 L491.5,194.2 L493,195.1 L494.5,194 L496,191.2 L497.5,187.4 L499,183.6 L500.5,180.7 L502,179.6 L503.5,181.3 L505,184.9 L506.5,189 L508,194.2 L509.5,201.6 L511,209.7 L512.5,216.7 L514,220.7 L515.5,220.3 L517,215.1 L518.5,206.8 L520,197.9 L521.5,190.6 L523,185.9 L524.5,181.3 L526,177.5 L527.5,175.3 L529,175.5 L530.5,178 L532,181.7 L533.5,186.1 L535,190.1 L536.5,193.4 L538,197.1 L539.5,200.4 L541,202.2 L542.5,201.9 L544,200.1 L545.5,197.3 L547,194.1 L548.5,191 L550,188.4 L551.5,187 L553,187 L554.5,188.3 L556,190.2 L557.5,192.4 L559,194.5 L560.5,195.9 L562,196.4 L563.5,195.8 L565,194.4 L566.5,192.5 L568,190.5 L569.5,188.5 L571,187 L572.5,186.2 L574,186.4 L575.5,187.3 L577,188.7 L578.5,190.5 L580,192.5 L581.5,194.4 L583,196.2 L584.5,197.4 L586,198.1 L587.5,197.9 L589,197 L590.5,195.6 L592,194.2 L593.5,193.2 L595,193 L596.5,193.4 L598,193.9 L599.5,194.5 L601,194.7 L602.5,193.5 L604,190.9 L605.5,187.8 L607,184.9 L608.5,183 L610,183.1 L611.5,184.9 L613,187.8 L614.5,191.4 L616,195.1 L617.5,198.4 L619,200.7 L620.5,201.5 L622,200.6 L623.5,198.7 L625,196.4 L626.5,194.5 L628,193.6 L629.5,193.9 L631,194.7 L632.5,195.6 L634,196.1 L635.5,195.9 L637,194.4 L638.5,191.9 L640,188.8 L640.5,187.7" fill="none" stroke="#1a1a1a" stroke-width="1.15" stroke-dasharray="4,2.4"/>
<path d="M359.5,181.4 L361,180.5 L362.5,181.2 L364,182.3 L365.5,184.4 L367,189.5 L368.5,196.4 L370,203.9 L371.5,210.4 L373,214.5 L374.5,214.9 L376,211 L377.5,204.3 L379,196.2 L380.5,188.3 L382,182.2 L383.5,176.8 L385,171.1 L386.5,165.6 L388,160.8 L389.5,157.2 L391,155.1 L392.5,155 L394,155.8 L395.5,157.2 L397,159.1 L398.5,161.2 L400,163.5 L401.5,165.6 L403,167.5 L404.5,169.3 L406,171.2 L407.5,173.1 L409,175 L410.5,176.9 L412,178.7 L413.5,180.4 L415,182 L416.5,183.7 L418,185.5 L419.5,187.1 L421,188.3 L422.5,188.9 L424,188.5 L425.5,187 L427,184.8 L428.5,182.5 L430,180.7 L431.5,179.8 L433,180.2 L434.5,181.3 L436,183.1 L437.5,185.1 L439,187.2 L440.5,189 L442,190.4 L443.5,191 L445,190.6 L446.5,189.4 L448,187.5 L449.5,185.2 L451,182.7 L452.5,180.3 L454,178.3 L455.5,176.8 L457,176.2 L458.5,176.3 L460,176.8 L461.5,177.4 L463,178 L464.5,178.6 L466,179.1 L467.5,179.3 L469,179.1 L470.5,178.7 L472,178 L473.5,177.2 L475,176.4 L476.5,175.8 L478,175.5 L479.5,175.5 L481,176 L482.5,176.9 L484,178.2 L485.5,179.6 L487,181 L488.5,182.5 L490,184.8 L491.5,186.8 L493,187.8 L494.5,186.8 L496,183.9 L497.5,180.1 L499,176.4 L500.5,173.5 L502,172.5 L503.5,174.2 L505,177.9 L506.5,182.3 L508,187.8 L509.5,195.5 L511,203.9 L512.5,211.2 L514,215.5 L515.5,215.2 L517,209.7 L518.5,201.1 L520,191.9 L521.5,184.3 L523,179.3 L524.5,174.4 L526,170.3 L527.5,167.8 L529,167.7 L530.5,169.9 L532,173.6 L533.5,177.9 L535,181.8 L536.5,185.1 L538,188.7 L539.5,191.9 L541,193.6 L542.5,193.2 L544,191.4 L545.5,188.5 L547,185.3 L548.5,182 L550,179.4 L551.5,177.9 L553,177.9 L554.5,179 L556,180.9 L557.5,183 L559,185 L560.5,186.4 L562,186.9 L563.5,186.3 L565,184.9 L566.5,183 L568,180.9 L569.5,179 L571,177.5 L572.5,176.7 L574,176.8 L575.5,177.7 L577,179.1 L578.5,180.9 L580,182.9 L581.5,184.8 L583,186.5 L584.5,187.8 L586,188.5 L587.5,188.3 L589,187.3 L590.5,185.9 L592,184.5 L593.5,183.5 L595,183.3 L596.5,183.7 L598,184.2 L599.5,184.7 L601,184.9 L602.5,183.7 L604,181.2 L605.5,178 L607,175.1 L608.5,173.2 L610,173.3 L611.5,175 L613,178 L614.5,181.6 L616,185.2 L617.5,188.5 L619,190.8 L620.5,191.6 L622,190.7 L623.5,188.8 L625,186.5 L626.5,184.6 L628,183.7 L629.5,184 L631,184.8 L632.5,185.6 L634,186.2 L635.5,185.9 L637,184.4 L638.5,181.9 L640,178.8 L640.5,177.7" fill="none" stroke="#0a1cff" stroke-width="1.7"/>
<path d="M359.5,181.4 L361,180.5 L362.5,181.2 L364,182.3 L365.5,184.4 L367,189.5 L368.5,196.4 L370,203.9 L371.5,210.4 L373,214.5 L374.5,214.9 L376,211 L377.5,204.3 L379,196.2 L380.5,188.3 L382,182.2 L383.5,176.8 L385,171.1 L386.5,165.6 L388,160.8 L389.5,157.2 L391,155.1 L392.5,155 L394,155.8 L395.5,157.2 L397,159.1 L398.5,161.2 L400,163.5 L401.5,165.6 L403,167.5 L404.5,169.3 L406,171.2 L407.5,173.1 L409,175 L410.5,176.9 L412,178.7 L413.5,180.4 L415,182 L416.5,183.7 L418,185.5 L419.5,187.1 L421,188.3 L422.5,188.9 L424,188.5 L425.5,187 L427,184.8 L428.5,182.5 L430,180.7 L431.5,179.8 L433,180.2 L434.5,181.3 L436,183.1 L437.5,185.1 L439,187.2 L440.5,189 L442,190.4 L443.5,191 L445,190.6 L446.5,189.4 L448,187.5 L449.5,185.2 L451,182.7 L452.5,180.3 L454,178.3 L455.5,176.8 L457,176.2 L458.5,176.3 L460,176.8 L461.5,177.4 L463,178 L464.5,178.6 L466,179.1 L467.5,179.3 L469,179.1 L470.5,178.7 L472,178 L473.5,177.2 L475,176.4 L476.5,175.8 L478,175.5 L479.5,175.5 L481,176 L482.5,176.9 L484,178.2 L485.5,179.6 L487,181 L488.5,182.5 L490,184.8 L491.5,186.8 L493,187.8 L494.5,186.8 L496,183.9 L497.5,180.1 L499,176.4 L500.5,173.5 L502,172.5 L503.5,174.2 L505,177.9 L506.5,182.3 L508,187.8 L509.5,195.5 L511,203.9 L512.5,211.2 L514,215.5 L515.5,215.2 L517,209.7 L518.5,201.1 L520,191.9 L521.5,184.3 L523,179.3 L524.5,174.4 L526,170.3 L527.5,167.8 L529,167.7 L530.5,169.9 L532,173.6 L533.5,177.9 L535,181.8 L536.5,185.1 L538,188.7 L539.5,191.9 L541,193.6 L542.5,193.2 L544,191.4 L545.5,188.5 L547,185.3 L548.5,182 L550,179.4 L551.5,177.9 L553,177.9 L554.5,179 L556,180.9 L557.5,183 L559,185 L560.5,186.4 L562,186.9 L563.5,186.3 L565,184.9 L566.5,183 L568,180.9 L569.5,179 L571,177.5 L572.5,176.7 L574,176.8 L575.5,177.7 L577,179.1 L578.5,180.9 L580,182.9 L581.5,184.8 L583,186.5 L584.5,187.8 L586,188.5 L587.5,188.3 L589,187.3 L590.5,185.9 L592,184.5 L593.5,183.5 L595,183.3 L596.5,183.7 L598,184.2 L599.5,184.7 L601,184.9 L602.5,183.7 L604,181.2 L605.5,178 L607,175.1 L608.5,173.2 L610,173.3 L611.5,175 L613,178 L614.5,181.6 L616,185.2 L617.5,188.5 L619,190.8 L620.5,191.6 L622,190.7 L623.5,188.8 L625,186.5 L626.5,184.6 L628,183.7 L629.5,184 L631,184.8 L632.5,185.6 L634,186.2 L635.5,185.9 L637,184.4 L638.5,181.9 L640,178.8 L640.5,177.7" fill="none" stroke="#111" stroke-width="1.5" stroke-dasharray="2.6,3"/>
<path d="M359.5,109.4 L361,101.6 L362.5,99.4 L364,102.8 L365.5,108.9 L367,115.8 L368.5,124.9 L370,137.2 L371.5,149.6 L373,159.2 L374.5,163 L376,158.6 L377.5,147.9 L379,134.1 L380.5,121.2 L382,112.1 L383.5,103.7 L385,96 L386.5,90.6 L388,88.8 L389.5,90.3 L391,93.8 L392.5,98.4 L394,103.4 L395.5,108.2 L397,111.9 L398.5,114.6 L400,117.3 L401.5,119.5 L403,120.3 L404.5,120.1 L406,119.4 L407.5,118.5 L409,117.4 L410.5,116.1 L412,114.8 L413.5,113.5 L415,112.2 L416.5,111.2 L418,110.3 L419.5,109.8 L421,109.3 L422.5,109 L424,108.8 L425.5,109.3 L427,110.5 L428.5,112.2 L430,113.9 L431.5,115.2 L433,115.9 L434.5,115.8 L436,115.3 L437.5,114.6 L439,113.8 L440.5,113.1 L442,112.6 L443.5,112.2 L445,111.9 L446.5,111.6 L448,111.3 L449.5,110.9 L451,110.3 L452.5,109.2 L454,107.7 L455.5,106.6 L457,106.4 L458.5,106.8 L460,107.4 L461.5,108.2 L463,109.1 L464.5,110 L466,110.8 L467.5,111.3 L469,111.6 L470.5,111.5 L472,111.1 L473.5,110.5 L475,109.8 L476.5,109.1 L478,108.5 L479.5,107.9 L481,107.6 L482.5,107.5 L484,107.9 L485.5,108.5 L487,109.2 L488.5,110 L490,110.6 L491.5,111 L493,111 L494.5,110 L496,108.3 L497.5,106.1 L499,103.7 L500.5,101.4 L502,99.6 L503.5,98.4 L505,98 L506.5,99.4 L508,102.9 L509.5,107.6 L511,112.6 L512.5,118 L514,125.4 L515.5,133.1 L517,139.1 L518.5,141.8 L520,139.8 L521.5,134.2 L523,126.7 L524.5,119.3 L526,114 L527.5,111.5 L529,109.3 L530.5,107.9 L532,107.5 L533.5,107.7 L535,108.2 L536.5,108.9 L538,109.8 L539.5,110.7 L541,112.2 L542.5,114.7 L544,117.8 L545.5,121 L547,124.1 L548.5,126.6 L550,128.2 L551.5,128.5 L553,126.3 L554.5,122.4 L556,117.9 L557.5,113.9 L559,111.3 L560.5,109.4 L562,107.8 L563.5,107 L565,107.2 L566.5,108.2 L568,109.6 L569.5,111.3 L571,112.9 L572.5,114.1 L574,114.8 L575.5,114.9 L577,114.6 L578.5,114.3 L580,113.8 L581.5,113.3 L583,112.8 L584.5,112.5 L586,112.2 L587.5,112.1 L589,111.9 L590.5,111.8 L592,111.8 L593.5,111.7 L595,111.6 L596.5,111.6 L598,111.6 L599.5,111.6 L601,111.5 L602.5,111.5 L604,111.5 L605.5,111.5 L607,111.5 L608.5,111.5 L610,110.9 L611.5,108.6 L613,105.8 L614.5,103.8 L616,103.5 L617.5,103.9 L619,104.5 L620.5,105.2 L622,105.7 L623.5,105.9 L625,105.3 L626.5,104.2 L628,102.7 L629.5,101.4 L631,100.4 L632.5,100.2 L634,100.3 L635.5,100.7 L637,101.4 L638.5,102.4 L640,103.7 L640.5,104.2 L640.5,122.6 L640,122.1 L638.5,120.8 L637,119.8 L635.5,119.1 L634,118.7 L632.5,118.5 L631,118.7 L629.5,119.6 L628,121 L626.5,122.4 L625,123.6 L623.5,124.1 L622,123.9 L620.5,123.4 L619,122.7 L617.5,122 L616,121.6 L614.5,121.9 L613,123.9 L611.5,126.6 L610,128.9 L608.5,129.5 L607,129.5 L605.5,129.5 L604,129.5 L602.5,129.5 L601,129.5 L599.5,129.4 L598,129.4 L596.5,129.4 L595,129.5 L593.5,129.5 L592,129.6 L590.5,129.6 L589,129.7 L587.5,129.8 L586,129.9 L584.5,130.2 L583,130.5 L581.5,131 L580,131.5 L578.5,131.9 L577,132.2 L575.5,132.5 L574,132.4 L572.5,131.7 L571,130.4 L569.5,128.8 L568,127.1 L566.5,125.7 L565,124.7 L563.5,124.4 L562,125.2 L560.5,126.8 L559,128.6 L557.5,131.1 L556,135 L554.5,139.4 L553,143.1 L551.5,145.1 L550,144.8 L548.5,143 L547,140.4 L545.5,137.2 L544,133.8 L542.5,130.6 L541,128 L539.5,126.3 L538,125.3 L536.5,124.3 L535,123.5 L533.5,122.9 L532,122.5 L530.5,122.7 L529,124 L527.5,126.1 L526,128.5 L524.5,133.6 L523,140.5 L521.5,147.5 L520,152.7 L518.5,154.3 L517,151.1 L515.5,144.7 L514,137.1 L512.5,130.2 L511,125.4 L509.5,120.9 L508,116.7 L506.5,113.7 L505,112.8 L503.5,113.6 L502,115.3 L500.5,117.6 L499,120.1 L497.5,122.5 L496,124.7 L494.5,126.4 L493,127.4 L491.5,127.4 L490,127 L488.5,126.4 L487,125.6 L485.5,124.9 L484,124.3 L482.5,123.9 L481,124 L479.5,124.3 L478,124.9 L476.5,125.5 L475,126.2 L473.5,126.9 L472,127.5 L470.5,127.9 L469,128 L467.5,127.7 L466,127.2 L464.5,126.4 L463,125.5 L461.5,124.6 L460,123.8 L458.5,123.2 L457,122.8 L455.5,123 L454,124.1 L452.5,125.6 L451,126.7 L449.5,127.3 L448,127.7 L446.5,128 L445,128.3 L443.5,128.6 L442,129 L440.5,129.5 L439,130.2 L437.5,131 L436,131.7 L434.5,132.2 L433,132.3 L431.5,131.6 L430,130.3 L428.5,128.6 L427,126.9 L425.5,125.7 L424,125.2 L422.5,125.4 L421,125.7 L419.5,126.2 L418,126.7 L416.5,127.6 L415,128.6 L413.5,129.9 L412,131.2 L410.5,132.5 L409,133.8 L407.5,134.9 L406,135.8 L404.5,136.5 L403,136.7 L401.5,135.9 L400,133.7 L398.5,130.6 L397,127.5 L395.5,123.5 L394,118.3 L392.5,112.9 L391,107.9 L389.5,104.1 L388,102.2 L386.5,103.1 L385,107.8 L383.5,114.7 L382,122.3 L380.5,130.5 L379,142.7 L377.5,155.9 L376,166.6 L374.5,171 L373,167.2 L371.5,157.7 L370,145.5 L368.5,133.6 L367,124.8 L365.5,118.1 L364,112.2 L362.5,109.2 L361,111.6 L359.5,119.8 Z" fill="#dcdcdc"/>
<path d="M359.5,111.6 L361,103.8 L362.5,101.6 L364,105 L365.5,111.1 L367,118 L368.5,127.1 L370,139.4 L371.5,151.8 L373,161.4 L374.5,165.2 L376,160.8 L377.5,150.1 L379,136.3 L380.5,123.4 L382,114.3 L383.5,105.9 L385,98.2 L386.5,92.8 L388,91 L389.5,92.5 L391,96 L392.5,100.6 L394,105.6 L395.5,110.4 L397,114.1 L398.5,116.8 L400,119.5 L401.5,121.7 L403,122.5 L404.5,122.3 L406,121.6 L407.5,120.7 L409,119.6 L410.5,118.3 L412,117 L413.5,115.7 L415,114.4 L416.5,113.4 L418,112.5 L419.5,112 L421,111.5 L422.5,111.2 L424,111 L425.5,111.5 L427,112.7 L428.5,114.4 L430,116.1 L431.5,117.4 L433,118.1 L434.5,118 L436,117.5 L437.5,116.8 L439,116 L440.5,115.3 L442,114.8 L443.5,114.4 L445,114.1 L446.5,113.8 L448,113.5 L449.5,113.1 L451,112.5 L452.5,111.4 L454,109.9 L455.5,108.8 L457,108.6 L458.5,109 L460,109.6 L461.5,110.4 L463,111.3 L464.5,112.2 L466,113 L467.5,113.5 L469,113.8 L470.5,113.7 L472,113.3 L473.5,112.7 L475,112 L476.5,111.3 L478,110.7 L479.5,110.1 L481,109.8 L482.5,109.7 L484,110.1 L485.5,110.7 L487,111.4 L488.5,112.2 L490,112.8 L491.5,113.2 L493,113.2 L494.5,112.2 L496,110.5 L497.5,108.3 L499,105.9 L500.5,103.6 L502,101.8 L503.5,100.6 L505,100.2 L506.5,101.6 L508,105.1 L509.5,109.8 L511,114.8 L512.5,120.2 L514,127.6 L515.5,135.3 L517,141.3 L518.5,144 L520,142 L521.5,136.4 L523,128.9 L524.5,121.5 L526,116.2 L527.5,113.7 L529,111.5 L530.5,110.1 L532,109.7 L533.5,109.9 L535,110.4 L536.5,111.1 L538,112 L539.5,112.9 L541,114.4 L542.5,116.9 L544,120 L545.5,123.2 L547,126.3 L548.5,128.8 L550,130.4 L551.5,130.7 L553,128.5 L554.5,124.6 L556,120.1 L557.5,116.1 L559,113.5 L560.5,111.6 L562,110 L563.5,109.2 L565,109.4 L566.5,110.4 L568,111.8 L569.5,113.5 L571,115.1 L572.5,116.3 L574,117 L575.5,117.1 L577,116.8 L578.5,116.5 L580,116 L581.5,115.5 L583,115 L584.5,114.7 L586,114.4 L587.5,114.3 L589,114.1 L590.5,114 L592,114 L593.5,113.9 L595,113.8 L596.5,113.8 L598,113.8 L599.5,113.8 L601,113.7 L602.5,113.7 L604,113.7 L605.5,113.7 L607,113.7 L608.5,113.7 L610,113.1 L611.5,110.8 L613,108 L614.5,106 L616,105.7 L617.5,106.1 L619,106.7 L620.5,107.4 L622,107.9 L623.5,108.1 L625,107.5 L626.5,106.4 L628,104.9 L629.5,103.6 L631,102.6 L632.5,102.4 L634,102.5 L635.5,102.9 L637,103.6 L638.5,104.6 L640,105.9 L640.5,106.4 L640.5,120.4 L640,119.9 L638.5,118.6 L637,117.6 L635.5,116.9 L634,116.5 L632.5,116.3 L631,116.5 L629.5,117.4 L628,118.8 L626.5,120.2 L625,121.4 L623.5,121.9 L622,121.7 L620.5,121.2 L619,120.5 L617.5,119.8 L616,119.4 L614.5,119.7 L613,121.7 L611.5,124.4 L610,126.7 L608.5,127.3 L607,127.3 L605.5,127.3 L604,127.3 L602.5,127.3 L601,127.3 L599.5,127.2 L598,127.2 L596.5,127.2 L595,127.3 L593.5,127.3 L592,127.4 L590.5,127.4 L589,127.5 L587.5,127.6 L586,127.7 L584.5,128 L583,128.3 L581.5,128.8 L580,129.3 L578.5,129.7 L577,130 L575.5,130.3 L574,130.2 L572.5,129.5 L571,128.2 L569.5,126.6 L568,124.9 L566.5,123.5 L565,122.5 L563.5,122.2 L562,123 L560.5,124.6 L559,126.4 L557.5,128.9 L556,132.8 L554.5,137.2 L553,140.9 L551.5,142.9 L550,142.6 L548.5,140.8 L547,138.2 L545.5,135 L544,131.6 L542.5,128.4 L541,125.8 L539.5,124.1 L538,123.1 L536.5,122.1 L535,121.3 L533.5,120.7 L532,120.3 L530.5,120.5 L529,121.8 L527.5,123.9 L526,126.3 L524.5,131.4 L523,138.3 L521.5,145.3 L520,150.5 L518.5,152.1 L517,148.9 L515.5,142.5 L514,134.9 L512.5,128 L511,123.2 L509.5,118.7 L508,114.5 L506.5,111.5 L505,110.6 L503.5,111.4 L502,113.1 L500.5,115.4 L499,117.9 L497.5,120.3 L496,122.5 L494.5,124.2 L493,125.2 L491.5,125.2 L490,124.8 L488.5,124.2 L487,123.4 L485.5,122.7 L484,122.1 L482.5,121.7 L481,121.8 L479.5,122.1 L478,122.7 L476.5,123.3 L475,124 L473.5,124.7 L472,125.3 L470.5,125.7 L469,125.8 L467.5,125.5 L466,125 L464.5,124.2 L463,123.3 L461.5,122.4 L460,121.6 L458.5,121 L457,120.6 L455.5,120.8 L454,121.9 L452.5,123.4 L451,124.5 L449.5,125.1 L448,125.5 L446.5,125.8 L445,126.1 L443.5,126.4 L442,126.8 L440.5,127.3 L439,128 L437.5,128.8 L436,129.5 L434.5,130 L433,130.1 L431.5,129.4 L430,128.1 L428.5,126.4 L427,124.7 L425.5,123.5 L424,123 L422.5,123.2 L421,123.5 L419.5,124 L418,124.5 L416.5,125.4 L415,126.4 L413.5,127.7 L412,129 L410.5,130.3 L409,131.6 L407.5,132.7 L406,133.6 L404.5,134.3 L403,134.5 L401.5,133.7 L400,131.5 L398.5,128.4 L397,125.3 L395.5,121.3 L394,116.1 L392.5,110.7 L391,105.7 L389.5,101.9 L388,100 L386.5,100.9 L385,105.6 L383.5,112.5 L382,120.1 L380.5,128.3 L379,140.5 L377.5,153.7 L376,164.4 L374.5,168.8 L373,165 L371.5,155.5 L370,143.3 L368.5,131.4 L367,122.6 L365.5,115.9 L364,110 L362.5,107 L361,109.4 L359.5,117.6 Z" fill="#bcbcbc"/>
<path d="M359.5,114.6 L361,106.6 L362.5,104.3 L364,107.5 L365.5,113.5 L367,120.3 L368.5,120.4 L370,120.4 L371.5,120.4 L373,120.4 L374.5,120.4 L376,120.4 L377.5,120.4 L379,120.4 L380.5,120.4 L382,117.2 L383.5,109.2 L385,101.9 L386.5,96.8 L388,95.5 L389.5,97.2 L391,100.8 L392.5,105.7 L394,110.9 L395.5,115.8 L397,119.7 L398.5,120.4 L400,120.4 L401.5,120.4 L403,120.4 L404.5,120.4 L406,120.4 L407.5,120.4 L409,120.4 L410.5,120.4 L412,120.4 L413.5,120.4 L415,120.4 L416.5,119.4 L418,118.5 L419.5,118 L421,117.5 L422.5,117.2 L424,117 L425.5,117.5 L427,118.7 L428.5,120.4 L430,120.4 L431.5,120.4 L433,120.4 L434.5,120.4 L436,120.4 L437.5,120.4 L439,120.4 L440.5,120.4 L442,120.4 L443.5,120.4 L445,120.1 L446.5,119.8 L448,119.5 L449.5,119.1 L451,118.5 L452.5,117.4 L454,115.9 L455.5,114.8 L457,114.6 L458.5,115 L460,115.6 L461.5,116.4 L463,117.3 L464.5,118.2 L466,119 L467.5,119.5 L469,119.8 L470.5,119.7 L472,119.3 L473.5,118.7 L475,118 L476.5,117.3 L478,116.7 L479.5,116.1 L481,115.8 L482.5,115.7 L484,116.1 L485.5,116.7 L487,117.4 L488.5,118.2 L490,118.8 L491.5,119.2 L493,119.2 L494.5,118.2 L496,116.5 L497.5,114.3 L499,111.9 L500.5,109.5 L502,107.5 L503.5,106 L505,105.4 L506.5,106.6 L508,109.8 L509.5,114.2 L511,119 L512.5,120.4 L514,120.4 L515.5,120.4 L517,120.4 L518.5,120.4 L520,120.4 L521.5,120.4 L523,120.4 L524.5,120.4 L526,120.4 L527.5,118.8 L529,116.7 L530.5,115.3 L532,115 L533.5,115.3 L535,115.9 L536.5,116.6 L538,117.5 L539.5,118.5 L541,120.1 L542.5,120.4 L544,120.4 L545.5,120.4 L547,120.4 L548.5,120.4 L550,120.4 L551.5,120.4 L553,120.4 L554.5,120.4 L556,120.4 L557.5,120.4 L559,120 L560.5,118.1 L562,116.5 L563.5,115.7 L565,116 L566.5,117 L568,118.4 L569.5,120 L571,120.4 L572.5,120.4 L574,120.4 L575.5,120.4 L577,120.4 L578.5,120.4 L580,120.4 L581.5,120.4 L583,120.4 L584.5,120.4 L586,120.4 L587.5,120.4 L589,120.4 L590.5,120.4 L592,120.4 L593.5,120.4 L595,120.4 L596.5,120.4 L598,120.4 L599.5,120.4 L601,120.4 L602.5,120.4 L604,120.4 L605.5,120.4 L607,120.4 L608.5,120.4 L610,119.9 L611.5,117.6 L613,114.9 L614.5,112.8 L616,112.6 L617.5,113 L619,113.6 L620.5,114.3 L622,114.8 L623.5,115 L625,114.4 L626.5,113.3 L628,111.9 L629.5,110.5 L631,109.5 L632.5,109.3 L634,109.5 L635.5,109.9 L637,110.6 L638.5,111.6 L640,112.9 L640.5,113.4 L640.5,120.4 L359.5,120.4 Z" fill="#808080"/>
<path d="M359.5,120.4 L361,120.4 L362.5,120.4 L364,120.4 L365.5,120.4 L367,120.4 L368.5,129.3 L370,141.3 L371.5,153.6 L373,163.2 L374.5,167 L376,162.6 L377.5,151.9 L379,138.4 L380.5,125.9 L382,120.4 L383.5,120.4 L385,120.4 L386.5,120.4 L388,120.4 L389.5,120.4 L391,120.4 L392.5,120.4 L394,120.4 L395.5,120.4 L397,120.4 L398.5,122.6 L400,125.5 L401.5,127.7 L403,128.5 L404.5,128.3 L406,127.6 L407.5,126.7 L409,125.6 L410.5,124.3 L412,123 L413.5,121.7 L415,120.4 L416.5,120.4 L418,120.4 L419.5,120.4 L421,120.4 L422.5,120.4 L424,120.4 L425.5,120.4 L427,120.4 L428.5,120.4 L430,122.1 L431.5,123.4 L433,124.1 L434.5,124 L436,123.5 L437.5,122.8 L439,122 L440.5,121.3 L442,120.8 L443.5,120.4 L445,120.4 L446.5,120.4 L448,120.4 L449.5,120.4 L451,120.4 L452.5,120.4 L454,120.4 L455.5,120.4 L457,120.4 L458.5,120.4 L460,120.4 L461.5,120.4 L463,120.4 L464.5,120.4 L466,120.4 L467.5,120.4 L469,120.4 L470.5,120.4 L472,120.4 L473.5,120.4 L475,120.4 L476.5,120.4 L478,120.4 L479.5,120.4 L481,120.4 L482.5,120.4 L484,120.4 L485.5,120.4 L487,120.4 L488.5,120.4 L490,120.4 L491.5,120.4 L493,120.4 L494.5,120.4 L496,120.4 L497.5,120.4 L499,120.4 L500.5,120.4 L502,120.4 L503.5,120.4 L505,120.4 L506.5,120.4 L508,120.4 L509.5,120.4 L511,120.4 L512.5,124.1 L514,131.3 L515.5,138.9 L517,145.1 L518.5,148.1 L520,146.3 L521.5,140.8 L523,133.6 L524.5,126.4 L526,121.3 L527.5,120.4 L529,120.4 L530.5,120.4 L532,120.4 L533.5,120.4 L535,120.4 L536.5,120.4 L538,120.4 L539.5,120.4 L541,120.4 L542.5,122.6 L544,125.8 L545.5,129.1 L547,132.3 L548.5,134.8 L550,136.5 L551.5,136.8 L553,134.7 L554.5,130.9 L556,126.5 L557.5,122.5 L559,120.4 L560.5,120.4 L562,120.4 L563.5,120.4 L565,120.4 L566.5,120.4 L568,120.4 L569.5,120.4 L571,121.6 L572.5,122.9 L574,123.6 L575.5,123.7 L577,123.4 L578.5,123.1 L580,122.6 L581.5,122.2 L583,121.7 L584.5,121.3 L586,121 L587.5,120.9 L589,120.8 L590.5,120.7 L592,120.7 L593.5,120.6 L595,120.5 L596.5,120.5 L598,120.5 L599.5,120.5 L601,120.5 L602.5,120.5 L604,120.5 L605.5,120.5 L607,120.5 L608.5,120.5 L610,120.4 L611.5,120.4 L613,120.4 L614.5,120.4 L616,120.4 L617.5,120.4 L619,120.4 L620.5,120.4 L622,120.4 L623.5,120.4 L625,120.4 L626.5,120.4 L628,120.4 L629.5,120.4 L631,120.4 L632.5,120.4 L634,120.4 L635.5,120.4 L637,120.4 L638.5,120.4 L640,120.4 L640.5,120.4 L640.5,120.4 L359.5,120.4 Z" fill="#e8573e"/>
<path d="M359.5,111.6 L361,103.8 L362.5,101.6 L364,105 L365.5,111.1 L367,118 L368.5,127.1 L370,139.4 L371.5,151.8 L373,161.4 L374.5,165.2 L376,160.8 L377.5,150.1 L379,136.3 L380.5,123.4 L382,114.3 L383.5,105.9 L385,98.2 L386.5,92.8 L388,91 L389.5,92.5 L391,96 L392.5,100.6 L394,105.6 L395.5,110.4 L397,114.1 L398.5,116.8 L400,119.5 L401.5,121.7 L403,122.5 L404.5,122.3 L406,121.6 L407.5,120.7 L409,119.6 L410.5,118.3 L412,117 L413.5,115.7 L415,114.4 L416.5,113.4 L418,112.5 L419.5,112 L421,111.5 L422.5,111.2 L424,111 L425.5,111.5 L427,112.7 L428.5,114.4 L430,116.1 L431.5,117.4 L433,118.1 L434.5,118 L436,117.5 L437.5,116.8 L439,116 L440.5,115.3 L442,114.8 L443.5,114.4 L445,114.1 L446.5,113.8 L448,113.5 L449.5,113.1 L451,112.5 L452.5,111.4 L454,109.9 L455.5,108.8 L457,108.6 L458.5,109 L460,109.6 L461.5,110.4 L463,111.3 L464.5,112.2 L466,113 L467.5,113.5 L469,113.8 L470.5,113.7 L472,113.3 L473.5,112.7 L475,112 L476.5,111.3 L478,110.7 L479.5,110.1 L481,109.8 L482.5,109.7 L484,110.1 L485.5,110.7 L487,111.4 L488.5,112.2 L490,112.8 L491.5,113.2 L493,113.2 L494.5,112.2 L496,110.5 L497.5,108.3 L499,105.9 L500.5,103.6 L502,101.8 L503.5,100.6 L505,100.2 L506.5,101.6 L508,105.1 L509.5,109.8 L511,114.8 L512.5,120.2 L514,127.6 L515.5,135.3 L517,141.3 L518.5,144 L520,142 L521.5,136.4 L523,128.9 L524.5,121.5 L526,116.2 L527.5,113.7 L529,111.5 L530.5,110.1 L532,109.7 L533.5,109.9 L535,110.4 L536.5,111.1 L538,112 L539.5,112.9 L541,114.4 L542.5,116.9 L544,120 L545.5,123.2 L547,126.3 L548.5,128.8 L550,130.4 L551.5,130.7 L553,128.5 L554.5,124.6 L556,120.1 L557.5,116.1 L559,113.5 L560.5,111.6 L562,110 L563.5,109.2 L565,109.4 L566.5,110.4 L568,111.8 L569.5,113.5 L571,115.1 L572.5,116.3 L574,117 L575.5,117.1 L577,116.8 L578.5,116.5 L580,116 L581.5,115.5 L583,115 L584.5,114.7 L586,114.4 L587.5,114.3 L589,114.1 L590.5,114 L592,114 L593.5,113.9 L595,113.8 L596.5,113.8 L598,113.8 L599.5,113.8 L601,113.7 L602.5,113.7 L604,113.7 L605.5,113.7 L607,113.7 L608.5,113.7 L610,113.1 L611.5,110.8 L613,108 L614.5,106 L616,105.7 L617.5,106.1 L619,106.7 L620.5,107.4 L622,107.9 L623.5,108.1 L625,107.5 L626.5,106.4 L628,104.9 L629.5,103.6 L631,102.6 L632.5,102.4 L634,102.5 L635.5,102.9 L637,103.6 L638.5,104.6 L640,105.9 L640.5,106.4" fill="none" stroke="#1a1a1a" stroke-width="1.15" stroke-dasharray="4,2.4"/>
<path d="M359.5,117.6 L361,109.4 L362.5,107 L364,110 L365.5,115.9 L367,122.6 L368.5,131.4 L370,143.3 L371.5,155.5 L373,165 L374.5,168.8 L376,164.4 L377.5,153.7 L379,140.5 L380.5,128.3 L382,120.1 L383.5,112.5 L385,105.6 L386.5,100.9 L388,100 L389.5,101.9 L391,105.7 L392.5,110.7 L394,116.1 L395.5,121.3 L397,125.3 L398.5,128.4 L400,131.5 L401.5,133.7 L403,134.5 L404.5,134.3 L406,133.6 L407.5,132.7 L409,131.6 L410.5,130.3 L412,129 L413.5,127.7 L415,126.4 L416.5,125.4 L418,124.5 L419.5,124 L421,123.5 L422.5,123.2 L424,123 L425.5,123.5 L427,124.7 L428.5,126.4 L430,128.1 L431.5,129.4 L433,130.1 L434.5,130 L436,129.5 L437.5,128.8 L439,128 L440.5,127.3 L442,126.8 L443.5,126.4 L445,126.1 L446.5,125.8 L448,125.5 L449.5,125.1 L451,124.5 L452.5,123.4 L454,121.9 L455.5,120.8 L457,120.6 L458.5,121 L460,121.6 L461.5,122.4 L463,123.3 L464.5,124.2 L466,125 L467.5,125.5 L469,125.8 L470.5,125.7 L472,125.3 L473.5,124.7 L475,124 L476.5,123.3 L478,122.7 L479.5,122.1 L481,121.8 L482.5,121.7 L484,122.1 L485.5,122.7 L487,123.4 L488.5,124.2 L490,124.8 L491.5,125.2 L493,125.2 L494.5,124.2 L496,122.5 L497.5,120.3 L499,117.9 L500.5,115.4 L502,113.1 L503.5,111.4 L505,110.6 L506.5,111.5 L508,114.5 L509.5,118.7 L511,123.2 L512.5,128 L514,134.9 L515.5,142.5 L517,148.9 L518.5,152.1 L520,150.5 L521.5,145.3 L523,138.3 L524.5,131.4 L526,126.3 L527.5,123.9 L529,121.8 L530.5,120.5 L532,120.3 L533.5,120.7 L535,121.3 L536.5,122.1 L538,123.1 L539.5,124.1 L541,125.8 L542.5,128.4 L544,131.6 L545.5,135 L547,138.2 L548.5,140.8 L550,142.6 L551.5,142.9 L553,140.9 L554.5,137.2 L556,132.8 L557.5,128.9 L559,126.4 L560.5,124.6 L562,123 L563.5,122.2 L565,122.5 L566.5,123.5 L568,124.9 L569.5,126.6 L571,128.2 L572.5,129.5 L574,130.2 L575.5,130.3 L577,130 L578.5,129.7 L580,129.3 L581.5,128.8 L583,128.3 L584.5,128 L586,127.7 L587.5,127.6 L589,127.5 L590.5,127.4 L592,127.4 L593.5,127.3 L595,127.3 L596.5,127.2 L598,127.2 L599.5,127.2 L601,127.3 L602.5,127.3 L604,127.3 L605.5,127.3 L607,127.3 L608.5,127.3 L610,126.7 L611.5,124.4 L613,121.7 L614.5,119.7 L616,119.4 L617.5,119.8 L619,120.5 L620.5,121.2 L622,121.7 L623.5,121.9 L625,121.4 L626.5,120.2 L628,118.8 L629.5,117.4 L631,116.5 L632.5,116.3 L634,116.5 L635.5,116.9 L637,117.6 L638.5,118.6 L640,119.9 L640.5,120.4" fill="none" stroke="#1a1a1a" stroke-width="1.15" stroke-dasharray="4,2.4"/>
<path d="M359.5,114.6 L361,106.6 L362.5,104.3 L364,107.5 L365.5,113.5 L367,120.3 L368.5,129.3 L370,141.3 L371.5,153.6 L373,163.2 L374.5,167 L376,162.6 L377.5,151.9 L379,138.4 L380.5,125.9 L382,117.2 L383.5,109.2 L385,101.9 L386.5,96.8 L388,95.5 L389.5,97.2 L391,100.8 L392.5,105.7 L394,110.9 L395.5,115.8 L397,119.7 L398.5,122.6 L400,125.5 L401.5,127.7 L403,128.5 L404.5,128.3 L406,127.6 L407.5,126.7 L409,125.6 L410.5,124.3 L412,123 L413.5,121.7 L415,120.4 L416.5,119.4 L418,118.5 L419.5,118 L421,117.5 L422.5,117.2 L424,117 L425.5,117.5 L427,118.7 L428.5,120.4 L430,122.1 L431.5,123.4 L433,124.1 L434.5,124 L436,123.5 L437.5,122.8 L439,122 L440.5,121.3 L442,120.8 L443.5,120.4 L445,120.1 L446.5,119.8 L448,119.5 L449.5,119.1 L451,118.5 L452.5,117.4 L454,115.9 L455.5,114.8 L457,114.6 L458.5,115 L460,115.6 L461.5,116.4 L463,117.3 L464.5,118.2 L466,119 L467.5,119.5 L469,119.8 L470.5,119.7 L472,119.3 L473.5,118.7 L475,118 L476.5,117.3 L478,116.7 L479.5,116.1 L481,115.8 L482.5,115.7 L484,116.1 L485.5,116.7 L487,117.4 L488.5,118.2 L490,118.8 L491.5,119.2 L493,119.2 L494.5,118.2 L496,116.5 L497.5,114.3 L499,111.9 L500.5,109.5 L502,107.5 L503.5,106 L505,105.4 L506.5,106.6 L508,109.8 L509.5,114.2 L511,119 L512.5,124.1 L514,131.3 L515.5,138.9 L517,145.1 L518.5,148.1 L520,146.3 L521.5,140.8 L523,133.6 L524.5,126.4 L526,121.3 L527.5,118.8 L529,116.7 L530.5,115.3 L532,115 L533.5,115.3 L535,115.9 L536.5,116.6 L538,117.5 L539.5,118.5 L541,120.1 L542.5,122.6 L544,125.8 L545.5,129.1 L547,132.3 L548.5,134.8 L550,136.5 L551.5,136.8 L553,134.7 L554.5,130.9 L556,126.5 L557.5,122.5 L559,120 L560.5,118.1 L562,116.5 L563.5,115.7 L565,116 L566.5,117 L568,118.4 L569.5,120 L571,121.6 L572.5,122.9 L574,123.6 L575.5,123.7 L577,123.4 L578.5,123.1 L580,122.6 L581.5,122.2 L583,121.7 L584.5,121.3 L586,121 L587.5,120.9 L589,120.8 L590.5,120.7 L592,120.7 L593.5,120.6 L595,120.5 L596.5,120.5 L598,120.5 L599.5,120.5 L601,120.5 L602.5,120.5 L604,120.5 L605.5,120.5 L607,120.5 L608.5,120.5 L610,119.9 L611.5,117.6 L613,114.9 L614.5,112.8 L616,112.6 L617.5,113 L619,113.6 L620.5,114.3 L622,114.8 L623.5,115 L625,114.4 L626.5,113.3 L628,111.9 L629.5,110.5 L631,109.5 L632.5,109.3 L634,109.5 L635.5,109.9 L637,110.6 L638.5,111.6 L640,112.9 L640.5,113.4" fill="none" stroke="#0a1cff" stroke-width="1.7"/>
<path d="M359.5,114.6 L361,106.6 L362.5,104.3 L364,107.5 L365.5,113.5 L367,120.3 L368.5,129.3 L370,141.3 L371.5,153.6 L373,163.2 L374.5,167 L376,162.6 L377.5,151.9 L379,138.4 L380.5,125.9 L382,117.2 L383.5,109.2 L385,101.9 L386.5,96.8 L388,95.5 L389.5,97.2 L391,100.8 L392.5,105.7 L394,110.9 L395.5,115.8 L397,119.7 L398.5,122.6 L400,125.5 L401.5,127.7 L403,128.5 L404.5,128.3 L406,127.6 L407.5,126.7 L409,125.6 L410.5,124.3 L412,123 L413.5,121.7 L415,120.4 L416.5,119.4 L418,118.5 L419.5,118 L421,117.5 L422.5,117.2 L424,117 L425.5,117.5 L427,118.7 L428.5,120.4 L430,122.1 L431.5,123.4 L433,124.1 L434.5,124 L436,123.5 L437.5,122.8 L439,122 L440.5,121.3 L442,120.8 L443.5,120.4 L445,120.1 L446.5,119.8 L448,119.5 L449.5,119.1 L451,118.5 L452.5,117.4 L454,115.9 L455.5,114.8 L457,114.6 L458.5,115 L460,115.6 L461.5,116.4 L463,117.3 L464.5,118.2 L466,119 L467.5,119.5 L469,119.8 L470.5,119.7 L472,119.3 L473.5,118.7 L475,118 L476.5,117.3 L478,116.7 L479.5,116.1 L481,115.8 L482.5,115.7 L484,116.1 L485.5,116.7 L487,117.4 L488.5,118.2 L490,118.8 L491.5,119.2 L493,119.2 L494.5,118.2 L496,116.5 L497.5,114.3 L499,111.9 L500.5,109.5 L502,107.5 L503.5,106 L505,105.4 L506.5,106.6 L508,109.8 L509.5,114.2 L511,119 L512.5,124.1 L514,131.3 L515.5,138.9 L517,145.1 L518.5,148.1 L520,146.3 L521.5,140.8 L523,133.6 L524.5,126.4 L526,121.3 L527.5,118.8 L529,116.7 L530.5,115.3 L532,115 L533.5,115.3 L535,115.9 L536.5,116.6 L538,117.5 L539.5,118.5 L541,120.1 L542.5,122.6 L544,125.8 L545.5,129.1 L547,132.3 L548.5,134.8 L550,136.5 L551.5,136.8 L553,134.7 L554.5,130.9 L556,126.5 L557.5,122.5 L559,120 L560.5,118.1 L562,116.5 L563.5,115.7 L565,116 L566.5,117 L568,118.4 L569.5,120 L571,121.6 L572.5,122.9 L574,123.6 L575.5,123.7 L577,123.4 L578.5,123.1 L580,122.6 L581.5,122.2 L583,121.7 L584.5,121.3 L586,121 L587.5,120.9 L589,120.8 L590.5,120.7 L592,120.7 L593.5,120.6 L595,120.5 L596.5,120.5 L598,120.5 L599.5,120.5 L601,120.5 L602.5,120.5 L604,120.5 L605.5,120.5 L607,120.5 L608.5,120.5 L610,119.9 L611.5,117.6 L613,114.9 L614.5,112.8 L616,112.6 L617.5,113 L619,113.6 L620.5,114.3 L622,114.8 L623.5,115 L625,114.4 L626.5,113.3 L628,111.9 L629.5,110.5 L631,109.5 L632.5,109.3 L634,109.5 L635.5,109.9 L637,110.6 L638.5,111.6 L640,112.9 L640.5,113.4" fill="none" stroke="#111" stroke-width="1.5" stroke-dasharray="2.6,3"/>
<path d="M359,60.3 L360.5,64.9 L362,68.4 L363.5,71 L365,72.7 L366.5,73.9 L368,74.5 L369.5,74.7 L371,74.7 L372.5,74.3 L374,71.3 L375.5,66.4 L377,60.8 L378.5,55.5 L380,50.4 L381.5,44.3 L383,38.2 L384.5,33 L386,29.7 L387.5,29 L389,30.7 L390.5,34.1 L392,38.5 L393.5,43.5 L395,48.3 L396.5,52.4 L398,55.3 L399.5,56.3 L401,55.7 L402.5,54.2 L404,52.2 L405.5,50 L407,48 L408.5,46.5 L410,46 L411.5,46.5 L413,47.8 L414.5,49.5 L416,51.5 L417.5,53.5 L419,55.2 L420.5,56.4 L422,56.7 L423.5,56.2 L425,55.3 L426.5,54 L428,52.8 L429.5,51.7 L431,51.2 L432.5,51.6 L434,53.3 L435.5,56 L437,59.3 L438.5,62.6 L440,65.8 L441.5,68.3 L443,69.7 L444.5,69.5 L446,67.5 L447.5,64.1 L449,59.8 L450.5,55.3 L452,51.2 L453.5,47.9 L455,46.1 L456.5,46.1 L458,47.4 L459.5,49.4 L461,51.8 L462.5,54.4 L464,56.9 L465.5,58.7 L467,59.8 L468.5,59.6 L470,58.3 L471.5,56.2 L473,53.8 L474.5,51.5 L476,49.8 L477.5,49.1 L479,49.5 L480.5,50.2 L482,51.2 L483.5,52.1 L485,52.8 L486.5,52.9 L488,52.3 L489.5,51.2 L491,49.9 L492.5,48.5 L494,47.4 L495.5,46.7 L497,46.7 L498.5,47.5 L500,48.9 L501.5,50.8 L503,52.9 L504.5,55 L506,57.1 L507.5,60.1 L509,63.4 L510.5,66.6 L512,69.1 L513.5,70.4 L515,70.1 L516.5,68.9 L518,66.9 L519.5,64.5 L521,61.9 L522.5,59.3 L524,57 L525.5,55.1 L527,53.3 L528.5,51.4 L530,49.9 L531.5,48.9 L533,48.9 L534.5,49.8 L536,51.3 L537.5,53.1 L539,54.7 L540.5,55.9 L542,56.4 L543.5,55.7 L545,54.1 L546.5,52.1 L548,50.1 L549.5,48.6 L551,47.9 L552.5,48.1 L554,48.6 L555.5,49.5 L557,50.5 L558.5,51.7 L560,53 L561.5,54.4 L563,55.8 L564.5,57.1 L566,58.3 L567.5,59.4 L569,60.2 L570.5,60.8 L572,61 L573.5,60.5 L575,58.8 L576.5,56.4 L578,53.4 L579.5,50.4 L581,47.5 L582.5,45.2 L584,43.8 L585.5,43.6 L587,45 L588.5,47.6 L590,50.9 L591.5,54.3 L593,57.7 L594.5,62.3 L596,67.2 L597.5,71.5 L599,74 L600.5,73.6 L602,70.3 L603.5,65.4 L605,60 L606.5,55.5 L608,51.3 L609.5,46.7 L611,42.5 L612.5,39.5 L614,38.3 L615.5,39.9 L617,43.7 L618.5,48.5 L620,52.9 L621.5,55.5 L623,56.9 L624.5,58 L626,58.9 L627.5,59.6 L629,60 L630.5,60.3 L632,60.6 L633.5,60.8 L635,60.7 L636.5,59.6 L638,57.4 L639.5,54.6 L640.5,52.5 L640.5,74.1 L639.5,76.2 L638,79 L636.5,81.2 L635,82.3 L633.5,82.3 L632,82.2 L630.5,81.9 L629,81.5 L627.5,81.1 L626,80.4 L624.5,79.6 L623,78.4 L621.5,77 L620,74.4 L618.5,70 L617,65.2 L615.5,61.3 L614,59.7 L612.5,60.9 L611,64 L609.5,68.2 L608,72.7 L606.5,76.9 L605,81.5 L603.5,86.8 L602,91.7 L600.5,95 L599,95.3 L597.5,92.9 L596,88.6 L594.5,83.6 L593,79 L591.5,75.6 L590,72.2 L588.5,68.9 L587,66.3 L585.5,64.9 L584,65.1 L582.5,66.5 L581,68.8 L579.5,71.7 L578,74.7 L576.5,77.6 L575,80.1 L573.5,81.7 L572,82.2 L570.5,82 L569,81.4 L567.5,80.6 L566,79.5 L564.5,78.3 L563,76.9 L561.5,75.5 L560,74.2 L558.5,72.8 L557,71.6 L555.5,70.6 L554,69.8 L552.5,69.2 L551,69.1 L549.5,69.7 L548,71.2 L546.5,73.2 L545,75.2 L543.5,76.7 L542,77.4 L540.5,77 L539,75.8 L537.5,74.1 L536,72.3 L534.5,70.8 L533,69.9 L531.5,69.9 L530,70.9 L528.5,72.4 L527,74.3 L525.5,76.1 L524,77.9 L522.5,80.2 L521,82.8 L519.5,85.4 L518,87.9 L516.5,89.8 L515,91.1 L513.5,91.3 L512,90 L510.5,87.5 L509,84.3 L507.5,81 L506,78 L504.5,75.8 L503,73.7 L501.5,71.6 L500,69.8 L498.5,68.3 L497,67.5 L495.5,67.5 L494,68.2 L492.5,69.3 L491,70.7 L489.5,72 L488,73.1 L486.5,73.6 L485,73.5 L483.5,72.9 L482,71.9 L480.5,71 L479,70.2 L477.5,69.9 L476,70.5 L474.5,72.2 L473,74.5 L471.5,76.9 L470,79 L468.5,80.3 L467,80.4 L465.5,79.4 L464,77.5 L462.5,75.1 L461,72.5 L459.5,70 L458,68 L456.5,66.7 L455,66.7 L453.5,68.5 L452,71.7 L450.5,75.9 L449,80.4 L447.5,84.6 L446,88 L444.5,90.1 L443,90.2 L441.5,88.8 L440,86.3 L438.5,83.1 L437,79.7 L435.5,76.5 L434,73.8 L432.5,72.1 L431,71.7 L429.5,72.2 L428,73.2 L426.5,74.5 L425,75.7 L423.5,76.7 L422,77.1 L420.5,76.8 L419,75.7 L417.5,74.1 L416,72.2 L414.5,70.4 L413,68.7 L411.5,67.6 L410,67.2 L408.5,67.8 L407,69.4 L405.5,71.5 L404,73.8 L402.5,76 L401,77.6 L399.5,78.3 L398,77.4 L396.5,74.7 L395,70.7 L393.5,66 L392,61.2 L390.5,56.8 L389,53.4 L387.5,51.6 L386,52.2 L384.5,55.4 L383,60.5 L381.5,66.4 L380,72.4 L378.5,77.5 L377,82.5 L375.5,88.1 L374,92.9 L372.5,95.7 L371,96.1 L369.5,95.9 L368,95.6 L366.5,94.8 L365,93.6 L363.5,91.7 L362,89 L360.5,85.4 L359,80.7 Z" fill="#dcdcdc"/>
<path d="M359,62.5 L360.5,67.1 L362,70.6 L363.5,73.2 L365,74.9 L366.5,76.1 L368,76.7 L369.5,76.9 L371,76.9 L372.5,76.5 L374,73.5 L375.5,68.6 L377,63 L378.5,57.7 L380,52.6 L381.5,46.5 L383,40.4 L384.5,35.2 L386,31.9 L387.5,31.2 L389,32.9 L390.5,36.3 L392,40.7 L393.5,45.7 L395,50.5 L396.5,54.6 L398,57.5 L399.5,58.5 L401,57.9 L402.5,56.4 L404,54.4 L405.5,52.2 L407,50.2 L408.5,48.7 L410,48.2 L411.5,48.7 L413,50 L414.5,51.7 L416,53.7 L417.5,55.7 L419,57.4 L420.5,58.6 L422,58.9 L423.5,58.4 L425,57.5 L426.5,56.2 L428,55 L429.5,53.9 L431,53.4 L432.5,53.8 L434,55.5 L435.5,58.2 L437,61.5 L438.5,64.8 L440,68 L441.5,70.5 L443,71.9 L444.5,71.7 L446,69.7 L447.5,66.3 L449,62 L450.5,57.5 L452,53.4 L453.5,50.1 L455,48.3 L456.5,48.3 L458,49.6 L459.5,51.6 L461,54 L462.5,56.6 L464,59.1 L465.5,60.9 L467,62 L468.5,61.8 L470,60.5 L471.5,58.4 L473,56 L474.5,53.7 L476,52 L477.5,51.3 L479,51.7 L480.5,52.4 L482,53.4 L483.5,54.3 L485,55 L486.5,55.1 L488,54.5 L489.5,53.4 L491,52.1 L492.5,50.7 L494,49.6 L495.5,48.9 L497,48.9 L498.5,49.7 L500,51.1 L501.5,53 L503,55.1 L504.5,57.2 L506,59.3 L507.5,62.3 L509,65.6 L510.5,68.8 L512,71.3 L513.5,72.6 L515,72.3 L516.5,71.1 L518,69.1 L519.5,66.7 L521,64.1 L522.5,61.5 L524,59.2 L525.5,57.3 L527,55.5 L528.5,53.6 L530,52.1 L531.5,51.1 L533,51.1 L534.5,52 L536,53.5 L537.5,55.3 L539,56.9 L540.5,58.1 L542,58.6 L543.5,57.9 L545,56.3 L546.5,54.3 L548,52.3 L549.5,50.8 L551,50.1 L552.5,50.3 L554,50.8 L555.5,51.7 L557,52.7 L558.5,53.9 L560,55.2 L561.5,56.6 L563,58 L564.5,59.3 L566,60.5 L567.5,61.6 L569,62.4 L570.5,63 L572,63.2 L573.5,62.7 L575,61 L576.5,58.6 L578,55.6 L579.5,52.6 L581,49.7 L582.5,47.4 L584,46 L585.5,45.8 L587,47.2 L588.5,49.8 L590,53.1 L591.5,56.5 L593,59.9 L594.5,64.5 L596,69.4 L597.5,73.7 L599,76.2 L600.5,75.8 L602,72.5 L603.5,67.6 L605,62.2 L606.5,57.7 L608,53.5 L609.5,48.9 L611,44.7 L612.5,41.7 L614,40.5 L615.5,42.1 L617,45.9 L618.5,50.7 L620,55.1 L621.5,57.7 L623,59.1 L624.5,60.2 L626,61.1 L627.5,61.8 L629,62.2 L630.5,62.5 L632,62.8 L633.5,63 L635,62.9 L636.5,61.8 L638,59.6 L639.5,56.8 L640.5,54.7 L640.5,71.9 L639.5,74 L638,76.8 L636.5,79 L635,80.1 L633.5,80.1 L632,80 L630.5,79.7 L629,79.3 L627.5,78.9 L626,78.2 L624.5,77.4 L623,76.2 L621.5,74.8 L620,72.2 L618.5,67.8 L617,63 L615.5,59.1 L614,57.5 L612.5,58.7 L611,61.8 L609.5,66 L608,70.5 L606.5,74.7 L605,79.3 L603.5,84.6 L602,89.5 L600.5,92.8 L599,93.1 L597.5,90.7 L596,86.4 L594.5,81.4 L593,76.8 L591.5,73.4 L590,70 L588.5,66.7 L587,64.1 L585.5,62.7 L584,62.9 L582.5,64.3 L581,66.6 L579.5,69.5 L578,72.5 L576.5,75.4 L575,77.9 L573.5,79.5 L572,80 L570.5,79.8 L569,79.2 L567.5,78.4 L566,77.3 L564.5,76.1 L563,74.7 L561.5,73.3 L560,72 L558.5,70.6 L557,69.4 L555.5,68.4 L554,67.6 L552.5,67 L551,66.9 L549.5,67.5 L548,69 L546.5,71 L545,73 L543.5,74.5 L542,75.2 L540.5,74.8 L539,73.6 L537.5,71.9 L536,70.1 L534.5,68.6 L533,67.7 L531.5,67.7 L530,68.7 L528.5,70.2 L527,72.1 L525.5,73.9 L524,75.7 L522.5,78 L521,80.6 L519.5,83.2 L518,85.7 L516.5,87.6 L515,88.9 L513.5,89.1 L512,87.8 L510.5,85.3 L509,82.1 L507.5,78.8 L506,75.8 L504.5,73.6 L503,71.5 L501.5,69.4 L500,67.6 L498.5,66.1 L497,65.3 L495.5,65.3 L494,66 L492.5,67.1 L491,68.5 L489.5,69.8 L488,70.9 L486.5,71.4 L485,71.3 L483.5,70.7 L482,69.7 L480.5,68.8 L479,68 L477.5,67.7 L476,68.3 L474.5,70 L473,72.3 L471.5,74.7 L470,76.8 L468.5,78.1 L467,78.2 L465.5,77.2 L464,75.3 L462.5,72.9 L461,70.3 L459.5,67.8 L458,65.8 L456.5,64.5 L455,64.5 L453.5,66.3 L452,69.5 L450.5,73.7 L449,78.2 L447.5,82.4 L446,85.8 L444.5,87.9 L443,88 L441.5,86.6 L440,84.1 L438.5,80.9 L437,77.5 L435.5,74.3 L434,71.6 L432.5,69.9 L431,69.5 L429.5,70 L428,71 L426.5,72.3 L425,73.5 L423.5,74.5 L422,74.9 L420.5,74.6 L419,73.5 L417.5,71.9 L416,70 L414.5,68.2 L413,66.5 L411.5,65.4 L410,65 L408.5,65.6 L407,67.2 L405.5,69.3 L404,71.6 L402.5,73.8 L401,75.4 L399.5,76.1 L398,75.2 L396.5,72.5 L395,68.5 L393.5,63.8 L392,59 L390.5,54.6 L389,51.2 L387.5,49.4 L386,50 L384.5,53.2 L383,58.3 L381.5,64.2 L380,70.2 L378.5,75.3 L377,80.3 L375.5,85.9 L374,90.7 L372.5,93.5 L371,93.9 L369.5,93.7 L368,93.4 L366.5,92.6 L365,91.4 L363.5,89.5 L362,86.8 L360.5,83.2 L359,78.5 Z" fill="#bcbcbc"/>
<path d="M359,66.2 L360.5,66.2 L362,66.2 L363.5,66.2 L365,66.2 L366.5,66.2 L368,66.2 L369.5,66.2 L371,66.2 L372.5,66.2 L374,66.2 L375.5,66.2 L377,66.2 L378.5,66.2 L380,61.4 L381.5,55.4 L383,49.3 L384.5,44.2 L386,40.9 L387.5,40.3 L389,42.1 L390.5,45.5 L392,49.9 L393.5,54.7 L395,59.5 L396.5,63.5 L398,66.2 L399.5,66.2 L401,66.2 L402.5,65.1 L404,63 L405.5,60.7 L407,58.7 L408.5,57.2 L410,56.6 L411.5,57.1 L413,58.3 L414.5,60 L416,61.9 L417.5,63.8 L419,65.4 L420.5,66.2 L422,66.2 L423.5,66.2 L425,65.5 L426.5,64.2 L428,63 L429.5,62 L431,61.4 L432.5,61.8 L434,63.6 L435.5,66.2 L437,66.2 L438.5,66.2 L440,66.2 L441.5,66.2 L443,66.2 L444.5,66.2 L446,66.2 L447.5,66.2 L449,66.2 L450.5,65.6 L452,61.4 L453.5,58.2 L455,56.4 L456.5,56.4 L458,57.7 L459.5,59.7 L461,62.2 L462.5,64.8 L464,66.2 L465.5,66.2 L467,66.2 L468.5,66.2 L470,66.2 L471.5,66.2 L473,64.1 L474.5,61.9 L476,60.2 L477.5,59.5 L479,59.8 L480.5,60.6 L482,61.6 L483.5,62.5 L485,63.2 L486.5,63.3 L488,62.7 L489.5,61.6 L491,60.3 L492.5,58.9 L494,57.8 L495.5,57.1 L497,57.1 L498.5,57.9 L500,59.4 L501.5,61.2 L503,63.3 L504.5,65.4 L506,66.2 L507.5,66.2 L509,66.2 L510.5,66.2 L512,66.2 L513.5,66.2 L515,66.2 L516.5,66.2 L518,66.2 L519.5,66.2 L521,66.2 L522.5,66.2 L524,66.2 L525.5,65.6 L527,63.8 L528.5,61.9 L530,60.4 L531.5,59.4 L533,59.4 L534.5,60.3 L536,61.8 L537.5,63.6 L539,65.2 L540.5,66.2 L542,66.2 L543.5,66.2 L545,64.6 L546.5,62.6 L548,60.6 L549.5,59.1 L551,58.5 L552.5,58.7 L554,59.2 L555.5,60 L557,61.1 L558.5,62.3 L560,63.6 L561.5,65 L563,66.2 L564.5,66.2 L566,66.2 L567.5,66.2 L569,66.2 L570.5,66.2 L572,66.2 L573.5,66.2 L575,66.2 L576.5,66.2 L578,64.1 L579.5,61 L581,58.2 L582.5,55.8 L584,54.4 L585.5,54.2 L587,55.6 L588.5,58.3 L590,61.5 L591.5,64.9 L593,66.2 L594.5,66.2 L596,66.2 L597.5,66.2 L599,66.2 L600.5,66.2 L602,66.2 L603.5,66.2 L605,66.2 L606.5,66.2 L608,62 L609.5,57.5 L611,53.3 L612.5,50.2 L614,49 L615.5,50.6 L617,54.5 L618.5,59.3 L620,63.7 L621.5,66.2 L623,66.2 L624.5,66.2 L626,66.2 L627.5,66.2 L629,66.2 L630.5,66.2 L632,66.2 L633.5,66.2 L635,66.2 L636.5,66.2 L638,66.2 L639.5,65.4 L640.5,63.3 L640.5,66.2 L359,66.2 Z" fill="#808080"/>
<path d="M359,70.5 L360.5,75.1 L362,78.7 L363.5,81.3 L365,83.2 L366.5,84.3 L368,85 L369.5,85.3 L371,85.4 L372.5,85 L374,82.1 L375.5,77.2 L377,71.6 L378.5,66.5 L380,66.2 L381.5,66.2 L383,66.2 L384.5,66.2 L386,66.2 L387.5,66.2 L389,66.2 L390.5,66.2 L392,66.2 L393.5,66.2 L395,66.2 L396.5,66.2 L398,66.3 L399.5,67.3 L401,66.6 L402.5,66.2 L404,66.2 L405.5,66.2 L407,66.2 L408.5,66.2 L410,66.2 L411.5,66.2 L413,66.2 L414.5,66.2 L416,66.2 L417.5,66.2 L419,66.2 L420.5,66.6 L422,66.9 L423.5,66.4 L425,66.2 L426.5,66.2 L428,66.2 L429.5,66.2 L431,66.2 L432.5,66.2 L434,66.2 L435.5,66.2 L437,69.5 L438.5,72.9 L440,76 L441.5,78.5 L443,79.9 L444.5,79.8 L446,77.8 L447.5,74.3 L449,70.1 L450.5,66.2 L452,66.2 L453.5,66.2 L455,66.2 L456.5,66.2 L458,66.2 L459.5,66.2 L461,66.2 L462.5,66.2 L464,67.2 L465.5,69.1 L467,70.1 L468.5,70 L470,68.6 L471.5,66.5 L473,66.2 L474.5,66.2 L476,66.2 L477.5,66.2 L479,66.2 L480.5,66.2 L482,66.2 L483.5,66.2 L485,66.2 L486.5,66.2 L488,66.2 L489.5,66.2 L491,66.2 L492.5,66.2 L494,66.2 L495.5,66.2 L497,66.2 L498.5,66.2 L500,66.2 L501.5,66.2 L503,66.2 L504.5,66.2 L506,67.6 L507.5,70.5 L509,73.9 L510.5,77 L512,79.6 L513.5,80.8 L515,80.6 L516.5,79.4 L518,77.4 L519.5,75 L521,72.3 L522.5,69.7 L524,67.4 L525.5,66.2 L527,66.2 L528.5,66.2 L530,66.2 L531.5,66.2 L533,66.2 L534.5,66.2 L536,66.2 L537.5,66.2 L539,66.2 L540.5,66.5 L542,66.9 L543.5,66.2 L545,66.2 L546.5,66.2 L548,66.2 L549.5,66.2 L551,66.2 L552.5,66.2 L554,66.2 L555.5,66.2 L557,66.2 L558.5,66.2 L560,66.2 L561.5,66.2 L563,66.3 L564.5,67.7 L566,68.9 L567.5,70 L569,70.8 L570.5,71.4 L572,71.6 L573.5,71.1 L575,69.5 L576.5,67 L578,66.2 L579.5,66.2 L581,66.2 L582.5,66.2 L584,66.2 L585.5,66.2 L587,66.2 L588.5,66.2 L590,66.2 L591.5,66.2 L593,68.4 L594.5,73 L596,77.9 L597.5,82.2 L599,84.6 L600.5,84.3 L602,81 L603.5,76.1 L605,70.8 L606.5,66.2 L608,66.2 L609.5,66.2 L611,66.2 L612.5,66.2 L614,66.2 L615.5,66.2 L617,66.2 L618.5,66.2 L620,66.2 L621.5,66.3 L623,67.7 L624.5,68.8 L626,69.7 L627.5,70.3 L629,70.7 L630.5,71.1 L632,71.4 L633.5,71.6 L635,71.5 L636.5,70.4 L638,68.2 L639.5,66.2 L640.5,66.2 L640.5,66.2 L359,66.2 Z" fill="#e8573e"/>
<path d="M359,62.5 L360.5,67.1 L362,70.6 L363.5,73.2 L365,74.9 L366.5,76.1 L368,76.7 L369.5,76.9 L371,76.9 L372.5,76.5 L374,73.5 L375.5,68.6 L377,63 L378.5,57.7 L380,52.6 L381.5,46.5 L383,40.4 L384.5,35.2 L386,31.9 L387.5,31.2 L389,32.9 L390.5,36.3 L392,40.7 L393.5,45.7 L395,50.5 L396.5,54.6 L398,57.5 L399.5,58.5 L401,57.9 L402.5,56.4 L404,54.4 L405.5,52.2 L407,50.2 L408.5,48.7 L410,48.2 L411.5,48.7 L413,50 L414.5,51.7 L416,53.7 L417.5,55.7 L419,57.4 L420.5,58.6 L422,58.9 L423.5,58.4 L425,57.5 L426.5,56.2 L428,55 L429.5,53.9 L431,53.4 L432.5,53.8 L434,55.5 L435.5,58.2 L437,61.5 L438.5,64.8 L440,68 L441.5,70.5 L443,71.9 L444.5,71.7 L446,69.7 L447.5,66.3 L449,62 L450.5,57.5 L452,53.4 L453.5,50.1 L455,48.3 L456.5,48.3 L458,49.6 L459.5,51.6 L461,54 L462.5,56.6 L464,59.1 L465.5,60.9 L467,62 L468.5,61.8 L470,60.5 L471.5,58.4 L473,56 L474.5,53.7 L476,52 L477.5,51.3 L479,51.7 L480.5,52.4 L482,53.4 L483.5,54.3 L485,55 L486.5,55.1 L488,54.5 L489.5,53.4 L491,52.1 L492.5,50.7 L494,49.6 L495.5,48.9 L497,48.9 L498.5,49.7 L500,51.1 L501.5,53 L503,55.1 L504.5,57.2 L506,59.3 L507.5,62.3 L509,65.6 L510.5,68.8 L512,71.3 L513.5,72.6 L515,72.3 L516.5,71.1 L518,69.1 L519.5,66.7 L521,64.1 L522.5,61.5 L524,59.2 L525.5,57.3 L527,55.5 L528.5,53.6 L530,52.1 L531.5,51.1 L533,51.1 L534.5,52 L536,53.5 L537.5,55.3 L539,56.9 L540.5,58.1 L542,58.6 L543.5,57.9 L545,56.3 L546.5,54.3 L548,52.3 L549.5,50.8 L551,50.1 L552.5,50.3 L554,50.8 L555.5,51.7 L557,52.7 L558.5,53.9 L560,55.2 L561.5,56.6 L563,58 L564.5,59.3 L566,60.5 L567.5,61.6 L569,62.4 L570.5,63 L572,63.2 L573.5,62.7 L575,61 L576.5,58.6 L578,55.6 L579.5,52.6 L581,49.7 L582.5,47.4 L584,46 L585.5,45.8 L587,47.2 L588.5,49.8 L590,53.1 L591.5,56.5 L593,59.9 L594.5,64.5 L596,69.4 L597.5,73.7 L599,76.2 L600.5,75.8 L602,72.5 L603.5,67.6 L605,62.2 L606.5,57.7 L608,53.5 L609.5,48.9 L611,44.7 L612.5,41.7 L614,40.5 L615.5,42.1 L617,45.9 L618.5,50.7 L620,55.1 L621.5,57.7 L623,59.1 L624.5,60.2 L626,61.1 L627.5,61.8 L629,62.2 L630.5,62.5 L632,62.8 L633.5,63 L635,62.9 L636.5,61.8 L638,59.6 L639.5,56.8 L640.5,54.7" fill="none" stroke="#1a1a1a" stroke-width="1.15" stroke-dasharray="4,2.4"/>
<path d="M359,78.5 L360.5,83.2 L362,86.8 L363.5,89.5 L365,91.4 L366.5,92.6 L368,93.4 L369.5,93.7 L371,93.9 L372.5,93.5 L374,90.7 L375.5,85.9 L377,80.3 L378.5,75.3 L380,70.2 L381.5,64.2 L383,58.3 L384.5,53.2 L386,50 L387.5,49.4 L389,51.2 L390.5,54.6 L392,59 L393.5,63.8 L395,68.5 L396.5,72.5 L398,75.2 L399.5,76.1 L401,75.4 L402.5,73.8 L404,71.6 L405.5,69.3 L407,67.2 L408.5,65.6 L410,65 L411.5,65.4 L413,66.5 L414.5,68.2 L416,70 L417.5,71.9 L419,73.5 L420.5,74.6 L422,74.9 L423.5,74.5 L425,73.5 L426.5,72.3 L428,71 L429.5,70 L431,69.5 L432.5,69.9 L434,71.6 L435.5,74.3 L437,77.5 L438.5,80.9 L440,84.1 L441.5,86.6 L443,88 L444.5,87.9 L446,85.8 L447.5,82.4 L449,78.2 L450.5,73.7 L452,69.5 L453.5,66.3 L455,64.5 L456.5,64.5 L458,65.8 L459.5,67.8 L461,70.3 L462.5,72.9 L464,75.3 L465.5,77.2 L467,78.2 L468.5,78.1 L470,76.8 L471.5,74.7 L473,72.3 L474.5,70 L476,68.3 L477.5,67.7 L479,68 L480.5,68.8 L482,69.7 L483.5,70.7 L485,71.3 L486.5,71.4 L488,70.9 L489.5,69.8 L491,68.5 L492.5,67.1 L494,66 L495.5,65.3 L497,65.3 L498.5,66.1 L500,67.6 L501.5,69.4 L503,71.5 L504.5,73.6 L506,75.8 L507.5,78.8 L509,82.1 L510.5,85.3 L512,87.8 L513.5,89.1 L515,88.9 L516.5,87.6 L518,85.7 L519.5,83.2 L521,80.6 L522.5,78 L524,75.7 L525.5,73.9 L527,72.1 L528.5,70.2 L530,68.7 L531.5,67.7 L533,67.7 L534.5,68.6 L536,70.1 L537.5,71.9 L539,73.6 L540.5,74.8 L542,75.2 L543.5,74.5 L545,73 L546.5,71 L548,69 L549.5,67.5 L551,66.9 L552.5,67 L554,67.6 L555.5,68.4 L557,69.4 L558.5,70.6 L560,72 L561.5,73.3 L563,74.7 L564.5,76.1 L566,77.3 L567.5,78.4 L569,79.2 L570.5,79.8 L572,80 L573.5,79.5 L575,77.9 L576.5,75.4 L578,72.5 L579.5,69.5 L581,66.6 L582.5,64.3 L584,62.9 L585.5,62.7 L587,64.1 L588.5,66.7 L590,70 L591.5,73.4 L593,76.8 L594.5,81.4 L596,86.4 L597.5,90.7 L599,93.1 L600.5,92.8 L602,89.5 L603.5,84.6 L605,79.3 L606.5,74.7 L608,70.5 L609.5,66 L611,61.8 L612.5,58.7 L614,57.5 L615.5,59.1 L617,63 L618.5,67.8 L620,72.2 L621.5,74.8 L623,76.2 L624.5,77.4 L626,78.2 L627.5,78.9 L629,79.3 L630.5,79.7 L632,80 L633.5,80.1 L635,80.1 L636.5,79 L638,76.8 L639.5,74 L640.5,71.9" fill="none" stroke="#1a1a1a" stroke-width="1.15" stroke-dasharray="4,2.4"/>
<path d="M359,70.5 L360.5,75.1 L362,78.7 L363.5,81.3 L365,83.2 L366.5,84.3 L368,85 L369.5,85.3 L371,85.4 L372.5,85 L374,82.1 L375.5,77.2 L377,71.6 L378.5,66.5 L380,61.4 L381.5,55.4 L383,49.3 L384.5,44.2 L386,40.9 L387.5,40.3 L389,42.1 L390.5,45.5 L392,49.9 L393.5,54.7 L395,59.5 L396.5,63.5 L398,66.3 L399.5,67.3 L401,66.6 L402.5,65.1 L404,63 L405.5,60.7 L407,58.7 L408.5,57.2 L410,56.6 L411.5,57.1 L413,58.3 L414.5,60 L416,61.9 L417.5,63.8 L419,65.4 L420.5,66.6 L422,66.9 L423.5,66.4 L425,65.5 L426.5,64.2 L428,63 L429.5,62 L431,61.4 L432.5,61.8 L434,63.6 L435.5,66.2 L437,69.5 L438.5,72.9 L440,76 L441.5,78.5 L443,79.9 L444.5,79.8 L446,77.8 L447.5,74.3 L449,70.1 L450.5,65.6 L452,61.4 L453.5,58.2 L455,56.4 L456.5,56.4 L458,57.7 L459.5,59.7 L461,62.2 L462.5,64.8 L464,67.2 L465.5,69.1 L467,70.1 L468.5,70 L470,68.6 L471.5,66.5 L473,64.1 L474.5,61.9 L476,60.2 L477.5,59.5 L479,59.8 L480.5,60.6 L482,61.6 L483.5,62.5 L485,63.2 L486.5,63.3 L488,62.7 L489.5,61.6 L491,60.3 L492.5,58.9 L494,57.8 L495.5,57.1 L497,57.1 L498.5,57.9 L500,59.4 L501.5,61.2 L503,63.3 L504.5,65.4 L506,67.6 L507.5,70.5 L509,73.9 L510.5,77 L512,79.6 L513.5,80.8 L515,80.6 L516.5,79.4 L518,77.4 L519.5,75 L521,72.3 L522.5,69.7 L524,67.4 L525.5,65.6 L527,63.8 L528.5,61.9 L530,60.4 L531.5,59.4 L533,59.4 L534.5,60.3 L536,61.8 L537.5,63.6 L539,65.2 L540.5,66.5 L542,66.9 L543.5,66.2 L545,64.6 L546.5,62.6 L548,60.6 L549.5,59.1 L551,58.5 L552.5,58.7 L554,59.2 L555.5,60 L557,61.1 L558.5,62.3 L560,63.6 L561.5,65 L563,66.3 L564.5,67.7 L566,68.9 L567.5,70 L569,70.8 L570.5,71.4 L572,71.6 L573.5,71.1 L575,69.5 L576.5,67 L578,64.1 L579.5,61 L581,58.2 L582.5,55.8 L584,54.4 L585.5,54.2 L587,55.6 L588.5,58.3 L590,61.5 L591.5,64.9 L593,68.4 L594.5,73 L596,77.9 L597.5,82.2 L599,84.6 L600.5,84.3 L602,81 L603.5,76.1 L605,70.8 L606.5,66.2 L608,62 L609.5,57.5 L611,53.3 L612.5,50.2 L614,49 L615.5,50.6 L617,54.5 L618.5,59.3 L620,63.7 L621.5,66.3 L623,67.7 L624.5,68.8 L626,69.7 L627.5,70.3 L629,70.7 L630.5,71.1 L632,71.4 L633.5,71.6 L635,71.5 L636.5,70.4 L638,68.2 L639.5,65.4 L640.5,63.3" fill="none" stroke="#0a1cff" stroke-width="1.7"/>
<path d="M359,70.5 L360.5,75.1 L362,78.7 L363.5,81.3 L365,83.2 L366.5,84.3 L368,85 L369.5,85.3 L371,85.4 L372.5,85 L374,82.1 L375.5,77.2 L377,71.6 L378.5,66.5 L380,61.4 L381.5,55.4 L383,49.3 L384.5,44.2 L386,40.9 L387.5,40.3 L389,42.1 L390.5,45.5 L392,49.9 L393.5,54.7 L395,59.5 L396.5,63.5 L398,66.3 L399.5,67.3 L401,66.6 L402.5,65.1 L404,63 L405.5,60.7 L407,58.7 L408.5,57.2 L410,56.6 L411.5,57.1 L413,58.3 L414.5,60 L416,61.9 L417.5,63.8 L419,65.4 L420.5,66.6 L422,66.9 L423.5,66.4 L425,65.5 L426.5,64.2 L428,63 L429.5,62 L431,61.4 L432.5,61.8 L434,63.6 L435.5,66.2 L437,69.5 L438.5,72.9 L440,76 L441.5,78.5 L443,79.9 L444.5,79.8 L446,77.8 L447.5,74.3 L449,70.1 L450.5,65.6 L452,61.4 L453.5,58.2 L455,56.4 L456.5,56.4 L458,57.7 L459.5,59.7 L461,62.2 L462.5,64.8 L464,67.2 L465.5,69.1 L467,70.1 L468.5,70 L470,68.6 L471.5,66.5 L473,64.1 L474.5,61.9 L476,60.2 L477.5,59.5 L479,59.8 L480.5,60.6 L482,61.6 L483.5,62.5 L485,63.2 L486.5,63.3 L488,62.7 L489.5,61.6 L491,60.3 L492.5,58.9 L494,57.8 L495.5,57.1 L497,57.1 L498.5,57.9 L500,59.4 L501.5,61.2 L503,63.3 L504.5,65.4 L506,67.6 L507.5,70.5 L509,73.9 L510.5,77 L512,79.6 L513.5,80.8 L515,80.6 L516.5,79.4 L518,77.4 L519.5,75 L521,72.3 L522.5,69.7 L524,67.4 L525.5,65.6 L527,63.8 L528.5,61.9 L530,60.4 L531.5,59.4 L533,59.4 L534.5,60.3 L536,61.8 L537.5,63.6 L539,65.2 L540.5,66.5 L542,66.9 L543.5,66.2 L545,64.6 L546.5,62.6 L548,60.6 L549.5,59.1 L551,58.5 L552.5,58.7 L554,59.2 L555.5,60 L557,61.1 L558.5,62.3 L560,63.6 L561.5,65 L563,66.3 L564.5,67.7 L566,68.9 L567.5,70 L569,70.8 L570.5,71.4 L572,71.6 L573.5,71.1 L575,69.5 L576.5,67 L578,64.1 L579.5,61 L581,58.2 L582.5,55.8 L584,54.4 L585.5,54.2 L587,55.6 L588.5,58.3 L590,61.5 L591.5,64.9 L593,68.4 L594.5,73 L596,77.9 L597.5,82.2 L599,84.6 L600.5,84.3 L602,81 L603.5,76.1 L605,70.8 L606.5,66.2 L608,62 L609.5,57.5 L611,53.3 L612.5,50.2 L614,49 L615.5,50.6 L617,54.5 L618.5,59.3 L620,63.7 L621.5,66.3 L623,67.7 L624.5,68.8 L626,69.7 L627.5,70.3 L629,70.7 L630.5,71.1 L632,71.4 L633.5,71.6 L635,71.5 L636.5,70.4 L638,68.2 L639.5,65.4 L640.5,63.3" fill="none" stroke="#111" stroke-width="1.5" stroke-dasharray="2.6,3"/>
<line x1="514.4" y1="55.8" x2="514.4" y2="75.8" stroke="#19e6ee" stroke-width="2.6"/>
<line x1="518.7" y1="111" x2="518.7" y2="129.4" stroke="#19e6ee" stroke-width="2.6"/>
<line x1="514.7" y1="173" x2="514.7" y2="192.6" stroke="#19e6ee" stroke-width="2.6"/>
<line x1="525.1" y1="230.4" x2="525.1" y2="249.8" stroke="#19e6ee" stroke-width="2.6"/>
<line x1="498.4" y1="282" x2="498.4" y2="301.9" stroke="#19e6ee" stroke-width="2.6"/>
<line x1="433" y1="282" x2="433" y2="301.9" stroke="#0a14d8" stroke-width="2.6"/>
<circle cx="514.4" cy="90.3" r="1.8" fill="#111"/>
<circle cx="518.7" cy="153" r="1.8" fill="#111"/>
<circle cx="518.7" cy="142.2" r="1.8" fill="#111"/>
<circle cx="514.7" cy="224" r="1.8" fill="#111"/>
<circle cx="525.1" cy="261.6" r="1.8" fill="#111"/>
<circle cx="498.4" cy="325.3" r="1.8" fill="#111"/>
<line x1="358.7" y1="332.3" x2="641.5" y2="332.3" stroke="#444" stroke-width="1.3"/>
<line x1="372.5" y1="329.5" x2="372.5" y2="332" stroke="#444" stroke-width="1"/>
<text x="372.5" y="344.5" font-size="10.3" text-anchor="middle" fill="#444">0</text>
<line x1="439.8" y1="329.5" x2="439.8" y2="332" stroke="#444" stroke-width="1"/>
<text x="439.8" y="344.5" font-size="10.3" text-anchor="middle" fill="#444">100</text>
<line x1="507.1" y1="329.5" x2="507.1" y2="332" stroke="#444" stroke-width="1"/>
<text x="507.1" y="344.5" font-size="10.3" text-anchor="middle" fill="#444">200</text>
<line x1="574.4" y1="329.5" x2="574.4" y2="332" stroke="#444" stroke-width="1"/>
<text x="574.4" y="344.5" font-size="10.3" text-anchor="middle" fill="#444">300</text>
<line x1="641.7" y1="329.5" x2="641.7" y2="332" stroke="#444" stroke-width="1"/>
<text x="641.7" y="344.5" font-size="10.3" text-anchor="middle" fill="#444">400</text>
<text x="472.5" y="358.6" font-size="12.6" textLength="65.5" lengthAdjust="spacingAndGlyphs" fill="#444">Depth (km)</text>
<text x="356.9" y="35.2" font-size="10.3" text-anchor="end" fill="#444">0.5</text>
<text x="355.6" y="67.1" font-size="10.3" text-anchor="end" fill="#444">0</text>
<text x="358.2" y="96.4" font-size="10.3" text-anchor="end" fill="#444">-0.5</text>
<text x="636.2" y="45" font-size="11" text-anchor="middle" fill="#444">A</text>
<text x="636.2" y="98.6" font-size="11" text-anchor="middle" fill="#444">B</text>
<text x="636.2" y="159.8" font-size="11" text-anchor="middle" fill="#444">C</text>
<text x="636.2" y="219.9" font-size="11" text-anchor="middle" fill="#444">D</text>
<text x="636.2" y="271" font-size="11" text-anchor="middle" fill="#444">E</text>
<text x="645.3" y="67.5" font-size="11.8" fill="#444">NBC4</text>
<text x="645.3" y="124" font-size="11.8" fill="#444">STPRA</text>
<text x="645.3" y="187" font-size="11.8" fill="#444">EDM</text>
<text x="645.3" y="244.5" font-size="11.8" fill="#444">MHB</text>
<text x="645.3" y="292.4" font-size="11.8" fill="#444">B08A</text>
<rect x="553.9" y="295.5" width="86.7" height="36.8" fill="#fff" stroke="#444" stroke-width="0.9"/>
<line x1="561.2" y1="308" x2="592.4" y2="308" stroke="#19e6ee" stroke-width="2.4"/>
<line x1="561.2" y1="323.5" x2="592.4" y2="323.5" stroke="#0a14d8" stroke-width="2.4"/>
<text x="595.6" y="312" font-size="10.3" fill="#444">Phase 1</text>
<text x="595.6" y="326.8" font-size="10.3" fill="#444">Phase 2</text>
<line x1="376.6" y1="362" x2="376.6" y2="469.5" stroke="#e4e4e4" stroke-width="0.8"/>
<line x1="420.4" y1="362" x2="420.4" y2="469.5" stroke="#e4e4e4" stroke-width="0.8"/>
<line x1="464.2" y1="362" x2="464.2" y2="469.5" stroke="#e4e4e4" stroke-width="0.8"/>
<line x1="508.1" y1="362" x2="508.1" y2="469.5" stroke="#e4e4e4" stroke-width="0.8"/>
<line x1="551.9" y1="362" x2="551.9" y2="469.5" stroke="#e4e4e4" stroke-width="0.8"/>
<line x1="595.7" y1="362" x2="595.7" y2="469.5" stroke="#e4e4e4" stroke-width="0.8"/>
<line x1="639.5" y1="362" x2="639.5" y2="469.5" stroke="#e4e4e4" stroke-width="0.8"/>
<path d="M359.1,391 L360.6,391 L362.1,391 L363.6,391 L365.1,391 L366.6,391 L368.1,391 L369.6,391 L371.1,391 L372.6,391 L374.1,391 L375.6,391 L377.1,391 L378.6,391 L380.1,391 L381.6,391 L383.1,391 L384.6,391 L386.1,391 L387.6,391 L389.1,391 L390.6,387.4 L392.1,383.1 L393.6,379.2 L395.1,376.6 L396.6,375.5 L398.1,374.7 L399.6,374.1 L401.1,373.7 L402.6,373.4 L404.1,373.3 L405.6,373.2 L407.1,373.1 L408.6,373 L410.1,373 L411.6,373 L413.1,373.1 L414.6,373.2 L416.1,373.3 L417.6,373.5 L419.1,373.9 L420.6,374.5 L422.1,375.2 L423.6,375.9 L425.1,376.7 L426.6,377.7 L428.1,378.9 L429.6,380.1 L431.1,381.3 L432.6,382.6 L434.1,383.9 L435.6,385.3 L437.1,386.9 L438.6,388.3 L440.1,389.6 L441.6,390.6 L443.1,391 L444.6,391 L446.1,391 L447.6,391 L449.1,391 L450.6,391 L452.1,391 L453.6,391 L455.1,391 L456.6,391 L458.1,391 L459.6,391 L461.1,391 L462.6,391 L464.1,390.8 L465.6,390.6 L467.1,390.5 L468.6,390.3 L470.1,390.2 L471.6,390 L473.1,389.9 L474.6,389.7 L476.1,389.5 L477.6,389.2 L479.1,388.8 L480.6,388.4 L482.1,388 L483.6,387.6 L485.1,387.2 L486.6,386.7 L488.1,386.3 L489.6,385.9 L491.1,385.6 L492.6,385.3 L494.1,385.1 L495.6,384.9 L497.1,384.9 L498.6,385.1 L500.1,385.7 L501.6,386.5 L503.1,387.4 L504.6,388.3 L506.1,389 L507.6,389.5 L509.1,389.6 L510.6,389.6 L512.1,389.6 L513.6,389.6 L515.1,389.6 L516.6,389.6 L518.1,389.6 L519.6,389.6 L521.1,389.6 L522.6,389.6 L524.1,389.6 L525.6,389.6 L527.1,389.6 L528.6,389.7 L530.1,389.8 L531.6,389.9 L533.1,390 L534.6,390.1 L536.1,390.2 L537.6,390.4 L539.1,390.5 L540.6,390.7 L542.1,390.9 L543.6,391 L545.1,391 L546.6,391 L548.1,391 L549.6,391 L551.1,391 L552.6,391 L554.1,391 L555.6,391 L557.1,391 L558.6,391 L560.1,391 L561.6,391 L563.1,391 L564.6,391 L566.1,391 L567.6,391 L569.1,391 L570.6,391 L572.1,391 L573.6,391 L575.1,391 L576.6,391 L578.1,391 L579.6,391 L581.1,391 L582.6,390.7 L584.1,389.5 L585.6,388.9 L587.1,388.9 L588.6,389 L590.1,389.2 L591.6,389.4 L593.1,389.6 L594.6,389.8 L596.1,390.1 L597.6,390.3 L599.1,390.4 L600.6,390.6 L602.1,390.7 L603.6,390.8 L605.1,390.9 L606.6,391 L608.1,391 L609.6,391 L611.1,391 L612.6,391 L614.1,391 L615.6,391 L617.1,391 L618.6,391 L620.1,391 L621.6,391 L623.1,391 L624.6,391 L626.1,391 L627.6,391 L629.1,391 L630.6,391 L632.1,391 L633.6,391 L635.1,391 L636.6,391 L638.1,391 L639.5,391 L639.5,391 L359.1,391 Z" fill="#7d7d7d"/>
<path d="M359.1,400.6 L360.6,404.9 L362.1,408.5 L363.6,411.5 L365.1,413.9 L366.6,415.8 L368.1,417.3 L369.6,418.4 L371.1,419.1 L372.6,419.6 L374.1,419.9 L375.6,420 L377.1,419.9 L378.6,418.7 L380.1,416.1 L381.6,412.7 L383.1,408.6 L384.6,404 L386.1,399.5 L387.6,395.1 L389.1,391.2 L390.6,391 L392.1,391 L393.6,391 L395.1,391 L396.6,391 L398.1,391 L399.6,391 L401.1,391 L402.6,391 L404.1,391 L405.6,391 L407.1,391 L408.6,391 L410.1,391 L411.6,391 L413.1,391 L414.6,391 L416.1,391 L417.6,391 L419.1,391 L420.6,391 L422.1,391 L423.6,391 L425.1,391 L426.6,391 L428.1,391 L429.6,391 L431.1,391 L432.6,391 L434.1,391 L435.6,391 L437.1,391 L438.6,391 L440.1,391 L441.6,391 L443.1,391.2 L444.6,391.6 L446.1,392 L447.6,392.4 L449.1,392.6 L450.6,392.8 L452.1,392.8 L453.6,392.7 L455.1,392.5 L456.6,392.2 L458.1,391.8 L459.6,391.5 L461.1,391.2 L462.6,391 L464.1,391 L465.6,391 L467.1,391 L468.6,391 L470.1,391 L471.6,391 L473.1,391 L474.6,391 L476.1,391 L477.6,391 L479.1,391 L480.6,391 L482.1,391 L483.6,391 L485.1,391 L486.6,391 L488.1,391 L489.6,391 L491.1,391 L492.6,391 L494.1,391 L495.6,391 L497.1,391 L498.6,391 L500.1,391 L501.6,391 L503.1,391 L504.6,391 L506.1,391 L507.6,391 L509.1,391 L510.6,391 L512.1,391 L513.6,391 L515.1,391 L516.6,391 L518.1,391 L519.6,391 L521.1,391 L522.6,391 L524.1,391 L525.6,391 L527.1,391 L528.6,391 L530.1,391 L531.6,391 L533.1,391 L534.6,391 L536.1,391 L537.6,391 L539.1,391 L540.6,391 L542.1,391 L543.6,391.4 L545.1,392.6 L546.6,394.3 L548.1,396.3 L549.6,398.5 L551.1,400.6 L552.6,402.4 L554.1,403.9 L555.6,405.6 L557.1,407.3 L558.6,409 L560.1,410.5 L561.6,411.7 L563.1,412.5 L564.6,412.9 L566.1,412.7 L567.6,412.1 L569.1,411.1 L570.6,409.9 L572.1,408.4 L573.6,406.9 L575.1,405.1 L576.6,402.2 L578.1,398.8 L579.6,395.3 L581.1,392.5 L582.6,391 L584.1,391 L585.6,391 L587.1,391 L588.6,391 L590.1,391 L591.6,391 L593.1,391 L594.6,391 L596.1,391 L597.6,391 L599.1,391 L600.6,391 L602.1,391 L603.6,391 L605.1,391 L606.6,391 L608.1,391.2 L609.6,391.4 L611.1,391.7 L612.6,392 L614.1,392.3 L615.6,392.4 L617.1,392.4 L618.6,392.4 L620.1,392.4 L621.6,392.4 L623.1,392.4 L624.6,392.3 L626.1,392.3 L627.6,392.3 L629.1,392.2 L630.6,392.1 L632.1,392 L633.6,391.9 L635.1,391.8 L636.6,391.6 L638.1,391.4 L639.5,391.2 L639.5,391 L359.1,391 Z" fill="#e8573e"/>
<path d="M359.1,400.6 L360.6,404.9 L362.1,408.5 L363.6,411.5 L365.1,413.9 L366.6,415.8 L368.1,417.3 L369.6,418.4 L371.1,419.1 L372.6,419.6 L374.1,419.9 L375.6,420 L377.1,419.9 L378.6,418.7 L380.1,416.1 L381.6,412.7 L383.1,408.6 L384.6,404 L386.1,399.5 L387.6,395.1 L389.1,391.2 L390.6,387.4 L392.1,383.1 L393.6,379.2 L395.1,376.6 L396.6,375.5 L398.1,374.7 L399.6,374.1 L401.1,373.7 L402.6,373.4 L404.1,373.3 L405.6,373.2 L407.1,373.1 L408.6,373 L410.1,373 L411.6,373 L413.1,373.1 L414.6,373.2 L416.1,373.3 L417.6,373.5 L419.1,373.9 L420.6,374.5 L422.1,375.2 L423.6,375.9 L425.1,376.7 L426.6,377.7 L428.1,378.9 L429.6,380.1 L431.1,381.3 L432.6,382.6 L434.1,383.9 L435.6,385.3 L437.1,386.9 L438.6,388.3 L440.1,389.6 L441.6,390.6 L443.1,391.2 L444.6,391.6 L446.1,392 L447.6,392.4 L449.1,392.6 L450.6,392.8 L452.1,392.8 L453.6,392.7 L455.1,392.5 L456.6,392.2 L458.1,391.8 L459.6,391.5 L461.1,391.2 L462.6,391 L464.1,390.8 L465.6,390.6 L467.1,390.5 L468.6,390.3 L470.1,390.2 L471.6,390 L473.1,389.9 L474.6,389.7 L476.1,389.5 L477.6,389.2 L479.1,388.8 L480.6,388.4 L482.1,388 L483.6,387.6 L485.1,387.2 L486.6,386.7 L488.1,386.3 L489.6,385.9 L491.1,385.6 L492.6,385.3 L494.1,385.1 L495.6,384.9 L497.1,384.9 L498.6,385.1 L500.1,385.7 L501.6,386.5 L503.1,387.4 L504.6,388.3 L506.1,389 L507.6,389.5 L509.1,389.6 L510.6,389.6 L512.1,389.6 L513.6,389.6 L515.1,389.6 L516.6,389.6 L518.1,389.6 L519.6,389.6 L521.1,389.6 L522.6,389.6 L524.1,389.6 L525.6,389.6 L527.1,389.6 L528.6,389.7 L530.1,389.8 L531.6,389.9 L533.1,390 L534.6,390.1 L536.1,390.2 L537.6,390.4 L539.1,390.5 L540.6,390.7 L542.1,390.9 L543.6,391.4 L545.1,392.6 L546.6,394.3 L548.1,396.3 L549.6,398.5 L551.1,400.6 L552.6,402.4 L554.1,403.9 L555.6,405.6 L557.1,407.3 L558.6,409 L560.1,410.5 L561.6,411.7 L563.1,412.5 L564.6,412.9 L566.1,412.7 L567.6,412.1 L569.1,411.1 L570.6,409.9 L572.1,408.4 L573.6,406.9 L575.1,405.1 L576.6,402.2 L578.1,398.8 L579.6,395.3 L581.1,392.5 L582.6,390.7 L584.1,389.5 L585.6,388.9 L587.1,388.9 L588.6,389 L590.1,389.2 L591.6,389.4 L593.1,389.6 L594.6,389.8 L596.1,390.1 L597.6,390.3 L599.1,390.4 L600.6,390.6 L602.1,390.7 L603.6,390.8 L605.1,390.9 L606.6,391 L608.1,391.2 L609.6,391.4 L611.1,391.7 L612.6,392 L614.1,392.3 L615.6,392.4 L617.1,392.4 L618.6,392.4 L620.1,392.4 L621.6,392.4 L623.1,392.4 L624.6,392.3 L626.1,392.3 L627.6,392.3 L629.1,392.2 L630.6,392.1 L632.1,392 L633.6,391.9 L635.1,391.8 L636.6,391.6 L638.1,391.4 L639.5,391.2" fill="none" stroke="#4a4a4a" stroke-width="0.8"/>
<path d="M359.1,441 L360.6,441 L362.1,441 L363.6,441 L365.1,441 L366.6,441 L368.1,441 L369.6,441 L371.1,441 L372.6,441 L374.1,439.6 L375.6,434.6 L377.1,429.4 L378.6,425.2 L380.1,423.1 L381.6,421.6 L383.1,420.6 L384.6,420.4 L386.1,420.7 L387.6,421.3 L389.1,422 L390.6,422.8 L392.1,423.4 L393.6,423.8 L395.1,423.9 L396.6,423.6 L398.1,422.9 L399.6,422.1 L401.1,421.1 L402.6,420.1 L404.1,419.1 L405.6,418.3 L407.1,417.8 L408.6,417.6 L410.1,418 L411.6,419.1 L413.1,420.6 L414.6,422.4 L416.1,424.3 L417.6,426.1 L419.1,428.2 L420.6,430.5 L422.1,433 L423.6,435.5 L425.1,437.9 L426.6,440.1 L428.1,441 L429.6,441 L431.1,441 L432.6,441 L434.1,441 L435.6,441 L437.1,441 L438.6,441 L440.1,441 L441.6,441 L443.1,441 L444.6,441 L446.1,441 L447.6,441 L449.1,441 L450.6,441 L452.1,441 L453.6,441 L455.1,441 L456.6,441 L458.1,441 L459.6,441 L461.1,441 L462.6,441 L464.1,441 L465.6,441 L467.1,441 L468.6,441 L470.1,441 L471.6,441 L473.1,441 L474.6,441 L476.1,440.7 L477.6,440.3 L479.1,439.9 L480.6,439.5 L482.1,439.1 L483.6,438.8 L485.1,438.5 L486.6,438.2 L488.1,438.1 L489.6,438 L491.1,438 L492.6,438.2 L494.1,438.5 L495.6,438.8 L497.1,439.2 L498.6,439.6 L500.1,440 L501.6,440.4 L503.1,440.7 L504.6,440.9 L506.1,441 L507.6,440.9 L509.1,440.7 L510.6,440.4 L512.1,440.1 L513.6,439.7 L515.1,439.4 L516.6,439.2 L518.1,439.1 L519.6,439.4 L521.1,440.2 L522.6,441 L524.1,441 L525.6,441 L527.1,441 L528.6,441 L530.1,441 L531.6,441 L533.1,441 L534.6,441 L536.1,441 L537.6,441 L539.1,441 L540.6,441 L542.1,441 L543.6,441 L545.1,441 L546.6,441 L548.1,441 L549.6,441 L551.1,441 L552.6,441 L554.1,441 L555.6,441 L557.1,441 L558.6,441 L560.1,441 L561.6,441 L563.1,441 L564.6,441 L566.1,441 L567.6,441 L569.1,441 L570.6,441 L572.1,438.9 L573.6,437.3 L575.1,437.2 L576.6,437.3 L578.1,437.5 L579.6,437.7 L581.1,437.9 L582.6,438.1 L584.1,438.3 L585.6,438.5 L587.1,438.6 L588.6,438.6 L590.1,438.6 L591.6,438.6 L593.1,438.6 L594.6,438.6 L596.1,438.6 L597.6,438.6 L599.1,438.5 L600.6,438.4 L602.1,438.1 L603.6,437.9 L605.1,437.6 L606.6,437.4 L608.1,437.2 L609.6,437.2 L611.1,437.7 L612.6,438.7 L614.1,439.7 L615.6,440.7 L617.1,441 L618.6,441 L620.1,441 L621.6,441 L623.1,441 L624.6,441 L626.1,441 L627.6,441 L629.1,441 L630.6,441 L632.1,440.6 L633.6,439.4 L635.1,438.1 L636.6,437.3 L638.1,437.3 L639.5,438 L639.5,441 L359.1,441 Z" fill="#7d7d7d"/>
<path d="M359.1,459 L360.6,458.8 L362.1,458.3 L363.6,457.5 L365.1,456.5 L366.6,455.3 L368.1,453.9 L369.6,451.3 L371.1,447.7 L372.6,443.7 L374.1,441 L375.6,441 L377.1,441 L378.6,441 L380.1,441 L381.6,441 L383.1,441 L384.6,441 L386.1,441 L387.6,441 L389.1,441 L390.6,441 L392.1,441 L393.6,441 L395.1,441 L396.6,441 L398.1,441 L399.6,441 L401.1,441 L402.6,441 L404.1,441 L405.6,441 L407.1,441 L408.6,441 L410.1,441 L411.6,441 L413.1,441 L414.6,441 L416.1,441 L417.6,441 L419.1,441 L420.6,441 L422.1,441 L423.6,441 L425.1,441 L426.6,441 L428.1,442 L429.6,444.1 L431.1,446.2 L432.6,448.2 L434.1,449.9 L435.6,451.2 L437.1,451.9 L438.6,451.9 L440.1,451.5 L441.6,450.8 L443.1,450.2 L444.6,449.6 L446.1,449.3 L447.6,449.1 L449.1,448.9 L450.6,448.7 L452.1,448.6 L453.6,448.4 L455.1,448.2 L456.6,448.1 L458.1,447.9 L459.6,447.6 L461.1,447.3 L462.6,446.9 L464.1,446.3 L465.6,445.6 L467.1,444.9 L468.6,444 L470.1,443.2 L471.6,442.4 L473.1,441.8 L474.6,441.2 L476.1,441 L477.6,441 L479.1,441 L480.6,441 L482.1,441 L483.6,441 L485.1,441 L486.6,441 L488.1,441 L489.6,441 L491.1,441 L492.6,441 L494.1,441 L495.6,441 L497.1,441 L498.6,441 L500.1,441 L501.6,441 L503.1,441 L504.6,441 L506.1,441 L507.6,441 L509.1,441 L510.6,441 L512.1,441 L513.6,441 L515.1,441 L516.6,441 L518.1,441 L519.6,441 L521.1,441 L522.6,441 L524.1,441.7 L525.6,442.6 L527.1,443.5 L528.6,444.4 L530.1,445.3 L531.6,446 L533.1,446.6 L534.6,447 L536.1,447.4 L537.6,447.8 L539.1,448.1 L540.6,448.4 L542.1,448.5 L543.6,448.4 L545.1,447.7 L546.6,447 L548.1,446.6 L549.6,446.9 L551.1,448.1 L552.6,449.8 L554.1,451.7 L555.6,453.2 L557.1,454.2 L558.6,454.2 L560.1,453.3 L561.6,452 L563.1,450.4 L564.6,448.7 L566.1,447 L567.6,445 L569.1,442.9 L570.6,441 L572.1,441 L573.6,441 L575.1,441 L576.6,441 L578.1,441 L579.6,441 L581.1,441 L582.6,441 L584.1,441 L585.6,441 L587.1,441 L588.6,441 L590.1,441 L591.6,441 L593.1,441 L594.6,441 L596.1,441 L597.6,441 L599.1,441 L600.6,441 L602.1,441 L603.6,441 L605.1,441 L606.6,441 L608.1,441 L609.6,441 L611.1,441 L612.6,441 L614.1,441 L615.6,441 L617.1,441.4 L618.6,442.1 L620.1,442.8 L621.6,443.3 L623.1,443.7 L624.6,443.8 L626.1,443.5 L627.6,443 L629.1,442.2 L630.6,441.4 L632.1,441 L633.6,441 L635.1,441 L636.6,441 L638.1,441 L639.5,441 L639.5,441 L359.1,441 Z" fill="#e8573e"/>
<path d="M359.1,459 L360.6,458.8 L362.1,458.3 L363.6,457.5 L365.1,456.5 L366.6,455.3 L368.1,453.9 L369.6,451.3 L371.1,447.7 L372.6,443.7 L374.1,439.6 L375.6,434.6 L377.1,429.4 L378.6,425.2 L380.1,423.1 L381.6,421.6 L383.1,420.6 L384.6,420.4 L386.1,420.7 L387.6,421.3 L389.1,422 L390.6,422.8 L392.1,423.4 L393.6,423.8 L395.1,423.9 L396.6,423.6 L398.1,422.9 L399.6,422.1 L401.1,421.1 L402.6,420.1 L404.1,419.1 L405.6,418.3 L407.1,417.8 L408.6,417.6 L410.1,418 L411.6,419.1 L413.1,420.6 L414.6,422.4 L416.1,424.3 L417.6,426.1 L419.1,428.2 L420.6,430.5 L422.1,433 L423.6,435.5 L425.1,437.9 L426.6,440.1 L428.1,442 L429.6,444.1 L431.1,446.2 L432.6,448.2 L434.1,449.9 L435.6,451.2 L437.1,451.9 L438.6,451.9 L440.1,451.5 L441.6,450.8 L443.1,450.2 L444.6,449.6 L446.1,449.3 L447.6,449.1 L449.1,448.9 L450.6,448.7 L452.1,448.6 L453.6,448.4 L455.1,448.2 L456.6,448.1 L458.1,447.9 L459.6,447.6 L461.1,447.3 L462.6,446.9 L464.1,446.3 L465.6,445.6 L467.1,444.9 L468.6,444 L470.1,443.2 L471.6,442.4 L473.1,441.8 L474.6,441.2 L476.1,440.7 L477.6,440.3 L479.1,439.9 L480.6,439.5 L482.1,439.1 L483.6,438.8 L485.1,438.5 L486.6,438.2 L488.1,438.1 L489.6,438 L491.1,438 L492.6,438.2 L494.1,438.5 L495.6,438.8 L497.1,439.2 L498.6,439.6 L500.1,440 L501.6,440.4 L503.1,440.7 L504.6,440.9 L506.1,441 L507.6,440.9 L509.1,440.7 L510.6,440.4 L512.1,440.1 L513.6,439.7 L515.1,439.4 L516.6,439.2 L518.1,439.1 L519.6,439.4 L521.1,440.2 L522.6,441 L524.1,441.7 L525.6,442.6 L527.1,443.5 L528.6,444.4 L530.1,445.3 L531.6,446 L533.1,446.6 L534.6,447 L536.1,447.4 L537.6,447.8 L539.1,448.1 L540.6,448.4 L542.1,448.5 L543.6,448.4 L545.1,447.7 L546.6,447 L548.1,446.6 L549.6,446.9 L551.1,448.1 L552.6,449.8 L554.1,451.7 L555.6,453.2 L557.1,454.2 L558.6,454.2 L560.1,453.3 L561.6,452 L563.1,450.4 L564.6,448.7 L566.1,447 L567.6,445 L569.1,442.9 L570.6,441 L572.1,438.9 L573.6,437.3 L575.1,437.2 L576.6,437.3 L578.1,437.5 L579.6,437.7 L581.1,437.9 L582.6,438.1 L584.1,438.3 L585.6,438.5 L587.1,438.6 L588.6,438.6 L590.1,438.6 L591.6,438.6 L593.1,438.6 L594.6,438.6 L596.1,438.6 L597.6,438.6 L599.1,438.5 L600.6,438.4 L602.1,438.1 L603.6,437.9 L605.1,437.6 L606.6,437.4 L608.1,437.2 L609.6,437.2 L611.1,437.7 L612.6,438.7 L614.1,439.7 L615.6,440.7 L617.1,441.4 L618.6,442.1 L620.1,442.8 L621.6,443.3 L623.1,443.7 L624.6,443.8 L626.1,443.5 L627.6,443 L629.1,442.2 L630.6,441.4 L632.1,440.6 L633.6,439.4 L635.1,438.1 L636.6,437.3 L638.1,437.3 L639.5,438" fill="none" stroke="#4a4a4a" stroke-width="0.8"/>
<line x1="564.3" y1="381.2" x2="564.3" y2="400.6" stroke="#19e6ee" stroke-width="2.6"/>
<line x1="557.8" y1="430.2" x2="557.8" y2="449.6" stroke="#19e6ee" stroke-width="2.6"/>
<line x1="439.7" y1="434.4" x2="439.7" y2="455.5" stroke="#0a14d8" stroke-width="2.6"/>
<text x="563.1" y="377.9" font-size="8.6" text-anchor="middle" fill="#444">LLAB</text>
<text x="556.5" y="427.9" font-size="8.6" text-anchor="middle" fill="#444">LLAB</text>
<text x="439.8" y="430.2" font-size="8.6" text-anchor="middle" fill="#444">CLAB</text>
<text x="646.5" y="378.4" font-size="12.4" text-anchor="end" fill="#444">NA Craton</text>
<text x="645.4" y="425.6" font-size="12" text-anchor="end" fill="#444">Cordillera</text>
<line x1="358.6" y1="469.9" x2="640" y2="469.9" stroke="#444" stroke-width="1.3"/>
<line x1="376.6" y1="467" x2="376.6" y2="469.5" stroke="#444" stroke-width="1"/>
<text x="376.6" y="480.6" font-size="10.4" text-anchor="middle" fill="#444">0</text>
<line x1="420.4" y1="467" x2="420.4" y2="469.5" stroke="#444" stroke-width="1"/>
<text x="420.4" y="480.6" font-size="10.4" text-anchor="middle" fill="#444">50</text>
<line x1="464.2" y1="467" x2="464.2" y2="469.5" stroke="#444" stroke-width="1"/>
<text x="464.2" y="480.6" font-size="10.4" text-anchor="middle" fill="#444">100</text>
<line x1="508.1" y1="467" x2="508.1" y2="469.5" stroke="#444" stroke-width="1"/>
<text x="508.1" y="480.6" font-size="10.4" text-anchor="middle" fill="#444">150</text>
<line x1="551.9" y1="467" x2="551.9" y2="469.5" stroke="#444" stroke-width="1"/>
<text x="551.9" y="480.6" font-size="10.4" text-anchor="middle" fill="#444">200</text>
<line x1="595.7" y1="467" x2="595.7" y2="469.5" stroke="#444" stroke-width="1"/>
<text x="595.7" y="480.6" font-size="10.4" text-anchor="middle" fill="#444">250</text>
<line x1="639.5" y1="467" x2="639.5" y2="469.5" stroke="#444" stroke-width="1"/>
<text x="639.5" y="480.6" font-size="10.4" text-anchor="middle" fill="#444">300</text>
<text x="473.7" y="497.6" font-size="12.6" textLength="65.5" lengthAdjust="spacingAndGlyphs" fill="#444">Depth (km)</text>
<text x="20.8" y="16.2" font-size="22" font-weight="bold" fill="#333" textLength="11.2" lengthAdjust="spacingAndGlyphs">a</text>
<text x="341.5" y="15.8" font-size="22" font-weight="bold" fill="#333">b</text>
<text x="341.5" y="366.7" font-size="22" font-weight="bold" fill="#333">c</text>
</svg></body></html>
